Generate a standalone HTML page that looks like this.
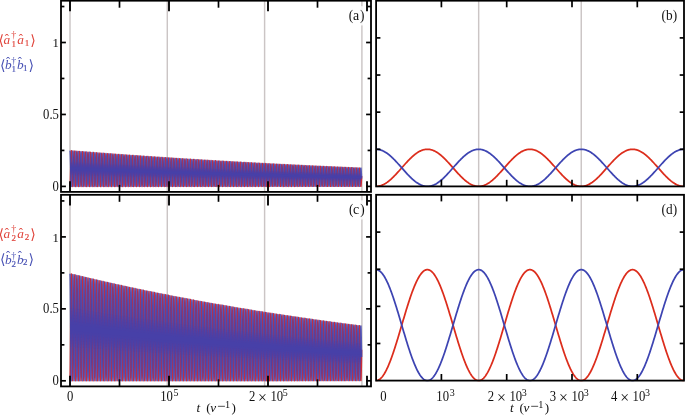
<!DOCTYPE html>
<html><head><meta charset="utf-8"><title>plot</title>
<style>html,body{margin:0;padding:0;background:#fff;overflow:hidden}svg{display:block}</style></head>
<body>
<svg width="685" height="415" viewBox="0 0 685 415" font-family="'Liberation Serif', 'DejaVu Serif', serif">
<defs>
<clipPath id="cb"><rect x="376.1" y="0.7" width="307.9" height="186.60000000000002"/></clipPath>
<clipPath id="cd"><rect x="376.1" y="194.8" width="307.9" height="186.70000000000002"/></clipPath>
</defs>
<rect width="685" height="415" fill="#fff"/>
<line x1="70.00" y1="0.70" x2="70.00" y2="191.90" stroke="#cbc5c5" stroke-width="1.45" />
<line x1="167.30" y1="0.70" x2="167.30" y2="191.90" stroke="#cbc5c5" stroke-width="1.45" />
<line x1="264.60" y1="0.70" x2="264.60" y2="191.90" stroke="#cbc5c5" stroke-width="1.45" />
<line x1="361.90" y1="0.70" x2="361.90" y2="191.90" stroke="#cbc5c5" stroke-width="1.45" />
<line x1="70.00" y1="194.80" x2="70.00" y2="386.40" stroke="#cbc5c5" stroke-width="1.45" />
<line x1="167.30" y1="194.80" x2="167.30" y2="386.40" stroke="#cbc5c5" stroke-width="1.45" />
<line x1="264.60" y1="194.80" x2="264.60" y2="386.40" stroke="#cbc5c5" stroke-width="1.45" />
<line x1="361.90" y1="194.80" x2="361.90" y2="386.40" stroke="#cbc5c5" stroke-width="1.45" />
<line x1="478.67" y1="0.70" x2="478.67" y2="186.40" stroke="#cbc5c5" stroke-width="1.45" />
<line x1="581.25" y1="0.70" x2="581.25" y2="186.40" stroke="#cbc5c5" stroke-width="1.45" />
<line x1="478.67" y1="194.80" x2="478.67" y2="380.60" stroke="#cbc5c5" stroke-width="1.45" />
<line x1="581.25" y1="194.80" x2="581.25" y2="380.60" stroke="#cbc5c5" stroke-width="1.45" />
<polyline fill="none" stroke="#d22c34" stroke-width="1.5" stroke-opacity="1" stroke-linejoin="round" points="70.00,186.40 70.17,185.04 70.35,181.18 70.52,175.39 70.69,168.58 70.87,161.77 71.04,156.01 71.21,152.16 71.39,150.83 71.56,152.20 71.73,156.07 71.90,161.85 72.08,168.66 72.25,175.46 72.42,181.22 72.60,185.06 72.77,186.40 72.94,185.04 73.12,181.19 73.29,175.44 73.46,168.67 73.64,161.91 73.81,156.18 73.98,152.37 74.16,151.05 74.33,152.42 74.50,156.28 74.68,162.02 74.85,168.79 75.02,175.55 75.19,181.26 75.37,185.07 75.54,186.40 75.71,185.04 75.89,181.21 76.06,175.49 76.23,168.76 76.41,162.04 76.58,156.36 76.75,152.58 76.93,151.27 77.10,152.65 77.27,156.48 77.45,162.20 77.62,168.92 77.79,175.64 77.97,181.31 78.14,185.09 78.31,186.40 78.48,185.04 78.66,181.23 78.83,175.54 79.00,168.85 79.18,162.17 79.35,156.53 79.52,152.78 79.70,151.50 79.87,152.87 80.04,156.69 80.22,162.37 80.39,169.06 80.56,175.72 80.74,181.36 80.91,185.11 81.08,186.40 81.26,185.04 81.43,181.25 81.60,175.59 81.77,168.94 81.95,162.31 82.12,156.71 82.29,152.99 82.47,151.72 82.64,153.09 82.81,156.89 82.99,162.54 83.16,169.19 83.33,175.81 83.51,181.41 83.68,185.12 83.85,186.40 84.03,185.04 84.20,181.26 84.37,175.64 84.55,169.03 84.72,162.44 84.89,156.88 85.06,153.19 85.24,151.94 85.41,153.31 85.58,157.09 85.76,162.71 85.93,169.32 86.10,175.90 86.28,181.45 86.45,185.14 86.62,186.40 86.80,185.04 86.97,181.28 87.14,175.69 87.32,169.12 87.49,162.57 87.66,157.05 87.84,153.39 88.01,152.15 88.18,153.52 88.35,157.29 88.53,162.88 88.70,169.45 88.87,175.98 89.05,181.50 89.22,185.16 89.39,186.40 89.57,185.04 89.74,181.30 89.91,175.73 90.09,169.20 90.26,162.70 90.43,157.22 90.61,153.59 90.78,152.37 90.95,153.74 91.13,157.49 91.30,163.05 91.47,169.58 91.64,176.07 91.82,181.54 91.99,185.17 92.16,186.40 92.34,185.04 92.51,181.31 92.68,175.78 92.86,169.29 93.03,162.83 93.20,157.39 93.38,153.79 93.55,152.59 93.72,153.95 93.90,157.69 94.07,163.22 94.24,169.70 94.42,176.15 94.59,181.59 94.76,185.19 94.93,186.40 95.11,185.04 95.28,181.33 95.45,175.83 95.63,169.38 95.80,162.96 95.97,157.56 96.15,153.99 96.32,152.80 96.49,154.17 96.67,157.88 96.84,163.38 97.01,169.83 97.19,176.24 97.36,181.64 97.53,185.20 97.71,186.40 97.88,185.04 98.05,181.35 98.22,175.88 98.40,169.47 98.57,163.09 98.74,157.73 98.92,154.19 99.09,153.01 99.26,154.38 99.44,158.08 99.61,163.55 99.78,169.95 99.96,176.32 100.13,181.68 100.30,185.22 100.48,186.40 100.65,185.05 100.82,181.37 101.00,175.93 101.17,169.55 101.34,163.22 101.51,157.89 101.69,154.38 101.86,153.22 102.03,154.59 102.21,158.27 102.38,163.71 102.55,170.08 102.73,176.40 102.90,181.72 103.07,185.23 103.25,186.40 103.42,185.05 103.59,181.38 103.77,175.97 103.94,169.64 104.11,163.35 104.29,158.06 104.46,154.58 104.63,153.43 104.80,154.80 104.98,158.47 105.15,163.87 105.32,170.20 105.50,176.48 105.67,181.77 105.84,185.25 106.02,186.40 106.19,185.05 106.36,181.40 106.54,176.02 106.71,169.72 106.88,163.48 107.06,158.23 107.23,154.77 107.40,153.64 107.58,155.01 107.75,158.66 107.92,164.04 108.10,170.32 108.27,176.57 108.44,181.81 108.61,185.26 108.79,186.40 108.96,185.05 109.13,181.42 109.31,176.07 109.48,169.81 109.65,163.60 109.83,158.39 110.00,154.96 110.17,153.85 110.35,155.21 110.52,158.85 110.69,164.20 110.87,170.45 111.04,176.65 111.21,181.85 111.39,185.28 111.56,186.40 111.73,185.05 111.90,181.43 112.08,176.11 112.25,169.89 112.42,163.73 112.60,158.55 112.77,155.16 112.94,154.06 113.12,155.42 113.29,159.04 113.46,164.35 113.64,170.57 113.81,176.73 113.98,181.90 114.16,185.29 114.33,186.40 114.50,185.05 114.68,181.45 114.85,176.16 115.02,169.98 115.19,163.85 115.37,158.71 115.54,155.35 115.71,154.26 115.89,155.62 116.06,159.22 116.23,164.51 116.41,170.69 116.58,176.81 116.75,181.94 116.93,185.31 117.10,186.40 117.27,185.05 117.45,181.47 117.62,176.21 117.79,170.06 117.97,163.98 118.14,158.88 118.31,155.54 118.48,154.46 118.66,155.82 118.83,159.41 119.00,164.67 119.18,170.81 119.35,176.88 119.52,181.98 119.70,185.32 119.87,186.40 120.04,185.05 120.22,181.49 120.39,176.25 120.56,170.15 120.74,164.10 120.91,159.04 121.08,155.72 121.26,154.67 121.43,156.03 121.60,159.59 121.77,164.83 121.95,170.92 122.12,176.96 122.29,182.02 122.47,185.33 122.64,186.40 122.81,185.05 122.99,181.50 123.16,176.30 123.33,170.23 123.51,164.22 123.68,159.20 123.85,155.91 124.03,154.87 124.20,156.23 124.37,159.78 124.55,164.98 124.72,171.04 124.89,177.04 125.06,182.06 125.24,185.35 125.41,186.40 125.58,185.05 125.76,181.52 125.93,176.34 126.10,170.31 126.28,164.35 126.45,159.35 126.62,156.10 126.80,155.07 126.97,156.42 127.14,159.96 127.32,165.13 127.49,171.16 127.66,177.12 127.84,182.10 128.01,185.36 128.18,186.39 128.35,185.05 128.53,181.54 128.70,176.39 128.87,170.39 129.05,164.47 129.22,159.51 129.39,156.28 129.57,155.27 129.74,156.62 129.91,160.14 130.09,165.29 130.26,171.27 130.43,177.19 130.61,182.14 130.78,185.37 130.95,186.39 131.13,185.05 131.30,181.55 131.47,176.43 131.64,170.48 131.82,164.59 131.99,159.67 132.16,156.46 132.34,155.46 132.51,156.82 132.68,160.32 132.86,165.44 133.03,171.39 133.20,177.27 133.38,182.18 133.55,185.39 133.72,186.39 133.90,185.05 134.07,181.57 134.24,176.48 134.42,170.56 134.59,164.71 134.76,159.82 134.93,156.65 135.11,155.66 135.28,157.01 135.45,160.50 135.63,165.59 135.80,171.50 135.97,177.34 136.15,182.22 136.32,185.40 136.49,186.39 136.67,185.05 136.84,181.59 137.01,176.52 137.19,170.64 137.36,164.83 137.53,159.98 137.71,156.83 137.88,155.85 138.05,157.21 138.22,160.68 138.40,165.74 138.57,171.62 138.74,177.42 138.92,182.26 139.09,185.41 139.26,186.39 139.44,185.05 139.61,181.60 139.78,176.57 139.96,170.72 140.13,164.95 140.30,160.13 140.48,157.01 140.65,156.05 140.82,157.40 141.00,160.85 141.17,165.88 141.34,171.73 141.51,177.49 141.69,182.30 141.86,185.43 142.03,186.39 142.21,185.05 142.38,181.62 142.55,176.61 142.73,170.80 142.90,165.07 143.07,160.29 143.25,157.19 143.42,156.24 143.59,157.59 143.77,161.03 143.94,166.03 144.11,171.84 144.29,177.57 144.46,182.34 144.63,185.44 144.80,186.39 144.98,185.06 145.15,181.64 145.32,176.66 145.50,170.88 145.67,165.18 145.84,160.44 146.02,157.37 146.19,156.43 146.36,157.78 146.54,161.20 146.71,166.18 146.88,171.95 147.06,177.64 147.23,182.38 147.40,185.45 147.58,186.39 147.75,185.06 147.92,181.65 148.09,176.70 148.27,170.96 148.44,165.30 148.61,160.59 148.79,157.54 148.96,156.62 149.13,157.97 149.31,161.37 149.48,166.32 149.65,172.06 149.83,177.71 150.00,182.42 150.17,185.46 150.35,186.39 150.52,185.06 150.69,181.67 150.87,176.75 151.04,171.04 151.21,165.42 151.38,160.74 151.56,157.72 151.73,156.81 151.90,158.15 152.08,161.55 152.25,166.47 152.42,172.17 152.60,177.78 152.77,182.45 152.94,185.48 153.12,186.39 153.29,185.06 153.46,181.69 153.64,176.79 153.81,171.12 153.98,165.53 154.16,160.89 154.33,157.89 154.50,157.00 154.67,158.34 154.85,161.72 155.02,166.61 155.19,172.28 155.37,177.85 155.54,182.49 155.71,185.49 155.89,186.39 156.06,185.06 156.23,181.70 156.41,176.83 156.58,171.20 156.75,165.65 156.93,161.04 157.10,158.07 157.27,157.18 157.45,158.53 157.62,161.89 157.79,166.75 157.96,172.38 158.14,177.92 158.31,182.53 158.48,185.50 158.66,186.39 158.83,185.06 159.00,181.72 159.18,176.88 159.35,171.27 159.52,165.76 159.70,161.19 159.87,158.24 160.04,157.37 160.22,158.71 160.39,162.05 160.56,166.89 160.74,172.49 160.91,177.99 161.08,182.57 161.25,185.51 161.43,186.39 161.60,185.06 161.77,181.74 161.95,176.92 162.12,171.35 162.29,165.88 162.47,161.33 162.64,158.41 162.81,157.55 162.99,158.89 163.16,162.22 163.33,167.03 163.51,172.60 163.68,178.06 163.85,182.60 164.03,185.52 164.20,186.39 164.37,185.06 164.54,181.75 164.72,176.96 164.89,171.43 165.06,165.99 165.24,161.48 165.41,158.58 165.58,157.74 165.76,159.07 165.93,162.39 166.10,167.17 166.28,172.70 166.45,178.13 166.62,182.64 166.80,185.54 166.97,186.39 167.14,185.06 167.32,181.77 167.49,177.01 167.66,171.51 167.83,166.11 168.01,161.63 168.18,158.75 168.35,157.92 168.53,159.25 168.70,162.55 168.87,167.31 169.05,172.81 169.22,178.20 169.39,182.67 169.57,185.55 169.74,186.39 169.91,185.06 170.09,181.78 170.26,177.05 170.43,171.58 170.61,166.22 170.78,161.77 170.95,158.92 171.12,158.10 171.30,159.43 171.47,162.72 171.64,167.45 171.82,172.91 171.99,178.27 172.16,182.71 172.34,185.56 172.51,186.39 172.68,185.06 172.86,181.80 173.03,177.09 173.20,171.66 173.38,166.33 173.55,161.92 173.72,159.09 173.90,158.28 174.07,159.61 174.24,162.88 174.41,167.58 174.59,173.01 174.76,178.33 174.93,182.74 175.11,185.57 175.28,186.38 175.45,185.07 175.63,181.82 175.80,177.14 175.97,171.74 176.15,166.44 176.32,162.06 176.49,159.26 176.67,158.46 176.84,159.79 177.01,163.04 177.19,167.72 177.36,173.11 177.53,178.40 177.70,182.78 177.88,185.58 178.05,186.38 178.22,185.07 178.40,181.83 178.57,177.18 178.74,171.81 178.92,166.55 179.09,162.20 179.26,159.42 179.44,158.64 179.61,159.96 179.78,163.20 179.96,167.85 180.13,173.21 180.30,178.47 180.48,182.81 180.65,185.59 180.82,186.38 181.00,185.07 181.17,181.85 181.34,177.22 181.51,171.89 181.69,166.66 181.86,162.34 182.03,159.59 182.21,158.81 182.38,160.14 182.55,163.36 182.73,167.99 182.90,173.31 183.07,178.53 183.25,182.85 183.42,185.60 183.59,186.38 183.77,185.07 183.94,181.87 184.11,177.26 184.29,171.96 184.46,166.77 184.63,162.48 184.80,159.75 184.98,158.99 185.15,160.31 185.32,163.52 185.50,168.12 185.67,173.41 185.84,178.60 186.02,182.88 186.19,185.61 186.36,186.38 186.54,185.07 186.71,181.88 186.88,177.30 187.06,172.04 187.23,166.88 187.40,162.62 187.58,159.91 187.75,159.16 187.92,160.48 188.09,163.67 188.27,168.25 188.44,173.51 188.61,178.66 188.79,182.91 188.96,185.62 189.13,186.38 189.31,185.07 189.48,181.90 189.65,177.35 189.83,172.11 190.00,166.99 190.17,162.76 190.35,160.07 190.52,159.33 190.69,160.65 190.87,163.83 191.04,168.38 191.21,173.61 191.38,178.73 191.56,182.95 191.73,185.63 191.90,186.38 192.08,185.07 192.25,181.91 192.42,177.39 192.60,172.18 192.77,167.10 192.94,162.90 193.12,160.23 193.29,159.51 193.46,160.82 193.64,163.99 193.81,168.51 193.98,173.71 194.16,178.79 194.33,182.98 194.50,185.65 194.67,186.38 194.85,185.07 195.02,181.93 195.19,177.43 195.37,172.26 195.54,167.20 195.71,163.04 195.89,160.39 196.06,159.68 196.23,160.99 196.41,164.14 196.58,168.64 196.75,173.81 196.93,178.85 197.10,183.01 197.27,185.66 197.45,186.38 197.62,185.07 197.79,181.95 197.96,177.47 198.14,172.33 198.31,167.31 198.48,163.17 198.66,160.55 198.83,159.85 199.00,161.16 199.18,164.29 199.35,168.77 199.52,173.90 199.70,178.92 199.87,183.05 200.04,185.67 200.22,186.38 200.39,185.08 200.56,181.96 200.74,177.51 200.91,172.40 201.08,167.41 201.25,163.31 201.43,160.71 201.60,160.02 201.77,161.33 201.95,164.44 202.12,168.89 202.29,174.00 202.47,178.98 202.64,183.08 202.81,185.68 202.99,186.38 203.16,185.08 203.33,181.98 203.51,177.55 203.68,172.47 203.85,167.52 204.03,163.44 204.20,160.87 204.37,160.18 204.54,161.49 204.72,164.60 204.89,169.02 205.06,174.09 205.24,179.04 205.41,183.11 205.58,185.69 205.76,186.38 205.93,185.08 206.10,181.99 206.28,177.59 206.45,172.55 206.62,167.62 206.80,163.58 206.97,161.02 207.14,160.35 207.32,161.66 207.49,164.74 207.66,169.14 207.83,174.19 208.01,179.10 208.18,183.14 208.35,185.70 208.53,186.38 208.70,185.08 208.87,182.01 209.05,177.63 209.22,172.62 209.39,167.73 209.57,163.71 209.74,161.18 209.91,160.52 210.09,161.82 210.26,164.89 210.43,169.27 210.61,174.28 210.78,179.16 210.95,183.17 211.12,185.70 211.30,186.37 211.47,185.08 211.64,182.02 211.82,177.67 211.99,172.69 212.16,167.83 212.34,163.85 212.51,161.33 212.68,160.68 212.86,161.98 213.03,165.04 213.20,169.39 213.38,174.37 213.55,179.22 213.72,183.20 213.90,185.71 214.07,186.37 214.24,185.08 214.41,182.04 214.59,177.71 214.76,172.76 214.93,167.94 215.11,163.98 215.28,161.49 215.45,160.84 215.63,162.14 215.80,165.19 215.97,169.51 216.15,174.46 216.32,179.28 216.49,183.23 216.67,185.72 216.84,186.37 217.01,185.08 217.19,182.06 217.36,177.75 217.53,172.83 217.70,168.04 217.88,164.11 218.05,161.64 218.22,161.01 218.40,162.30 218.57,165.33 218.74,169.64 218.92,174.55 219.09,179.34 219.26,183.26 219.44,185.73 219.61,186.37 219.78,185.09 219.96,182.07 220.13,177.79 220.30,172.90 220.48,168.14 220.65,164.24 220.82,161.79 220.99,161.17 221.17,162.46 221.34,165.48 221.51,169.76 221.69,174.64 221.86,179.40 222.03,183.29 222.21,185.74 222.38,186.37 222.55,185.09 222.73,182.09 222.90,177.83 223.07,172.97 223.25,168.24 223.42,164.37 223.59,161.94 223.77,161.33 223.94,162.62 224.11,165.62 224.28,169.88 224.46,174.73 224.63,179.46 224.80,183.32 224.98,185.75 225.15,186.37 225.32,185.09 225.50,182.10 225.67,177.87 225.84,173.04 226.02,168.34 226.19,164.50 226.36,162.09 226.54,161.49 226.71,162.78 226.88,165.77 227.06,170.00 227.23,174.82 227.40,179.51 227.57,183.35 227.75,185.76 227.92,186.37 228.09,185.09 228.27,182.12 228.44,177.91 228.61,173.11 228.79,168.44 228.96,164.63 229.13,162.24 229.31,161.65 229.48,162.93 229.65,165.91 229.83,170.11 230.00,174.91 230.17,179.57 230.35,183.38 230.52,185.77 230.69,186.37 230.86,185.09 231.04,182.13 231.21,177.95 231.38,173.18 231.56,168.54 231.73,164.75 231.90,162.39 232.08,161.80 232.25,163.09 232.42,166.05 232.60,170.23 232.77,175.00 232.94,179.63 233.12,183.41 233.29,185.78 233.46,186.37 233.64,185.09 233.81,182.15 233.98,177.99 234.15,173.25 234.33,168.64 234.50,164.88 234.67,162.54 234.85,161.96 235.02,163.24 235.19,166.19 235.37,170.35 235.54,175.09 235.71,179.68 235.89,183.44 236.06,185.79 236.23,186.37 236.41,185.09 236.58,182.16 236.75,178.03 236.93,173.31 237.10,168.74 237.27,165.01 237.44,162.68 237.62,162.12 237.79,163.40 237.96,166.33 238.14,170.46 238.31,175.17 238.48,179.74 238.66,183.47 238.83,185.80 239.00,186.37 239.18,185.10 239.35,182.18 239.52,178.07 239.70,173.38 239.87,168.84 240.04,165.13 240.22,162.83 240.39,162.27 240.56,163.55 240.73,166.47 240.91,170.58 241.08,175.26 241.25,179.80 241.43,183.50 241.60,185.80 241.77,186.36 241.95,185.10 242.12,182.20 242.29,178.10 242.47,173.45 242.64,168.94 242.81,165.26 242.99,162.97 243.16,162.42 243.33,163.70 243.51,166.60 243.68,170.69 243.85,175.34 244.02,179.85 244.20,183.53 244.37,185.81 244.54,186.36 244.72,185.10 244.89,182.21 245.06,178.14 245.24,173.52 245.41,169.03 245.58,165.38 245.76,163.11 245.93,162.58 246.10,163.85 246.28,166.74 246.45,170.81 246.62,175.43 246.80,179.90 246.97,183.55 247.14,185.82 247.31,186.36 247.49,185.10 247.66,182.23 247.83,178.18 248.01,173.58 248.18,169.13 248.35,165.50 248.53,163.26 248.70,162.73 248.87,164.00 249.05,166.88 249.22,170.92 249.39,175.51 249.57,179.96 249.74,183.58 249.91,185.83 250.09,186.36 250.26,185.10 250.43,182.24 250.60,178.22 250.78,173.65 250.95,169.23 251.12,165.63 251.30,163.40 251.47,162.88 251.64,164.15 251.82,167.01 251.99,171.03 252.16,175.60 252.34,180.01 252.51,183.61 252.68,185.84 252.86,186.36 253.03,185.10 253.20,182.26 253.38,178.26 253.55,173.71 253.72,169.32 253.90,165.75 254.07,163.54 254.24,163.03 254.41,164.30 254.59,167.14 254.76,171.14 254.93,175.68 255.11,180.07 255.28,183.63 255.45,185.84 255.63,186.36 255.80,185.10 255.97,182.27 256.15,178.29 256.32,173.78 256.49,169.42 256.67,165.87 256.84,163.68 257.01,163.18 257.19,164.44 257.36,167.28 257.53,171.25 257.70,175.76 257.88,180.12 258.05,183.66 258.22,185.85 258.40,186.36 258.57,185.11 258.74,182.29 258.92,178.33 259.09,173.85 259.26,169.51 259.44,165.99 259.61,163.82 259.78,163.33 259.96,164.59 260.13,167.41 260.30,171.36 260.48,175.84 260.65,180.17 260.82,183.69 260.99,185.86 261.17,186.36 261.34,185.11 261.51,182.30 261.69,178.37 261.86,173.91 262.03,169.61 262.21,166.11 262.38,163.96 262.55,163.47 262.73,164.73 262.90,167.54 263.07,171.47 263.25,175.92 263.42,180.22 263.59,183.71 263.77,185.87 263.94,186.36 264.11,185.11 264.28,182.32 264.46,178.41 264.63,173.98 264.80,169.70 264.98,166.23 265.15,164.09 265.32,163.62 265.50,164.87 265.67,167.67 265.84,171.58 266.02,176.00 266.19,180.27 266.36,183.74 266.54,185.88 266.71,186.36 266.88,185.11 267.06,182.33 267.23,178.44 267.40,174.04 267.57,169.79 267.75,166.35 267.92,164.23 268.09,163.76 268.27,165.02 268.44,167.80 268.61,171.68 268.79,176.08 268.96,180.33 269.13,183.77 269.31,185.88 269.48,186.36 269.65,185.11 269.83,182.35 270.00,178.48 270.17,174.10 270.35,169.89 270.52,166.47 270.69,164.37 270.86,163.91 271.04,165.16 271.21,167.93 271.38,171.79 271.56,176.16 271.73,180.38 271.90,183.79 272.08,185.89 272.25,186.35 272.42,185.11 272.60,182.36 272.77,178.52 272.94,174.17 273.12,169.98 273.29,166.58 273.46,164.50 273.64,164.05 273.81,165.30 273.98,168.05 274.15,171.90 274.33,176.24 274.50,180.43 274.67,183.82 274.85,185.90 275.02,186.35 275.19,185.12 275.37,182.38 275.54,178.55 275.71,174.23 275.89,170.07 276.06,166.70 276.23,164.64 276.41,164.19 276.58,165.44 276.75,168.18 276.93,172.00 277.10,176.32 277.27,180.48 277.44,183.84 277.62,185.90 277.79,186.35 277.96,185.12 278.14,182.39 278.31,178.59 278.48,174.30 278.66,170.16 278.83,166.82 279.00,164.77 279.18,164.34 279.35,165.58 279.52,168.31 279.70,172.11 279.87,176.40 280.04,180.53 280.22,183.87 280.39,185.91 280.56,186.35 280.73,185.12 280.91,182.41 281.08,178.63 281.25,174.36 281.43,170.25 281.60,166.93 281.77,164.90 281.95,164.48 282.12,165.72 282.29,168.43 282.47,172.21 282.64,176.47 282.81,180.58 282.99,183.89 283.16,185.92 283.33,186.35 283.51,185.12 283.68,182.42 283.85,178.66 284.02,174.42 284.20,170.34 284.37,167.04 284.54,165.04 284.72,164.62 284.89,165.85 285.06,168.56 285.24,172.31 285.41,176.55 285.58,180.62 285.76,183.92 285.93,185.93 286.10,186.35 286.28,185.12 286.45,182.44 286.62,178.70 286.80,174.48 286.97,170.43 287.14,167.16 287.31,165.17 287.49,164.76 287.66,165.99 287.83,168.68 288.01,172.41 288.18,176.62 288.35,180.67 288.53,183.94 288.70,185.93 288.87,186.35 289.05,185.12 289.22,182.45 289.39,178.74 289.57,174.55 289.74,170.52 289.91,167.27 290.09,165.30 290.26,164.89 290.43,166.12 290.60,168.80 290.78,172.51 290.95,176.70 291.12,180.72 291.30,183.96 291.47,185.94 291.64,186.35 291.82,185.13 291.99,182.47 292.16,178.77 292.34,174.61 292.51,170.61 292.68,167.38 292.86,165.43 293.03,165.03 293.20,166.26 293.38,168.92 293.55,172.61 293.72,176.77 293.89,180.77 294.07,183.99 294.24,185.95 294.41,186.35 294.59,185.13 294.76,182.48 294.93,178.81 295.11,174.67 295.28,170.70 295.45,167.50 295.63,165.55 295.80,165.17 295.97,166.39 296.15,169.04 296.32,172.71 296.49,176.85 296.67,180.82 296.84,184.01 297.01,185.95 297.18,186.35 297.36,185.13 297.53,182.49 297.70,178.84 297.88,174.73 298.05,170.78 298.22,167.61 298.40,165.68 298.57,165.30 298.74,166.53 298.92,169.16 299.09,172.81 299.26,176.92 299.44,180.86 299.61,184.04 299.78,185.96 299.96,186.34 300.13,185.13 300.30,182.51 300.47,178.88 300.65,174.79 300.82,170.87 300.99,167.72 301.17,165.81 301.34,165.44 301.51,166.66 301.69,169.28 301.86,172.91 302.03,176.99 302.21,180.91 302.38,184.06 302.55,185.97 302.73,186.34 302.90,185.13 303.07,182.52 303.25,178.91 303.42,174.85 303.59,170.96 303.76,167.83 303.94,165.94 304.11,165.57 304.28,166.79 304.46,169.40 304.63,173.01 304.80,177.07 304.98,180.95 305.15,184.08 305.32,185.97 305.50,186.34 305.67,185.14 305.84,182.54 306.02,178.95 306.19,174.91 306.36,171.04 306.54,167.94 306.71,166.06 306.88,165.70 307.05,166.92 307.23,169.52 307.40,173.11 307.57,177.14 307.75,181.00 307.92,184.10 308.09,185.98 308.27,186.34 308.44,185.14 308.61,182.55 308.79,178.98 308.96,174.97 309.13,171.13 309.31,168.05 309.48,166.19 309.65,165.84 309.83,167.05 310.00,169.63 310.17,173.20 310.34,177.21 310.52,181.05 310.69,184.13 310.86,185.99 311.04,186.34 311.21,185.14 311.38,182.57 311.56,179.02 311.73,175.03 311.90,171.22 312.08,168.15 312.25,166.31 312.42,165.97 312.60,167.18 312.77,169.75 312.94,173.30 313.12,177.28 313.29,181.09 313.46,184.15 313.63,185.99 313.81,186.34 313.98,185.14 314.15,182.58 314.33,179.05 314.50,175.09 314.67,171.30 314.85,168.26 315.02,166.43 315.19,166.10 315.37,167.30 315.54,169.86 315.71,173.39 315.89,177.35 316.06,181.13 316.23,184.17 316.41,186.00 316.58,186.34 316.75,185.14 316.92,182.60 317.10,179.09 317.27,175.15 317.44,171.38 317.62,168.37 317.79,166.56 317.96,166.23 318.14,167.43 318.31,169.98 318.48,173.49 318.66,177.42 318.83,181.18 319.00,184.19 319.18,186.00 319.35,186.34 319.52,185.15 319.70,182.61 319.87,179.12 320.04,175.21 320.21,171.47 320.39,168.47 320.56,166.68 320.73,166.36 320.91,167.56 321.08,170.09 321.25,173.58 321.43,177.49 321.60,181.22 321.77,184.21 321.95,186.01 322.12,186.34 322.29,185.15 322.47,182.62 322.64,179.15 322.81,175.27 322.99,171.55 323.16,168.58 323.33,166.80 323.50,166.49 323.68,167.68 323.85,170.21 324.02,173.67 324.20,177.56 324.37,181.27 324.54,184.24 324.72,186.02 324.89,186.34 325.06,185.15 325.24,182.64 325.41,179.19 325.58,175.32 325.76,171.64 325.93,168.68 326.10,166.92 326.28,166.61 326.45,167.81 326.62,170.32 326.80,173.77 326.97,177.63 327.14,181.31 327.31,184.26 327.49,186.02 327.66,186.33 327.83,185.15 328.01,182.65 328.18,179.22 328.35,175.38 328.53,171.72 328.70,168.79 328.87,167.04 329.05,166.74 329.22,167.93 329.39,170.43 329.57,173.86 329.74,177.69 329.91,181.35 330.09,184.28 330.26,186.03 330.43,186.33 330.60,185.15 330.78,182.67 330.95,179.26 331.12,175.44 331.30,171.80 331.47,168.89 331.64,167.16 331.82,166.86 331.99,168.05 332.16,170.54 332.34,173.95 332.51,177.76 332.68,181.40 332.86,184.30 333.03,186.03 333.20,186.33 333.38,185.15 333.55,182.68 333.72,179.29 333.89,175.50 334.07,171.88 334.24,169.00 334.41,167.28 334.59,166.99 334.76,168.17 334.93,170.65 335.11,174.04 335.28,177.83 335.45,181.44 335.63,184.32 335.80,186.04 335.97,186.33 336.15,185.16 336.32,182.69 336.49,179.32 336.67,175.55 336.84,171.96 337.01,169.10 337.18,167.40 337.36,167.11 337.53,168.29 337.70,170.76 337.88,174.13 338.05,177.89 338.22,181.48 338.40,184.34 338.57,186.04 338.74,186.33 338.92,185.16 339.09,182.71 339.26,179.36 339.44,175.61 339.61,172.04 339.78,169.20 339.96,167.51 340.13,167.24 340.30,168.41 340.47,170.87 340.65,174.22 340.82,177.96 340.99,181.52 341.17,184.36 341.34,186.05 341.51,186.33 341.69,185.16 341.86,182.72 342.03,179.39 342.21,175.67 342.38,172.12 342.55,169.30 342.73,167.63 342.90,167.36 343.07,168.53 343.25,170.97 343.42,174.31 343.59,178.02 343.76,181.56 343.94,184.38 344.11,186.05 344.28,186.33 344.46,185.16 344.63,182.74 344.80,179.42 344.98,175.72 345.15,172.20 345.32,169.40 345.50,167.74 345.67,167.48 345.84,168.65 346.02,171.08 346.19,174.39 346.36,178.09 346.54,181.60 346.71,184.40 346.88,186.06 347.05,186.33 347.23,185.16 347.40,182.75 347.57,179.45 347.75,175.78 347.92,172.28 348.09,169.50 348.27,167.86 348.44,167.60 348.61,168.77 348.79,171.19 348.96,174.48 349.13,178.15 349.31,181.64 349.48,184.42 349.65,186.07 349.83,186.33 350.00,185.17 350.17,182.76 350.34,179.49 350.52,175.83 350.69,172.36 350.86,169.60 351.04,167.97 351.21,167.72 351.38,168.89 351.56,171.29 351.73,174.57 351.90,178.22 352.08,181.68 352.25,184.44 352.42,186.07 352.60,186.33 352.77,185.17 352.94,182.78 353.12,179.52 353.29,175.89 353.46,172.44 353.63,169.70 353.81,168.09 353.98,167.84 354.15,169.00 354.33,171.40 354.50,174.65 354.67,178.28 354.85,181.72 355.02,184.46 355.19,186.08 355.37,186.32 355.54,185.17 355.71,182.79 355.89,179.55 356.06,175.94 356.23,172.52 356.41,169.80 356.58,168.20 356.75,167.96 356.92,169.12 357.10,171.50 357.27,174.74 357.44,178.34 357.62,181.76 357.79,184.48 357.96,186.08 358.14,186.32 358.31,185.17 358.48,182.81 358.66,179.58 358.83,176.00 359.00,172.60 359.18,169.90 359.35,168.31 359.52,168.08 359.70,169.23 359.87,171.60 360.04,174.82 360.21,178.40 360.39,181.80 360.56,184.50 360.73,186.09 360.91,186.32 361.08,185.18 361.25,182.82 361.43,179.62 361.60,176.05"/>
<polyline fill="none" stroke="#3d44b2" stroke-width="1.45" stroke-opacity="0.85" stroke-linejoin="round" points="70.00,150.71 70.17,152.09 70.35,155.97 70.52,161.76 70.69,168.59 70.87,175.41 71.04,181.19 71.21,185.05 71.39,186.40 71.56,185.04 71.73,181.18 71.90,175.42 72.08,168.62 72.25,161.84 72.42,156.09 72.60,152.27 72.77,150.94 72.94,152.31 73.12,156.17 73.29,161.94 73.46,168.72 73.64,175.50 73.81,181.24 73.98,185.07 74.16,186.40 74.33,185.04 74.50,181.20 74.68,175.47 74.85,168.72 75.02,161.97 75.19,156.27 75.37,152.47 75.54,151.16 75.71,152.53 75.89,156.38 76.06,162.11 76.23,168.86 76.41,175.59 76.58,181.29 76.75,185.08 76.93,186.40 77.10,185.04 77.27,181.22 77.45,175.52 77.62,168.81 77.79,162.11 77.97,156.45 78.14,152.68 78.31,151.39 78.48,152.76 78.66,156.58 78.83,162.29 79.00,168.99 79.18,175.68 79.35,181.34 79.52,185.10 79.70,186.40 79.87,185.04 80.04,181.24 80.22,175.57 80.39,168.89 80.56,162.24 80.74,156.62 80.91,152.89 81.08,151.61 81.26,152.98 81.43,156.79 81.60,162.46 81.77,169.12 81.95,175.77 82.12,181.38 82.29,185.12 82.47,186.40 82.64,185.04 82.81,181.25 82.99,175.61 83.16,168.98 83.33,162.37 83.51,156.79 83.68,153.09 83.85,151.83 84.03,153.20 84.20,156.99 84.37,162.63 84.55,169.25 84.72,175.85 84.89,181.43 85.06,185.13 85.24,186.40 85.41,185.04 85.58,181.27 85.76,175.66 85.93,169.07 86.10,162.51 86.28,156.96 86.45,153.29 86.62,152.05 86.80,153.42 86.97,157.19 87.14,162.80 87.32,169.38 87.49,175.94 87.66,181.48 87.84,185.15 88.01,186.40 88.18,185.04 88.35,181.29 88.53,175.71 88.70,169.16 88.87,162.64 89.05,157.14 89.22,153.49 89.39,152.26 89.57,153.63 89.74,157.39 89.91,162.97 90.09,169.51 90.26,176.03 90.43,181.52 90.61,185.16 90.78,186.40 90.95,185.04 91.13,181.31 91.30,175.76 91.47,169.25 91.64,162.77 91.82,157.31 91.99,153.69 92.16,152.48 92.34,153.85 92.51,157.59 92.68,163.14 92.86,169.64 93.03,176.11 93.20,181.57 93.38,185.18 93.55,186.40 93.72,185.04 93.90,181.32 94.07,175.81 94.24,169.34 94.42,162.90 94.59,157.48 94.76,153.89 94.93,152.69 95.11,154.06 95.28,157.79 95.45,163.30 95.63,169.77 95.80,176.20 95.97,181.61 96.15,185.19 96.32,186.40 96.49,185.04 96.67,181.34 96.84,175.85 97.01,169.42 97.19,163.03 97.36,157.64 97.53,154.09 97.71,152.91 97.88,154.27 98.05,157.98 98.22,163.47 98.40,169.89 98.57,176.28 98.74,181.66 98.92,185.21 99.09,186.40 99.26,185.04 99.44,181.36 99.61,175.90 99.78,169.51 99.96,163.16 100.13,157.81 100.30,154.29 100.48,153.12 100.65,154.48 100.82,158.18 101.00,163.63 101.17,170.02 101.34,176.36 101.51,181.70 101.69,185.23 101.86,186.40 102.03,185.05 102.21,181.38 102.38,175.95 102.55,169.60 102.73,163.28 102.90,157.98 103.07,154.48 103.25,153.33 103.42,154.69 103.59,158.37 103.77,163.79 103.94,170.14 104.11,176.44 104.29,181.75 104.46,185.24 104.63,186.40 104.80,185.05 104.98,181.39 105.15,176.00 105.32,169.68 105.50,163.41 105.67,158.14 105.84,154.68 106.02,153.54 106.19,154.90 106.36,158.56 106.54,163.96 106.71,170.26 106.88,176.53 107.06,181.79 107.23,185.25 107.40,186.40 107.58,185.05 107.75,181.41 107.92,176.04 108.10,169.77 108.27,163.54 108.44,158.31 108.61,154.87 108.79,153.75 108.96,155.11 109.13,158.75 109.31,164.12 109.48,170.39 109.65,176.61 109.83,181.83 110.00,185.27 110.17,186.40 110.35,185.05 110.52,181.43 110.69,176.09 110.87,169.85 111.04,163.67 111.21,158.47 111.39,155.06 111.56,153.95 111.73,155.32 111.90,158.94 112.08,164.28 112.25,170.51 112.42,176.69 112.60,181.88 112.77,185.28 112.94,186.40 113.12,185.05 113.29,181.44 113.46,176.14 113.64,169.94 113.81,163.79 113.98,158.63 114.16,155.25 114.33,154.16 114.50,155.52 114.68,159.13 114.85,164.43 115.02,170.63 115.19,176.77 115.37,181.92 115.54,185.30 115.71,186.40 115.89,185.05 116.06,181.46 116.23,176.18 116.41,170.02 116.58,163.92 116.75,158.80 116.93,155.44 117.10,154.36 117.27,155.72 117.45,159.32 117.62,164.59 117.79,170.75 117.97,176.85 118.14,181.96 118.31,185.31 118.48,186.40 118.66,185.05 118.83,181.48 119.00,176.23 119.18,170.10 119.35,164.04 119.52,158.96 119.70,155.63 119.87,154.57 120.04,155.93 120.22,159.50 120.39,164.75 120.56,170.87 120.74,176.92 120.91,182.00 121.08,185.33 121.26,186.40 121.43,185.05 121.60,181.49 121.77,176.27 121.95,170.19 122.12,164.16 122.29,159.12 122.47,155.82 122.64,154.77 122.81,156.13 122.99,159.69 123.16,164.90 123.33,170.98 123.51,177.00 123.68,182.04 123.85,185.34 124.03,186.40 124.20,185.05 124.37,181.51 124.55,176.32 124.72,170.27 124.89,164.29 125.06,159.27 125.24,156.00 125.41,154.97 125.58,156.33 125.76,159.87 125.93,165.06 126.10,171.10 126.28,177.08 126.45,182.08 126.62,185.35 126.80,186.39 126.97,185.05 127.14,181.53 127.32,176.37 127.49,170.35 127.66,164.41 127.84,159.43 128.01,156.19 128.18,155.17 128.35,156.52 128.53,160.05 128.70,165.21 128.87,171.22 129.05,177.16 129.22,182.12 129.39,185.37 129.57,186.39 129.74,185.05 129.91,181.54 130.09,176.41 130.26,170.44 130.43,164.53 130.61,159.59 130.78,156.37 130.95,155.36 131.13,156.72 131.30,160.23 131.47,165.36 131.64,171.33 131.82,177.23 131.99,182.16 132.16,185.38 132.34,186.39 132.51,185.05 132.68,181.56 132.86,176.46 133.03,170.52 133.20,164.65 133.38,159.75 133.55,156.56 133.72,155.56 133.90,156.92 134.07,160.41 134.24,165.51 134.42,171.45 134.59,177.31 134.76,182.20 134.93,185.39 135.11,186.39 135.28,185.05 135.45,181.58 135.63,176.50 135.80,170.60 135.97,164.77 136.15,159.90 136.32,156.74 136.49,155.76 136.67,157.11 136.84,160.59 137.01,165.66 137.19,171.56 137.36,177.38 137.53,182.24 137.71,185.41 137.88,186.39 138.05,185.05 138.22,181.59 138.40,176.55 138.57,170.68 138.74,164.89 138.92,160.06 139.09,156.92 139.26,155.95 139.44,157.30 139.61,160.76 139.78,165.81 139.96,171.67 140.13,177.46 140.30,182.28 140.48,185.42 140.65,186.39 140.82,185.05 141.00,181.61 141.17,176.59 141.34,170.76 141.51,165.01 141.69,160.21 141.86,157.10 142.03,156.14 142.21,157.49 142.38,160.94 142.55,165.96 142.73,171.78 142.90,177.53 143.07,182.32 143.25,185.43 143.42,186.39 143.59,185.05 143.77,181.63 143.94,176.64 144.11,170.84 144.29,165.13 144.46,160.36 144.63,157.28 144.80,156.34 144.98,157.68 145.15,161.11 145.32,166.10 145.50,171.89 145.67,177.60 145.84,182.36 146.02,185.45 146.19,186.39 146.36,185.06 146.54,181.64 146.71,176.68 146.88,170.92 147.06,165.24 147.23,160.51 147.40,157.45 147.58,156.53 147.75,157.87 147.92,161.29 148.09,166.25 148.27,172.00 148.44,177.67 148.61,182.40 148.79,185.46 148.96,186.39 149.13,185.06 149.31,181.66 149.48,176.72 149.65,171.00 149.83,165.36 150.00,160.67 150.17,157.63 150.35,156.72 150.52,158.06 150.69,161.46 150.87,166.40 151.04,172.11 151.21,177.75 151.38,182.44 151.56,185.47 151.73,186.39 151.90,185.06 152.08,181.68 152.25,176.77 152.42,171.08 152.60,165.48 152.77,160.82 152.94,157.81 153.12,156.90 153.29,158.25 153.46,161.63 153.64,166.54 153.81,172.22 153.98,177.82 154.16,182.47 154.33,185.48 154.50,186.39 154.67,185.06 154.85,181.69 155.02,176.81 155.19,171.16 155.37,165.59 155.54,160.97 155.71,157.98 155.89,157.09 156.06,158.43 156.23,161.80 156.41,166.68 156.58,172.33 156.75,177.89 156.93,182.51 157.10,185.49 157.27,186.39 157.45,185.06 157.62,181.71 157.79,176.86 157.96,171.24 158.14,165.71 158.31,161.11 158.48,158.15 158.66,157.28 158.83,158.62 159.00,161.97 159.18,166.82 159.35,172.44 159.52,177.96 159.70,182.55 159.87,185.51 160.04,186.39 160.22,185.06 160.39,181.73 160.56,176.90 160.74,171.31 160.91,165.82 161.08,161.26 161.25,158.33 161.43,157.46 161.60,158.80 161.77,162.14 161.95,166.96 162.12,172.54 162.29,178.03 162.47,182.58 162.64,185.52 162.81,186.39 162.99,185.06 163.16,181.74 163.33,176.94 163.51,171.39 163.68,165.94 163.85,161.41 164.03,158.50 164.20,157.65 164.37,158.98 164.54,162.30 164.72,167.10 164.89,172.65 165.06,178.10 165.24,182.62 165.41,185.53 165.58,186.39 165.76,185.06 165.93,181.76 166.10,176.99 166.28,171.47 166.45,166.05 166.62,161.55 166.80,158.67 166.97,157.83 167.14,159.16 167.32,162.47 167.49,167.24 167.66,172.75 167.83,178.17 168.01,182.66 168.18,185.54 168.35,186.39 168.53,185.06 168.70,181.78 168.87,177.03 169.05,171.55 169.22,166.16 169.39,161.70 169.57,158.84 169.74,158.01 169.91,159.34 170.09,162.63 170.26,167.38 170.43,172.86 170.61,178.23 170.78,182.69 170.95,185.55 171.12,186.39 171.30,185.06 171.47,181.79 171.64,177.07 171.82,171.62 171.99,166.27 172.16,161.84 172.34,159.00 172.51,158.19 172.68,159.52 172.86,162.80 173.03,167.52 173.20,172.96 173.38,178.30 173.55,182.73 173.72,185.56 173.90,186.38 174.07,185.07 174.24,181.81 174.41,177.11 174.59,171.70 174.76,166.39 174.93,161.99 175.11,159.17 175.28,158.37 175.45,159.70 175.63,162.96 175.80,167.65 175.97,173.06 176.15,178.37 176.32,182.76 176.49,185.58 176.67,186.38 176.84,185.07 177.01,181.83 177.19,177.16 177.36,171.77 177.53,166.50 177.70,162.13 177.88,159.34 178.05,158.55 178.22,159.87 178.40,163.12 178.57,167.79 178.74,173.16 178.92,178.43 179.09,182.80 179.26,185.59 179.44,186.38 179.61,185.07 179.78,181.84 179.96,177.20 180.13,171.85 180.30,166.61 180.48,162.27 180.65,159.50 180.82,158.72 181.00,160.05 181.17,163.28 181.34,167.92 181.51,173.26 181.69,178.50 181.86,182.83 182.03,185.60 182.21,186.38 182.38,185.07 182.55,181.86 182.73,177.24 182.90,171.92 183.07,166.72 183.25,162.41 183.42,159.67 183.59,158.90 183.77,160.22 183.94,163.44 184.11,168.05 184.29,173.36 184.46,178.57 184.63,182.86 184.80,185.61 184.98,186.38 185.15,185.07 185.32,181.87 185.50,177.28 185.67,172.00 185.84,166.83 186.02,162.55 186.19,159.83 186.36,159.07 186.54,160.40 186.71,163.60 186.88,168.18 187.06,173.46 187.23,178.63 187.40,182.90 187.58,185.62 187.75,186.38 187.92,185.07 188.09,181.89 188.27,177.32 188.44,172.07 188.61,166.93 188.79,162.69 188.96,159.99 189.13,159.25 189.31,160.57 189.48,163.75 189.65,168.32 189.83,173.56 190.00,178.69 190.17,182.93 190.35,185.63 190.52,186.38 190.69,185.07 190.87,181.91 191.04,177.37 191.21,172.15 191.38,167.04 191.56,162.83 191.73,160.15 191.90,159.42 192.08,160.74 192.25,163.91 192.42,168.45 192.60,173.66 192.77,178.76 192.94,182.96 193.12,185.64 193.29,186.38 193.46,185.07 193.64,181.92 193.81,177.41 193.98,172.22 194.16,167.15 194.33,162.97 194.50,160.31 194.67,159.59 194.85,160.91 195.02,164.06 195.19,168.57 195.37,173.76 195.54,178.82 195.71,183.00 195.89,185.65 196.06,186.38 196.23,185.07 196.41,181.94 196.58,177.45 196.75,172.29 196.93,167.26 197.10,163.11 197.27,160.47 197.45,159.76 197.62,161.08 197.79,164.22 197.96,168.70 198.14,173.85 198.31,178.88 198.48,183.03 198.66,185.66 198.83,186.38 199.00,185.08 199.18,181.95 199.35,177.49 199.52,172.37 199.70,167.36 199.87,163.24 200.04,160.63 200.22,159.93 200.39,161.24 200.56,164.37 200.74,168.83 200.91,173.95 201.08,178.95 201.25,183.06 201.43,185.67 201.60,186.38 201.77,185.08 201.95,181.97 202.12,177.53 202.29,172.44 202.47,167.47 202.64,163.38 202.81,160.79 202.99,160.10 203.16,161.41 203.33,164.52 203.51,168.96 203.68,174.04 203.85,179.01 204.03,183.09 204.20,185.68 204.37,186.38 204.54,185.08 204.72,181.99 204.89,177.57 205.06,172.51 205.24,167.57 205.41,163.51 205.58,160.95 205.76,160.27 205.93,161.57 206.10,164.67 206.28,169.08 206.45,174.14 206.62,179.07 206.80,183.13 206.97,185.69 207.14,186.38 207.32,185.08 207.49,182.00 207.66,177.61 207.83,172.58 208.01,167.68 208.18,163.65 208.35,161.10 208.53,160.43 208.70,161.74 208.87,164.82 209.05,169.21 209.22,174.23 209.39,179.13 209.57,183.16 209.74,185.70 209.91,186.37 210.09,185.08 210.26,182.02 210.43,177.65 210.61,172.65 210.78,167.78 210.95,163.78 211.12,161.26 211.30,160.60 211.47,161.90 211.64,164.97 211.82,169.33 211.99,174.32 212.16,179.19 212.34,183.19 212.51,185.71 212.68,186.37 212.86,185.08 213.03,182.03 213.20,177.69 213.38,172.72 213.55,167.88 213.72,163.91 213.90,161.41 214.07,160.76 214.24,162.06 214.41,165.12 214.59,169.45 214.76,174.42 214.93,179.25 215.11,183.22 215.28,185.72 215.45,186.37 215.63,185.08 215.80,182.05 215.97,177.73 216.15,172.79 216.32,167.99 216.49,164.04 216.67,161.56 216.84,160.93 217.01,162.22 217.19,165.26 217.36,169.58 217.53,174.51 217.70,179.31 217.88,183.25 218.05,185.73 218.22,186.37 218.40,185.08 218.57,182.06 218.74,177.77 218.92,172.86 219.09,168.09 219.26,164.17 219.44,161.72 219.61,161.09 219.78,162.38 219.96,165.41 220.13,169.70 220.30,174.60 220.48,179.37 220.65,183.28 220.82,185.74 220.99,186.37 221.17,185.09 221.34,182.08 221.51,177.81 221.69,172.93 221.86,168.19 222.03,164.30 222.21,161.87 222.38,161.25 222.55,162.54 222.73,165.55 222.90,169.82 223.07,174.69 223.25,179.43 223.42,183.31 223.59,185.75 223.77,186.37 223.94,185.09 224.11,182.10 224.28,177.85 224.46,173.00 224.63,168.29 224.80,164.43 224.98,162.02 225.15,161.41 225.32,162.70 225.50,165.69 225.67,169.94 225.84,174.78 226.02,179.48 226.19,183.34 226.36,185.76 226.54,186.37 226.71,185.09 226.88,182.11 227.06,177.89 227.23,173.07 227.40,168.39 227.57,164.56 227.75,162.17 227.92,161.57 228.09,162.86 228.27,165.84 228.44,170.06 228.61,174.87 228.79,179.54 228.96,183.37 229.13,185.76 229.31,186.37 229.48,185.09 229.65,182.13 229.83,177.93 230.00,173.14 230.17,168.49 230.35,164.69 230.52,162.31 230.69,161.73 230.86,163.01 231.04,165.98 231.21,170.17 231.38,174.96 231.56,179.60 231.73,183.40 231.90,185.77 232.08,186.37 232.25,185.09 232.42,182.14 232.60,177.97 232.77,173.21 232.94,168.59 233.12,164.82 233.29,162.46 233.46,161.88 233.64,163.17 233.81,166.12 233.98,170.29 234.15,175.04 234.33,179.66 234.50,183.43 234.67,185.78 234.85,186.37 235.02,185.09 235.19,182.16 235.37,178.01 235.54,173.28 235.71,168.69 235.89,164.94 236.06,162.61 236.23,162.04 236.41,163.32 236.58,166.26 236.75,170.41 236.93,175.13 237.10,179.71 237.27,183.45 237.44,185.79 237.62,186.37 237.79,185.09 237.96,182.17 238.14,178.05 238.31,173.35 238.48,168.79 238.66,165.07 238.83,162.75 239.00,162.19 239.18,163.47 239.35,166.40 239.52,170.52 239.70,175.22 239.87,179.77 240.04,183.48 240.22,185.80 240.39,186.36 240.56,185.10 240.73,182.19 240.91,178.09 241.08,173.41 241.25,168.89 241.43,165.20 241.60,162.90 241.77,162.35 241.95,163.62 242.12,166.54 242.29,170.64 242.47,175.30 242.64,179.82 242.81,183.51 242.99,185.81 243.16,186.36 243.33,185.10 243.51,182.20 243.68,178.12 243.85,173.48 244.02,168.99 244.20,165.32 244.37,163.04 244.54,162.50 244.72,163.78 244.89,166.67 245.06,170.75 245.24,175.39 245.41,179.88 245.58,183.54 245.76,185.82 245.93,186.36 246.10,185.10 246.28,182.22 246.45,178.16 246.62,173.55 246.80,169.08 246.97,165.44 247.14,163.19 247.31,162.65 247.49,163.93 247.66,166.81 247.83,170.86 248.01,175.47 248.18,179.93 248.35,183.57 248.53,185.82 248.70,186.36 248.87,185.10 249.05,182.23 249.22,178.20 249.39,173.62 249.57,169.18 249.74,165.57 249.91,163.33 250.09,162.80 250.26,164.07 250.43,166.94 250.60,170.97 250.78,175.55 250.95,179.99 251.12,183.59 251.30,185.83 251.47,186.36 251.64,185.10 251.82,182.25 251.99,178.24 252.16,173.68 252.34,169.27 252.51,165.69 252.68,163.47 252.86,162.95 253.03,164.22 253.20,167.08 253.38,171.09 253.55,175.64 253.72,180.04 253.90,183.62 254.07,185.84 254.24,186.36 254.41,185.10 254.59,182.26 254.76,178.28 254.93,173.75 255.11,169.37 255.28,165.81 255.45,163.61 255.63,163.10 255.80,164.37 255.97,167.21 256.15,171.20 256.32,175.72 256.49,180.09 256.67,183.65 256.84,185.85 257.01,186.36 257.19,185.11 257.36,182.28 257.53,178.31 257.70,173.81 257.88,169.46 258.05,165.93 258.22,163.75 258.40,163.25 258.57,164.51 258.74,167.34 258.92,171.31 259.09,175.80 259.26,180.14 259.44,183.67 259.61,185.86 259.78,186.36 259.96,185.11 260.13,182.29 260.30,178.35 260.48,173.88 260.65,169.56 260.82,166.05 260.99,163.89 261.17,163.40 261.34,164.66 261.51,167.47 261.69,171.42 261.86,175.88 262.03,180.20 262.21,183.70 262.38,185.86 262.55,186.36 262.73,185.11 262.90,182.31 263.07,178.39 263.25,173.94 263.42,169.65 263.59,166.17 263.77,164.03 263.94,163.55 264.11,164.80 264.28,167.60 264.46,171.52 264.63,175.96 264.80,180.25 264.98,183.73 265.15,185.87 265.32,186.36 265.50,185.11 265.67,182.32 265.84,178.43 266.02,174.01 266.19,169.75 266.36,166.29 266.54,164.16 266.71,163.69 266.88,164.95 267.06,167.73 267.23,171.63 267.40,176.04 267.57,180.30 267.75,183.75 267.92,185.88 268.09,186.36 268.27,185.11 268.44,182.34 268.61,178.46 268.79,174.07 268.96,169.84 269.13,166.41 269.31,164.30 269.48,163.84 269.65,165.09 269.83,167.86 270.00,171.74 270.17,176.12 270.35,180.35 270.52,183.78 270.69,185.89 270.86,186.35 271.04,185.11 271.21,182.35 271.38,178.50 271.56,174.14 271.73,169.93 271.90,166.52 272.08,164.44 272.25,163.98 272.42,165.23 272.60,167.99 272.77,171.84 272.94,176.20 273.12,180.40 273.29,183.80 273.46,185.89 273.64,186.35 273.81,185.12 273.98,182.37 274.15,178.54 274.33,174.20 274.50,170.02 274.67,166.64 274.85,164.57 275.02,164.12 275.19,165.37 275.37,168.12 275.54,171.95 275.71,176.28 275.89,180.45 276.06,183.83 276.23,185.90 276.41,186.35 276.58,185.12 276.75,182.38 276.93,178.57 277.10,174.26 277.27,170.11 277.44,166.76 277.62,164.70 277.79,164.27 277.96,165.51 278.14,168.24 278.31,172.05 278.48,176.36 278.66,180.50 278.83,183.85 279.00,185.91 279.18,186.35 279.35,185.12 279.52,182.40 279.70,178.61 279.87,174.33 280.04,170.21 280.22,166.87 280.39,164.84 280.56,164.41 280.73,165.65 280.91,168.37 281.08,172.16 281.25,176.43 281.43,180.55 281.60,183.88 281.77,185.92 281.95,186.35 282.12,185.12 282.29,182.41 282.47,178.65 282.64,174.39 282.81,170.30 282.99,166.99 283.16,164.97 283.33,164.55 283.51,165.78 283.68,168.49 283.85,172.26 284.02,176.51 284.20,180.60 284.37,183.90 284.54,185.92 284.72,186.35 284.89,185.12 285.06,182.43 285.24,178.68 285.41,174.45 285.58,170.39 285.76,167.10 285.93,165.10 286.10,164.69 286.28,165.92 286.45,168.62 286.62,172.36 286.80,176.59 286.97,180.65 287.14,183.93 287.31,185.93 287.49,186.35 287.66,185.12 287.83,182.44 288.01,178.72 288.18,174.51 288.35,170.48 288.53,167.22 288.70,165.23 288.87,164.82 289.05,166.06 289.22,168.74 289.39,172.46 289.57,176.66 289.74,180.70 289.91,183.95 290.09,185.94 290.26,186.35 290.43,185.13 290.60,182.46 290.78,178.75 290.95,174.58 291.12,170.56 291.30,167.33 291.47,165.36 291.64,164.96 291.82,166.19 291.99,168.86 292.16,172.56 292.34,176.74 292.51,180.74 292.68,183.98 292.86,185.94 293.03,186.35 293.20,185.13 293.38,182.47 293.55,178.79 293.72,174.64 293.89,170.65 294.07,167.44 294.24,165.49 294.41,165.10 294.59,166.33 294.76,168.98 294.93,172.66 295.11,176.81 295.28,180.79 295.45,184.00 295.63,185.95 295.80,186.35 295.97,185.13 296.15,182.49 296.32,178.82 296.49,174.70 296.67,170.74 296.84,167.55 297.01,165.62 297.18,165.24 297.36,166.46 297.53,169.10 297.70,172.76 297.88,176.88 298.05,180.84 298.22,184.02 298.40,185.96 298.57,186.34 298.74,185.13 298.92,182.50 299.09,178.86 299.26,174.76 299.44,170.83 299.61,167.66 299.78,165.75 299.96,165.37 300.13,166.59 300.30,169.22 300.47,172.86 300.65,176.96 300.82,180.89 300.99,184.05 301.17,185.96 301.34,186.34 301.51,185.13 301.69,182.52 301.86,178.89 302.03,174.82 302.21,170.91 302.38,167.77 302.55,165.87 302.73,165.50 302.90,166.72 303.07,169.34 303.25,172.96 303.42,177.03 303.59,180.93 303.76,184.07 303.94,185.97 304.11,186.34 304.28,185.13 304.46,182.53 304.63,178.93 304.80,174.88 304.98,171.00 305.15,167.88 305.32,166.00 305.50,165.64 305.67,166.85 305.84,169.46 306.02,173.06 306.19,177.10 306.36,180.98 306.54,184.09 306.71,185.98 306.88,186.34 307.05,185.14 307.23,182.55 307.40,178.96 307.57,174.94 307.75,171.09 307.92,167.99 308.09,166.12 308.27,165.77 308.44,166.98 308.61,169.58 308.79,173.15 308.96,177.17 309.13,181.02 309.31,184.12 309.48,185.98 309.65,186.34 309.83,185.14 310.00,182.56 310.17,179.00 310.34,175.00 310.52,171.17 310.69,168.10 310.86,166.25 311.04,165.90 311.21,167.11 311.38,169.69 311.56,173.25 311.73,177.25 311.90,181.07 312.08,184.14 312.25,185.99 312.42,186.34 312.60,185.14 312.77,182.57 312.94,179.03 313.12,175.06 313.29,171.26 313.46,168.21 313.63,166.37 313.81,166.03 313.98,167.24 314.15,169.81 314.33,173.35 314.50,177.32 314.67,181.11 314.85,184.16 315.02,185.99 315.19,186.34 315.37,185.14 315.54,182.59 315.71,179.07 315.89,175.12 316.06,171.34 316.23,168.31 316.41,166.50 316.58,166.16 316.75,167.37 316.92,169.92 317.10,173.44 317.27,177.39 317.44,181.16 317.62,184.18 317.79,186.00 317.96,186.34 318.14,185.14 318.31,182.60 318.48,179.10 318.66,175.18 318.83,171.43 319.00,168.42 319.18,166.62 319.35,166.29 319.52,167.49 319.70,170.04 319.87,173.53 320.04,177.45 320.21,181.20 320.39,184.20 320.56,186.01 320.73,186.34 320.91,185.15 321.08,182.62 321.25,179.14 321.43,175.24 321.60,171.51 321.77,168.53 321.95,166.74 322.12,166.42 322.29,167.62 322.47,170.15 322.64,173.63 322.81,177.52 322.99,181.24 323.16,184.23 323.33,186.01 323.50,186.34 323.68,185.15 323.85,182.63 324.02,179.17 324.20,175.29 324.37,171.59 324.54,168.63 324.72,166.86 324.89,166.55 325.06,167.74 325.24,170.26 325.41,173.72 325.58,177.59 325.76,181.29 325.93,184.25 326.10,186.02 326.28,186.33 326.45,185.15 326.62,182.65 326.80,179.20 326.97,175.35 327.14,171.68 327.31,168.74 327.49,166.98 327.66,166.68 327.83,167.87 328.01,170.37 328.18,173.81 328.35,177.66 328.53,181.33 328.70,184.27 328.87,186.02 329.05,186.33 329.22,185.15 329.39,182.66 329.57,179.24 329.74,175.41 329.91,171.76 330.09,168.84 330.26,167.10 330.43,166.80 330.60,167.99 330.78,170.48 330.95,173.90 331.12,177.73 331.30,181.37 331.47,184.29 331.64,186.03 331.82,186.33 331.99,185.15 332.16,182.67 332.34,179.27 332.51,175.47 332.68,171.84 332.86,168.94 333.03,167.22 333.20,166.93 333.38,168.11 333.55,170.59 333.72,173.99 333.89,177.79 334.07,181.42 334.24,184.31 334.41,186.04 334.59,186.33 334.76,185.16 334.93,182.69 335.11,179.31 335.28,175.52 335.45,171.92 335.63,169.05 335.80,167.34 335.97,167.05 336.15,168.23 336.32,170.70 336.49,174.08 336.67,177.86 336.84,181.46 337.01,184.33 337.18,186.04 337.36,186.33 337.53,185.16 337.70,182.70 337.88,179.34 338.05,175.58 338.22,172.00 338.40,169.15 338.57,167.45 338.74,167.18 338.92,168.35 339.09,170.81 339.26,174.17 339.44,177.93 339.61,181.50 339.78,184.35 339.96,186.05 340.13,186.33 340.30,185.16 340.47,182.72 340.65,179.37 340.82,175.64 340.99,172.08 341.17,169.25 341.34,167.57 341.51,167.30 341.69,168.47 341.86,170.92 342.03,174.26 342.21,177.99 342.38,181.54 342.55,184.37 342.73,186.05 342.90,186.33 343.07,185.16 343.25,182.73 343.42,179.40 343.59,175.69 343.76,172.16 343.94,169.35 344.11,167.69 344.28,167.42 344.46,168.59 344.63,171.03 344.80,174.35 344.98,178.06 345.15,181.58 345.32,184.39 345.50,186.06 345.67,186.33 345.84,185.16 346.02,182.74 346.19,179.44 346.36,175.75 346.54,172.24 346.71,169.45 346.88,167.80 347.05,167.54 347.23,168.71 347.40,171.13 347.57,174.44 347.75,178.12 347.92,181.62 348.09,184.41 348.27,186.06 348.44,186.33 348.61,185.17 348.79,182.76 348.96,179.47 349.13,175.81 349.31,172.32 349.48,169.55 349.65,167.92 349.83,167.66 350.00,168.83 350.17,171.24 350.34,174.52 350.52,178.18 350.69,181.66 350.86,184.43 351.04,186.07 351.21,186.33 351.38,185.17 351.56,182.77 351.73,179.50 351.90,175.86 352.08,172.40 352.25,169.65 352.42,168.03 352.60,167.78 352.77,168.95 352.94,171.34 353.12,174.61 353.29,178.25 353.46,181.70 353.63,184.45 353.81,186.07 353.98,186.32 354.15,185.17 354.33,182.79 354.50,179.54 354.67,175.92 354.85,172.48 355.02,169.75 355.19,168.14 355.37,167.90 355.54,169.06 355.71,171.45 355.89,174.70 356.06,178.31 356.23,181.74 356.41,184.47 356.58,186.08 356.75,186.32 356.92,185.17 357.10,182.80 357.27,179.57 357.44,175.97 357.62,172.56 357.79,169.85 357.96,168.26 358.14,168.02 358.31,169.18 358.48,171.55 358.66,174.78 358.83,178.37 359.00,181.78 359.18,184.49 359.35,186.08 359.52,186.32 359.70,185.17 359.87,182.81 360.04,179.60 360.21,176.03 360.39,172.64 360.56,169.95 360.73,168.37 360.91,168.14 361.08,169.29 361.25,171.65 361.43,174.87 361.60,178.44"/>
<polygon fill="#3d44b2" fill-opacity="0.11" points="70.00,167.49 74.86,167.69 79.72,167.90 84.58,168.11 89.44,168.31 94.30,168.51 99.16,168.71 104.02,168.90 108.88,169.10 113.74,169.29 118.60,169.48 123.46,169.66 128.32,169.85 133.18,170.03 138.04,170.21 142.90,170.39 147.76,170.57 152.62,170.74 157.48,170.92 162.34,171.09 167.20,171.26 172.06,171.43 176.92,171.59 181.78,171.75 186.64,171.92 191.50,172.08 196.36,172.24 201.22,172.39 206.08,172.55 210.94,172.70 215.80,172.85 220.66,173.00 225.52,173.15 230.38,173.30 235.24,173.44 240.10,173.58 244.96,173.73 249.82,173.87 254.68,174.00 259.54,174.14 264.40,174.28 269.26,174.41 274.12,174.54 278.98,174.68 283.84,174.80 288.70,174.93 293.56,175.06 298.42,175.19 303.28,175.31 308.14,175.43 313.00,175.55 317.86,175.67 322.72,175.79 327.58,175.91 332.44,176.03 337.30,176.14 342.16,176.25 347.02,176.37 351.88,176.48 356.74,176.59 361.60,176.70 361.60,177.79 356.74,177.70 351.88,177.60 347.02,177.50 342.16,177.40 337.30,177.30 332.44,177.20 327.58,177.10 322.72,176.99 317.86,176.89 313.00,176.78 308.14,176.67 303.28,176.56 298.42,176.46 293.56,176.34 288.70,176.23 283.84,176.12 278.98,176.00 274.12,175.89 269.26,175.77 264.40,175.65 259.54,175.53 254.68,175.41 249.82,175.29 244.96,175.16 240.10,175.04 235.24,174.91 230.38,174.78 225.52,174.65 220.66,174.52 215.80,174.39 210.94,174.25 206.08,174.12 201.22,173.98 196.36,173.84 191.50,173.70 186.64,173.56 181.78,173.41 176.92,173.27 172.06,173.12 167.20,172.97 162.34,172.82 157.48,172.67 152.62,172.52 147.76,172.36 142.90,172.20 138.04,172.05 133.18,171.88 128.32,171.72 123.46,171.56 118.60,171.39 113.74,171.22 108.88,171.05 104.02,170.88 99.16,170.71 94.30,170.53 89.44,170.36 84.58,170.18 79.72,170.00 74.86,169.81 70.00,169.63"/>
<polygon fill="#3d44b2" fill-opacity="0.11" points="70.00,166.42 74.86,166.64 79.72,166.85 84.58,167.07 89.44,167.28 94.30,167.50 99.16,167.71 104.02,167.91 108.88,168.12 113.74,168.32 118.60,168.52 123.46,168.72 128.32,168.91 133.18,169.11 138.04,169.30 142.90,169.49 147.76,169.67 152.62,169.86 157.48,170.04 162.34,170.22 167.20,170.40 172.06,170.58 176.92,170.75 181.78,170.93 186.64,171.10 191.50,171.27 196.36,171.43 201.22,171.60 206.08,171.76 210.94,171.92 215.80,172.08 220.66,172.24 225.52,172.40 230.38,172.55 235.24,172.71 240.10,172.86 244.96,173.01 249.82,173.16 254.68,173.30 259.54,173.45 264.40,173.59 269.26,173.73 274.12,173.87 278.98,174.01 283.84,174.15 288.70,174.28 293.56,174.42 298.42,174.55 303.28,174.68 308.14,174.81 313.00,174.94 317.86,175.07 322.72,175.19 327.58,175.32 332.44,175.44 337.30,175.56 342.16,175.68 347.02,175.80 351.88,175.92 356.74,176.03 361.60,176.15 361.60,178.34 356.74,178.25 351.88,178.16 347.02,178.07 342.16,177.98 337.30,177.88 332.44,177.79 327.58,177.69 322.72,177.59 317.86,177.49 313.00,177.40 308.14,177.29 303.28,177.19 298.42,177.09 293.56,176.99 288.70,176.88 283.84,176.77 278.98,176.67 274.12,176.56 269.26,176.45 264.40,176.34 259.54,176.22 254.68,176.11 249.82,175.99 244.96,175.88 240.10,175.76 235.24,175.64 230.38,175.52 225.52,175.40 220.66,175.28 215.80,175.15 210.94,175.03 206.08,174.90 201.22,174.77 196.36,174.64 191.50,174.51 186.64,174.38 181.78,174.24 176.92,174.11 172.06,173.97 167.20,173.83 162.34,173.69 157.48,173.55 152.62,173.40 147.76,173.26 142.90,173.11 138.04,172.96 133.18,172.81 128.32,172.66 123.46,172.51 118.60,172.35 113.74,172.19 108.88,172.03 104.02,171.87 99.16,171.71 94.30,171.55 89.44,171.38 84.58,171.21 79.72,171.04 74.86,170.87 70.00,170.70"/>
<polygon fill="#3d44b2" fill-opacity="0.11" points="70.00,165.34 74.86,165.58 79.72,165.81 84.58,166.04 89.44,166.26 94.30,166.48 99.16,166.70 104.02,166.92 108.88,167.14 113.74,167.35 118.60,167.56 123.46,167.77 128.32,167.98 133.18,168.18 138.04,168.38 142.90,168.58 147.76,168.78 152.62,168.97 157.48,169.16 162.34,169.36 167.20,169.54 172.06,169.73 176.92,169.91 181.78,170.10 186.64,170.28 191.50,170.46 196.36,170.63 201.22,170.81 206.08,170.98 210.94,171.15 215.80,171.32 220.66,171.48 225.52,171.65 230.38,171.81 235.24,171.97 240.10,172.13 244.96,172.29 249.82,172.45 254.68,172.60 259.54,172.75 264.40,172.91 269.26,173.05 274.12,173.20 278.98,173.35 283.84,173.49 288.70,173.64 293.56,173.78 298.42,173.92 303.28,174.05 308.14,174.19 313.00,174.33 317.86,174.46 322.72,174.59 327.58,174.72 332.44,174.85 337.30,174.98 342.16,175.10 347.02,175.23 351.88,175.35 356.74,175.48 361.60,175.60 361.60,178.89 356.74,178.81 351.88,178.72 347.02,178.64 342.16,178.55 337.30,178.46 332.44,178.37 327.58,178.28 322.72,178.19 317.86,178.10 313.00,178.01 308.14,177.92 303.28,177.82 298.42,177.72 293.56,177.63 288.70,177.53 283.84,177.43 278.98,177.33 274.12,177.23 269.26,177.13 264.40,177.02 259.54,176.92 254.68,176.81 249.82,176.70 244.96,176.60 240.10,176.49 235.24,176.38 230.38,176.26 225.52,176.15 220.66,176.04 215.80,175.92 210.94,175.80 206.08,175.68 201.22,175.56 196.36,175.44 191.50,175.32 186.64,175.20 181.78,175.07 176.92,174.94 172.06,174.82 167.20,174.69 162.34,174.56 157.48,174.42 152.62,174.29 147.76,174.15 142.90,174.02 138.04,173.88 133.18,173.74 128.32,173.60 123.46,173.45 118.60,173.31 113.74,173.16 108.88,173.01 104.02,172.86 99.16,172.71 94.30,172.56 89.44,172.40 84.58,172.25 79.72,172.09 74.86,171.93 70.00,171.77"/>
<polygon fill="#3d44b2" fill-opacity="0.11" points="70.00,164.27 74.86,164.52 79.72,164.76 84.58,165.00 89.44,165.24 94.30,165.47 99.16,165.70 104.02,165.93 108.88,166.16 113.74,166.38 118.60,166.60 123.46,166.82 128.32,167.04 133.18,167.25 138.04,167.46 142.90,167.67 147.76,167.88 152.62,168.09 157.48,168.29 162.34,168.49 167.20,168.69 172.06,168.88 176.92,169.08 181.78,169.27 186.64,169.46 191.50,169.64 196.36,169.83 201.22,170.01 206.08,170.19 210.94,170.37 215.80,170.55 220.66,170.73 225.52,170.90 230.38,171.07 235.24,171.24 240.10,171.41 244.96,171.57 249.82,171.74 254.68,171.90 259.54,172.06 264.40,172.22 269.26,172.38 274.12,172.53 278.98,172.68 283.84,172.84 288.70,172.99 293.56,173.13 298.42,173.28 303.28,173.43 308.14,173.57 313.00,173.71 317.86,173.85 322.72,173.99 327.58,174.13 332.44,174.26 337.30,174.40 342.16,174.53 347.02,174.66 351.88,174.79 356.74,174.92 361.60,175.05 361.60,179.44 356.74,179.36 351.88,179.29 347.02,179.21 342.16,179.13 337.30,179.04 332.44,178.96 327.58,178.88 322.72,178.79 317.86,178.71 313.00,178.62 308.14,178.54 303.28,178.45 298.42,178.36 293.56,178.27 288.70,178.18 283.84,178.09 278.98,177.99 274.12,177.90 269.26,177.80 264.40,177.71 259.54,177.61 254.68,177.51 249.82,177.41 244.96,177.31 240.10,177.21 235.24,177.11 230.38,177.00 225.52,176.90 220.66,176.79 215.80,176.69 210.94,176.58 206.08,176.47 201.22,176.36 196.36,176.24 191.50,176.13 186.64,176.02 181.78,175.90 176.92,175.78 172.06,175.66 167.20,175.54 162.34,175.42 157.48,175.30 152.62,175.17 147.76,175.05 142.90,174.92 138.04,174.79 133.18,174.66 128.32,174.53 123.46,174.40 118.60,174.27 113.74,174.13 108.88,173.99 104.02,173.85 99.16,173.71 94.30,173.57 89.44,173.43 84.58,173.28 79.72,173.14 74.86,172.99 70.00,172.84"/>
<polygon fill="#3d44b2" fill-opacity="0.11" points="70.00,163.20 74.86,163.46 79.72,163.71 84.58,163.96 89.44,164.21 94.30,164.46 99.16,164.70 104.02,164.94 108.88,165.18 113.74,165.41 118.60,165.64 123.46,165.87 128.32,166.10 133.18,166.33 138.04,166.55 142.90,166.77 147.76,166.98 152.62,167.20 157.48,167.41 162.34,167.62 167.20,167.83 172.06,168.03 176.92,168.24 181.78,168.44 186.64,168.64 191.50,168.83 196.36,169.03 201.22,169.22 206.08,169.41 210.94,169.60 215.80,169.78 220.66,169.97 225.52,170.15 230.38,170.33 235.24,170.51 240.10,170.68 244.96,170.86 249.82,171.03 254.68,171.20 259.54,171.37 264.40,171.53 269.26,171.70 274.12,171.86 278.98,172.02 283.84,172.18 288.70,172.34 293.56,172.49 298.42,172.65 303.28,172.80 308.14,172.95 313.00,173.10 317.86,173.24 322.72,173.39 327.58,173.53 332.44,173.68 337.30,173.82 342.16,173.96 347.02,174.09 351.88,174.23 356.74,174.36 361.60,174.50 361.60,179.99 356.74,179.92 351.88,179.85 347.02,179.77 342.16,179.70 337.30,179.62 332.44,179.55 327.58,179.47 322.72,179.39 317.86,179.32 313.00,179.24 308.14,179.16 303.28,179.08 298.42,178.99 293.56,178.91 288.70,178.83 283.84,178.74 278.98,178.66 274.12,178.57 269.26,178.48 264.40,178.39 259.54,178.31 254.68,178.21 249.82,178.12 244.96,178.03 240.10,177.94 235.24,177.84 230.38,177.75 225.52,177.65 220.66,177.55 215.80,177.45 210.94,177.35 206.08,177.25 201.22,177.15 196.36,177.05 191.50,176.94 186.64,176.84 181.78,176.73 176.92,176.62 172.06,176.51 167.20,176.40 162.34,176.29 157.48,176.18 152.62,176.06 147.76,175.95 142.90,175.83 138.04,175.71 133.18,175.59 128.32,175.47 123.46,175.35 118.60,175.22 113.74,175.10 108.88,174.97 104.02,174.84 99.16,174.72 94.30,174.59 89.44,174.45 84.58,174.32 79.72,174.18 74.86,174.05 70.00,173.91"/>
<polygon fill="#3d44b2" fill-opacity="0.11" points="70.00,162.13 74.86,162.40 79.72,162.67 84.58,162.93 89.44,163.19 94.30,163.45 99.16,163.70 104.02,163.95 108.88,164.20 113.74,164.44 118.60,164.69 123.46,164.93 128.32,165.16 133.18,165.40 138.04,165.63 142.90,165.86 147.76,166.09 152.62,166.31 157.48,166.54 162.34,166.75 167.20,166.97 172.06,167.19 176.92,167.40 181.78,167.61 186.64,167.82 191.50,168.02 196.36,168.23 201.22,168.43 206.08,168.63 210.94,168.82 215.80,169.02 220.66,169.21 225.52,169.40 230.38,169.59 235.24,169.77 240.10,169.96 244.96,170.14 249.82,170.32 254.68,170.50 259.54,170.67 264.40,170.85 269.26,171.02 274.12,171.19 278.98,171.36 283.84,171.52 288.70,171.69 293.56,171.85 298.42,172.01 303.28,172.17 308.14,172.33 313.00,172.48 317.86,172.64 322.72,172.79 327.58,172.94 332.44,173.09 337.30,173.24 342.16,173.38 347.02,173.53 351.88,173.67 356.74,173.81 361.60,173.95 361.60,180.54 356.74,180.47 351.88,180.41 347.02,180.34 342.16,180.27 337.30,180.21 332.44,180.14 327.58,180.07 322.72,180.00 317.86,179.92 313.00,179.85 308.14,179.78 303.28,179.70 298.42,179.63 293.56,179.55 288.70,179.48 283.84,179.40 278.98,179.32 274.12,179.24 269.26,179.16 264.40,179.08 259.54,179.00 254.68,178.92 249.82,178.83 244.96,178.75 240.10,178.66 235.24,178.58 230.38,178.49 225.52,178.40 220.66,178.31 215.80,178.22 210.94,178.13 206.08,178.04 201.22,177.94 196.36,177.85 191.50,177.75 186.64,177.66 181.78,177.56 176.92,177.46 172.06,177.36 167.20,177.26 162.34,177.16 157.48,177.05 152.62,176.95 147.76,176.84 142.90,176.73 138.04,176.63 133.18,176.52 128.32,176.41 123.46,176.30 118.60,176.18 113.74,176.07 108.88,175.95 104.02,175.84 99.16,175.72 94.30,175.60 89.44,175.48 84.58,175.35 79.72,175.23 74.86,175.11 70.00,174.98"/>
<polyline fill="none" stroke="#d22c34" stroke-width="1.5" stroke-opacity="1" stroke-linejoin="round" points="70.00,380.80 70.17,376.73 70.35,365.13 70.52,347.78 70.69,327.34 70.87,306.91 71.04,289.62 71.21,278.09 71.39,274.08 71.56,278.19 71.73,289.81 71.90,307.15 72.08,327.57 72.25,347.97 72.42,365.25 72.60,376.77 72.77,380.80 72.94,376.73 73.12,365.18 73.29,347.93 73.46,327.61 73.64,307.32 73.81,290.15 73.98,278.71 74.16,274.75 74.33,278.87 74.50,290.43 74.68,307.67 74.85,327.97 75.02,348.24 75.19,365.39 75.37,376.82 75.54,380.80 75.71,376.73 75.89,365.23 76.06,348.08 76.23,327.88 76.41,307.72 76.58,290.67 76.75,279.33 76.93,275.42 77.10,279.54 77.27,291.05 77.45,308.20 77.62,328.37 77.79,348.51 77.97,365.54 78.14,376.87 78.31,380.80 78.48,376.73 78.66,365.28 78.83,348.22 79.00,328.15 79.18,308.12 79.35,291.20 79.52,279.95 79.70,276.09 79.87,280.20 80.04,291.66 80.22,308.72 80.39,328.77 80.56,348.77 80.74,365.68 80.91,376.92 81.08,380.80 81.26,376.73 81.43,365.34 81.60,348.37 81.77,328.42 81.95,308.52 82.12,291.72 82.29,280.56 82.47,276.75 82.64,280.86 82.81,292.27 82.99,309.23 83.16,329.16 83.33,349.03 83.51,365.82 83.68,376.97 83.85,380.80 84.03,376.73 84.20,365.39 84.37,348.52 84.55,328.68 84.72,308.92 84.89,292.24 85.06,281.17 85.24,277.41 85.41,281.52 85.58,292.87 85.76,309.74 85.93,329.55 86.10,349.29 86.28,365.96 86.45,377.02 86.62,380.80 86.80,376.73 86.97,365.44 87.14,348.66 87.32,328.95 87.49,309.32 87.66,292.75 87.84,281.78 88.01,278.06 88.18,282.17 88.35,293.48 88.53,310.25 88.70,329.94 88.87,349.55 89.05,366.10 89.22,377.07 89.39,380.80 89.57,376.73 89.74,365.49 89.91,348.80 90.09,329.21 90.26,309.71 90.43,293.26 90.61,282.38 90.78,278.71 90.95,282.82 91.13,294.07 91.30,310.75 91.47,330.33 91.64,349.81 91.82,366.23 91.99,377.11 92.16,380.80 92.34,376.73 92.51,365.54 92.68,348.95 92.86,329.48 93.03,310.10 93.20,293.77 93.38,282.98 93.55,279.36 93.72,283.46 93.90,294.67 94.07,311.26 94.24,330.71 94.42,350.06 94.59,366.37 94.76,377.16 94.93,380.80 95.11,376.73 95.28,365.60 95.45,349.09 95.63,329.74 95.80,310.49 95.97,294.28 96.15,283.57 96.32,280.00 96.49,284.10 96.67,295.25 96.84,311.75 97.01,331.09 97.19,350.31 97.36,366.51 97.53,377.21 97.71,380.80 97.88,376.73 98.05,365.65 98.22,349.23 98.40,330.00 98.57,310.88 98.74,294.78 98.92,284.16 99.09,280.64 99.26,284.74 99.44,295.84 99.61,312.25 99.78,331.46 99.96,350.56 100.13,366.64 100.30,377.25 100.48,380.80 100.65,376.74 100.82,365.70 101.00,349.38 101.17,330.26 101.34,311.26 101.51,295.28 101.69,284.75 101.86,281.27 102.03,285.37 102.21,296.42 102.38,312.74 102.55,331.84 102.73,350.81 102.90,366.77 103.07,377.30 103.25,380.79 103.42,376.74 103.59,365.75 103.77,349.52 103.94,330.52 104.11,311.65 104.29,295.78 104.46,285.34 104.63,281.90 104.80,286.00 104.98,297.00 105.15,313.22 105.32,332.21 105.50,351.05 105.67,366.90 105.84,377.34 106.02,380.79 106.19,376.74 106.36,365.80 106.54,349.66 106.71,330.77 106.88,312.03 107.06,296.28 107.23,285.92 107.40,282.53 107.58,286.62 107.75,297.57 107.92,313.71 108.10,332.57 108.27,351.30 108.44,367.03 108.61,377.39 108.79,380.79 108.96,376.74 109.13,365.85 109.31,349.80 109.48,331.03 109.65,312.41 109.83,296.77 110.00,286.49 110.17,283.15 110.35,287.24 110.52,298.14 110.69,314.19 110.87,332.94 111.04,351.54 111.21,367.16 111.39,377.43 111.56,380.79 111.73,376.74 111.90,365.90 112.08,349.94 112.25,331.28 112.42,312.78 112.60,297.26 112.77,287.07 112.94,283.77 113.12,287.86 113.29,298.71 113.46,314.66 113.64,333.30 113.81,351.78 113.98,367.29 114.16,377.47 114.33,380.79 114.50,376.74 114.68,365.96 114.85,350.08 115.02,331.54 115.19,313.16 115.37,297.74 115.54,287.64 115.71,284.38 115.89,288.47 116.06,299.27 116.23,315.14 116.41,333.66 116.58,352.02 116.75,367.42 116.93,377.52 117.10,380.79 117.27,376.74 117.45,366.01 117.62,350.22 117.79,331.79 117.97,313.53 118.14,298.23 118.31,288.21 118.48,284.99 118.66,289.07 118.83,299.83 119.00,315.61 119.18,334.02 119.35,352.25 119.52,367.54 119.70,377.56 119.87,380.79 120.04,376.75 120.22,366.06 120.39,350.36 120.56,332.04 120.74,313.90 120.91,298.71 121.08,288.77 121.26,285.60 121.43,289.68 121.60,300.38 121.77,316.08 121.95,334.37 122.12,352.49 122.29,367.67 122.47,377.60 122.64,380.79 122.81,376.75 122.99,366.11 123.16,350.49 123.33,332.29 123.51,314.27 123.68,299.19 123.85,289.33 124.03,286.20 124.20,290.28 124.37,300.93 124.55,316.54 124.72,334.73 124.89,352.72 125.06,367.79 125.24,377.64 125.41,380.79 125.58,376.75 125.76,366.16 125.93,350.63 126.10,332.54 126.28,314.64 126.45,299.66 126.62,289.89 126.80,286.80 126.97,290.87 127.14,301.48 127.32,317.00 127.49,335.07 127.66,352.95 127.84,367.91 128.01,377.68 128.18,380.78 128.35,376.75 128.53,366.21 128.70,350.77 128.87,332.78 129.05,315.00 129.22,300.13 129.39,290.44 129.57,287.40 129.74,291.46 129.91,302.02 130.09,317.46 130.26,335.42 130.43,353.18 130.61,368.03 130.78,377.72 130.95,380.78 131.13,376.75 131.30,366.26 131.47,350.90 131.64,333.03 131.82,315.37 131.99,300.60 132.16,290.99 132.34,287.99 132.51,292.05 132.68,302.56 132.86,317.91 133.03,335.77 133.20,353.41 133.38,368.15 133.55,377.76 133.72,380.78 133.90,376.76 134.07,366.31 134.24,351.04 134.42,333.28 134.59,315.73 134.76,301.07 134.93,291.54 135.11,288.58 135.28,292.64 135.45,303.10 135.63,318.36 135.80,336.11 135.97,353.63 136.15,368.27 136.32,377.80 136.49,380.78 136.67,376.76 136.84,366.36 137.01,351.17 137.19,333.52 137.36,316.09 137.53,301.54 137.71,292.08 137.88,289.16 138.05,293.22 138.22,303.63 138.40,318.81 138.57,336.45 138.74,353.86 138.92,368.39 139.09,377.84 139.26,380.78 139.44,376.76 139.61,366.41 139.78,351.31 139.96,333.76 140.13,316.45 140.30,302.00 140.48,292.62 140.65,289.74 140.82,293.79 141.00,304.16 141.17,319.25 141.34,336.78 141.51,354.08 141.69,368.51 141.86,377.88 142.03,380.78 142.21,376.76 142.38,366.46 142.55,351.44 142.73,334.00 142.90,316.80 143.07,302.46 143.25,293.16 143.42,290.32 143.59,294.37 143.77,304.68 143.94,319.70 144.11,337.12 144.29,354.30 144.46,368.62 144.63,377.92 144.80,380.77 144.98,376.77 145.15,366.51 145.32,351.57 145.50,334.24 145.67,317.15 145.84,302.92 146.02,293.70 146.19,290.89 146.36,294.94 146.54,305.20 146.71,320.13 146.88,337.45 147.06,354.52 147.23,368.74 147.40,377.96 147.58,380.77 147.75,376.77 147.92,366.56 148.09,351.71 148.27,334.48 148.44,317.51 148.61,303.37 148.79,294.23 148.96,291.46 149.13,295.50 149.31,305.72 149.48,320.57 149.65,337.78 149.83,354.73 150.00,368.85 150.17,377.99 150.35,380.77 150.52,376.77 150.69,366.61 150.87,351.84 151.04,334.72 151.21,317.86 151.38,303.82 151.56,294.75 151.73,292.03 151.90,296.06 152.08,306.24 152.25,321.00 152.42,338.10 152.60,354.95 152.77,368.96 152.94,378.03 153.12,380.77 153.29,376.77 153.46,366.66 153.64,351.97 153.81,334.95 153.98,318.20 154.16,304.27 154.33,295.28 154.50,292.59 154.67,296.62 154.85,306.75 155.02,321.43 155.19,338.43 155.37,355.16 155.54,369.08 155.71,378.07 155.89,380.77 156.06,376.78 156.23,366.71 156.41,352.10 156.58,335.19 156.75,318.55 156.93,304.72 157.10,295.80 157.27,293.15 157.45,297.18 157.62,307.26 157.79,321.86 157.96,338.75 158.14,355.37 158.31,369.19 158.48,378.10 158.66,380.77 158.83,376.78 159.00,366.76 159.18,352.23 159.35,335.42 159.52,318.89 159.70,305.16 159.87,296.32 160.04,293.71 160.22,297.73 160.39,307.76 160.56,322.28 160.74,339.07 160.91,355.58 161.08,369.30 161.25,378.14 161.43,380.76 161.60,376.78 161.77,366.81 161.95,352.36 162.12,335.66 162.29,319.24 162.47,305.60 162.64,296.83 162.81,294.26 162.99,298.28 163.16,308.26 163.33,322.70 163.51,339.39 163.68,355.79 163.85,369.41 164.03,378.17 164.20,380.76 164.37,376.78 164.54,366.86 164.72,352.49 164.89,335.89 165.06,319.58 165.24,306.04 165.41,297.35 165.58,294.81 165.76,298.82 165.93,308.76 166.10,323.12 166.28,339.70 166.45,355.99 166.62,369.51 166.80,378.21 166.97,380.76 167.14,376.79 167.32,366.90 167.49,352.62 167.66,336.12 167.83,319.92 168.01,306.48 168.18,297.86 168.35,295.36 168.53,299.36 168.70,309.25 168.87,323.53 169.05,340.02 169.22,356.20 169.39,369.62 169.57,378.24 169.74,380.76 169.91,376.79 170.09,366.95 170.26,352.75 170.43,336.35 170.61,320.25 170.78,306.91 170.95,298.36 171.12,295.90 171.30,299.90 171.47,309.75 171.64,323.94 171.82,340.33 171.99,356.40 172.16,369.73 172.34,378.28 172.51,380.76 172.68,376.79 172.86,367.00 173.03,352.88 173.20,336.58 173.38,320.59 173.55,307.35 173.72,298.87 173.90,296.44 174.07,300.43 174.24,310.23 174.41,324.35 174.59,340.63 174.76,356.60 174.93,369.83 175.11,378.31 175.28,380.75 175.45,376.80 175.63,367.05 175.80,353.01 175.97,336.81 176.15,320.92 176.32,307.77 176.49,299.37 176.67,296.97 176.84,300.96 177.01,310.72 177.19,324.76 177.36,340.94 177.53,356.80 177.70,369.94 177.88,378.34 178.05,380.75 178.22,376.80 178.40,367.10 178.57,353.13 178.74,337.03 178.92,321.25 179.09,308.20 179.26,299.86 179.44,297.51 179.61,301.49 179.78,311.20 179.96,325.16 180.13,341.24 180.30,357.00 180.48,370.04 180.65,378.38 180.82,380.75 181.00,376.80 181.17,367.15 181.34,353.26 181.51,337.26 181.69,321.58 181.86,308.63 182.03,300.36 182.21,298.03 182.38,302.01 182.55,311.68 182.73,325.56 182.90,341.54 183.07,357.20 183.25,370.14 183.42,378.41 183.59,380.75 183.77,376.81 183.94,367.20 184.11,353.39 184.29,337.48 184.46,321.91 184.63,309.05 184.80,300.85 184.98,298.56 185.15,302.53 185.32,312.15 185.50,325.96 185.67,341.84 185.84,357.39 186.02,370.24 186.19,378.44 186.36,380.74 186.54,376.81 186.71,367.24 186.88,353.51 187.06,337.71 187.23,322.24 187.40,309.47 187.58,301.34 187.75,299.08 187.92,303.05 188.09,312.62 188.27,326.35 188.44,342.14 188.61,357.59 188.79,370.34 188.96,378.47 189.13,380.74 189.31,376.81 189.48,367.29 189.65,353.64 189.83,337.93 190.00,322.56 190.17,309.88 190.35,301.82 190.52,299.60 190.69,303.56 190.87,313.09 191.04,326.74 191.21,342.43 191.38,357.78 191.56,370.44 191.73,378.50 191.90,380.74 192.08,376.82 192.25,367.34 192.42,353.76 192.60,338.15 192.77,322.89 192.94,310.30 193.12,302.30 193.29,300.12 193.46,304.07 193.64,313.56 193.81,327.13 193.98,342.73 194.16,357.97 194.33,370.54 194.50,378.54 194.67,380.74 194.85,376.82 195.02,367.39 195.19,353.88 195.37,338.37 195.54,323.21 195.71,310.71 195.89,302.78 196.06,300.63 196.23,304.58 196.41,314.02 196.58,327.52 196.75,343.02 196.93,358.16 197.10,370.64 197.27,378.57 197.45,380.74 197.62,376.82 197.79,367.44 197.96,354.01 198.14,338.59 198.31,323.53 198.48,311.12 198.66,303.26 198.83,301.14 199.00,305.08 199.18,314.48 199.35,327.90 199.52,343.30 199.70,358.35 199.87,370.74 200.04,378.60 200.22,380.73 200.39,376.83 200.56,367.48 200.74,354.13 200.91,338.80 201.08,323.84 201.25,311.53 201.43,303.74 201.60,301.65 201.77,305.58 201.95,314.93 202.12,328.28 202.29,343.59 202.47,358.53 202.64,370.83 202.81,378.63 202.99,380.73 203.16,376.83 203.33,367.53 203.51,354.25 203.68,339.02 203.85,324.16 204.03,311.93 204.20,304.21 204.37,302.15 204.54,306.08 204.72,315.39 204.89,328.66 205.06,343.87 205.24,358.72 205.41,370.93 205.58,378.66 205.76,380.73 205.93,376.84 206.10,367.58 206.28,354.37 206.45,339.24 206.62,324.47 206.80,312.34 206.97,304.67 207.14,302.65 207.32,306.57 207.49,315.83 207.66,329.03 207.83,344.16 208.01,358.90 208.18,371.02 208.35,378.69 208.53,380.73 208.70,376.84 208.87,367.63 209.05,354.50 209.22,339.45 209.39,324.79 209.57,312.74 209.74,305.14 209.91,303.15 210.09,307.06 210.26,316.28 210.43,329.41 210.61,344.44 210.78,359.08 210.95,371.12 211.12,378.71 211.30,380.72 211.47,376.84 211.64,367.67 211.82,354.62 211.99,339.66 212.16,325.10 212.34,313.14 212.51,305.60 212.68,303.64 212.86,307.55 213.03,316.73 213.20,329.78 213.38,344.71 213.55,359.26 213.72,371.21 213.90,378.74 214.07,380.72 214.24,376.85 214.41,367.72 214.59,354.74 214.76,339.88 214.93,325.41 215.11,313.53 215.28,306.06 215.45,304.13 215.63,308.03 215.80,317.17 215.97,330.14 216.15,344.99 216.32,359.44 216.49,371.30 216.67,378.77 216.84,380.72 217.01,376.85 217.19,367.77 217.36,354.86 217.53,340.09 217.70,325.72 217.88,313.93 218.05,306.52 218.22,304.62 218.40,308.51 218.57,317.60 218.74,330.51 218.92,345.26 219.09,359.62 219.26,371.39 219.44,378.80 219.61,380.71 219.78,376.86 219.96,367.81 220.13,354.98 220.30,340.30 220.48,326.02 220.65,314.32 220.82,306.97 220.99,305.10 221.17,308.99 221.34,318.04 221.51,330.87 221.69,345.53 221.86,359.79 222.03,371.48 222.21,378.83 222.38,380.71 222.55,376.86 222.73,367.86 222.90,355.09 223.07,340.51 223.25,326.33 223.42,314.71 223.59,307.43 223.77,305.58 223.94,309.46 224.11,318.47 224.28,331.23 224.46,345.80 224.63,359.97 224.80,371.57 224.98,378.85 225.15,380.71 225.32,376.86 225.50,367.91 225.67,355.21 225.84,340.72 226.02,326.63 226.19,315.10 226.36,307.87 226.54,306.06 226.71,309.94 226.88,318.90 227.06,331.59 227.23,346.07 227.40,360.14 227.57,371.66 227.75,378.88 227.92,380.71 228.09,376.87 228.27,367.96 228.44,355.33 228.61,340.92 228.79,326.93 228.96,315.48 229.13,308.32 229.31,306.54 229.48,310.40 229.65,319.32 229.83,331.94 230.00,346.34 230.17,360.31 230.35,371.75 230.52,378.91 230.69,380.70 230.86,376.87 231.04,368.00 231.21,355.45 231.38,341.13 231.56,327.23 231.73,315.86 231.90,308.76 232.08,307.01 232.25,310.87 232.42,319.75 232.60,332.29 232.77,346.60 232.94,360.48 233.12,371.84 233.29,378.93 233.46,380.70 233.64,376.88 233.81,368.05 233.98,355.57 234.15,341.34 234.33,327.53 234.50,316.24 234.67,309.21 234.85,307.48 235.02,311.33 235.19,320.17 235.37,332.64 235.54,346.86 235.71,360.65 235.89,371.92 236.06,378.96 236.23,380.70 236.41,376.88 236.58,368.09 236.75,355.68 236.93,341.54 237.10,327.82 237.27,316.62 237.44,309.64 237.62,307.95 237.79,311.79 237.96,320.59 238.14,332.99 238.31,347.12 238.48,360.82 238.66,372.01 238.83,378.99 239.00,380.70 239.18,376.89 239.35,368.14 239.52,355.80 239.70,341.74 239.87,328.12 240.04,317.00 240.22,310.08 240.39,308.41 240.56,312.25 240.73,321.00 240.91,333.34 241.08,347.38 241.25,360.99 241.43,372.09 241.60,379.01 241.77,380.69 241.95,376.89 242.12,368.19 242.29,355.91 242.47,341.95 242.64,328.41 242.81,317.37 242.99,310.51 243.16,308.87 243.33,312.70 243.51,321.41 243.68,333.68 243.85,347.63 244.02,361.15 244.20,372.18 244.37,379.04 244.54,380.69 244.72,376.89 244.89,368.23 245.06,356.03 245.24,342.15 245.41,328.70 245.58,317.75 245.76,310.94 245.93,309.33 246.10,313.15 246.28,321.82 246.45,334.02 246.62,347.89 246.80,361.31 246.97,372.26 247.14,379.06 247.31,380.69 247.49,376.90 247.66,368.28 247.83,356.14 248.01,342.35 248.18,328.99 248.35,318.11 248.53,311.37 248.70,309.79 248.87,313.60 249.05,322.23 249.22,334.36 249.39,348.14 249.57,361.48 249.74,372.34 249.91,379.09 250.09,380.69 250.26,376.90 250.43,368.32 250.60,356.26 250.78,342.55 250.95,329.28 251.12,318.48 251.30,311.80 251.47,310.24 251.64,314.04 251.82,322.63 251.99,334.69 252.16,348.39 252.34,361.64 252.51,372.42 252.68,379.11 252.86,380.68 253.03,376.91 253.20,368.37 253.38,356.37 253.55,342.74 253.72,329.57 253.90,318.85 254.07,312.22 254.24,310.69 254.41,314.49 254.59,323.03 254.76,335.02 254.93,348.64 255.11,361.80 255.28,372.50 255.45,379.13 255.63,380.68 255.80,376.91 255.97,368.42 256.15,356.48 256.32,342.94 256.49,329.85 256.67,319.21 256.84,312.64 257.01,311.13 257.19,314.92 257.36,323.43 257.53,335.35 257.70,348.88 257.88,361.96 258.05,372.59 258.22,379.16 258.40,380.68 258.57,376.92 258.74,368.46 258.92,356.60 259.09,343.14 259.26,330.14 259.44,319.57 259.61,313.06 259.78,311.58 259.96,315.36 260.13,323.83 260.30,335.68 260.48,349.13 260.65,362.11 260.82,372.66 260.99,379.18 261.17,380.67 261.34,376.92 261.51,368.51 261.69,356.71 261.86,343.33 262.03,330.42 262.21,319.93 262.38,313.47 262.55,312.02 262.73,315.79 262.90,324.22 263.07,336.01 263.25,349.37 263.42,362.27 263.59,372.74 263.77,379.20 263.94,380.67 264.11,376.93 264.28,368.55 264.46,356.82 264.63,343.53 264.80,330.70 264.98,320.29 265.15,313.88 265.32,312.46 265.50,316.22 265.67,324.61 265.84,336.33 266.02,349.61 266.19,362.42 266.36,372.82 266.54,379.23 266.71,380.67 266.88,376.93 267.06,368.60 267.23,356.93 267.40,343.72 267.57,330.98 267.75,320.65 267.92,314.30 268.09,312.89 268.27,316.65 268.44,325.00 268.61,336.65 268.79,349.85 268.96,362.58 269.13,372.90 269.31,379.25 269.48,380.67 269.65,376.94 269.83,368.64 270.00,357.04 270.17,343.91 270.35,331.26 270.52,321.00 270.69,314.70 270.86,313.33 271.04,317.08 271.21,325.38 271.38,336.97 271.56,350.09 271.73,362.73 271.90,372.98 272.08,379.27 272.25,380.66 272.42,376.94 272.60,368.69 272.77,357.15 272.94,344.11 273.12,331.53 273.29,321.35 273.46,315.11 273.64,313.76 273.81,317.50 273.98,325.76 274.15,337.29 274.33,350.32 274.50,362.88 274.67,373.05 274.85,379.29 275.02,380.66 275.19,376.95 275.37,368.73 275.54,357.26 275.71,344.30 275.89,331.81 276.06,321.70 276.23,315.51 276.41,314.18 276.58,317.92 276.75,326.14 276.93,337.60 277.10,350.56 277.27,363.03 277.44,373.13 277.62,379.31 277.79,380.66 277.96,376.95 278.14,368.77 278.31,357.37 278.48,344.49 278.66,332.08 278.83,322.05 279.00,315.91 279.18,314.61 279.35,318.33 279.52,326.52 279.70,337.92 279.87,350.79 280.04,363.18 280.22,373.20 280.39,379.34 280.56,380.65 280.73,376.96 280.91,368.82 281.08,357.48 281.25,344.67 281.43,332.35 281.60,322.39 281.77,316.31 281.95,315.03 282.12,318.75 282.29,326.89 282.47,338.23 282.64,351.02 282.81,363.33 282.99,373.28 283.16,379.36 283.33,380.65 283.51,376.96 283.68,368.86 283.85,357.59 284.02,344.86 284.20,332.62 284.37,322.73 284.54,316.71 284.72,315.45 284.89,319.16 285.06,327.27 285.24,338.53 285.41,351.25 285.58,363.47 285.76,373.35 285.93,379.38 286.10,380.65 286.28,376.97 286.45,368.91 286.62,357.70 286.80,345.05 286.97,332.89 287.14,323.08 287.31,317.10 287.49,315.87 287.66,319.57 287.83,327.63 288.01,338.84 288.18,351.47 288.35,363.62 288.53,373.42 288.70,379.40 288.87,380.64 289.05,376.97 289.22,368.95 289.39,357.81 289.57,345.24 289.74,333.16 289.91,323.42 290.09,317.49 290.26,316.28 290.43,319.97 290.60,328.00 290.78,339.14 290.95,351.70 291.12,363.76 291.30,373.49 291.47,379.42 291.64,380.64 291.82,376.98 291.99,369.00 292.16,357.91 292.34,345.42 292.51,333.42 292.68,323.75 292.86,317.88 293.03,316.69 293.20,320.38 293.38,328.37 293.55,339.44 293.72,351.92 293.89,363.90 294.07,373.56 294.24,379.44 294.41,380.64 294.59,376.98 294.76,369.04 294.93,358.02 295.11,345.60 295.28,333.69 295.45,324.09 295.63,318.26 295.80,317.10 295.97,320.78 296.15,328.73 296.32,339.74 296.49,352.14 296.67,364.05 296.84,373.64 297.01,379.46 297.18,380.64 297.36,376.99 297.53,369.08 297.70,358.13 297.88,345.79 298.05,333.95 298.22,324.42 298.40,318.65 298.57,317.51 298.74,321.18 298.92,329.09 299.09,340.04 299.26,352.36 299.44,364.19 299.61,373.71 299.78,379.48 299.96,380.63 300.13,377.00 300.30,369.13 300.47,358.23 300.65,345.97 300.82,334.21 300.99,324.75 301.17,319.03 301.34,317.91 301.51,321.57 301.69,329.44 301.86,340.34 302.03,352.58 302.21,364.32 302.38,373.78 302.55,379.50 302.73,380.63 302.90,377.00 303.07,369.17 303.25,358.34 303.42,346.15 303.59,334.47 303.76,325.08 303.94,319.41 304.11,318.31 304.28,321.96 304.46,329.80 304.63,340.63 304.80,352.80 304.98,364.46 305.15,373.84 305.32,379.52 305.50,380.63 305.67,377.01 305.84,369.21 306.02,358.44 306.19,346.33 306.36,334.73 306.54,325.41 306.71,319.79 306.88,318.71 307.05,322.35 307.23,330.15 307.40,340.92 307.57,353.02 307.75,364.60 307.92,373.91 308.09,379.54 308.27,380.62 308.44,377.01 308.61,369.26 308.79,358.55 308.96,346.51 309.13,334.99 309.31,325.74 309.48,320.16 309.65,319.11 309.83,322.74 310.00,330.50 310.17,341.21 310.34,353.23 310.52,364.74 310.69,373.98 310.86,379.56 311.04,380.62 311.21,377.02 311.38,369.30 311.56,358.65 311.73,346.69 311.90,335.25 312.08,326.06 312.25,320.53 312.42,319.50 312.60,323.13 312.77,330.85 312.94,341.49 313.12,353.44 313.29,364.87 313.46,374.05 313.63,379.57 313.81,380.62 313.98,377.02 314.15,369.34 314.33,358.75 314.50,346.87 314.67,335.50 314.85,326.38 315.02,320.90 315.19,319.90 315.37,323.51 315.54,331.19 315.71,341.78 315.89,353.65 316.06,365.00 316.23,374.11 316.41,379.59 316.58,380.62 316.75,377.03 316.92,369.39 317.10,358.86 317.27,347.05 317.44,335.75 317.62,326.70 317.79,321.27 317.96,320.28 318.14,323.89 318.31,331.54 318.48,342.06 318.66,353.86 318.83,365.14 319.00,374.18 319.18,379.61 319.35,380.61 319.52,377.04 319.70,369.43 319.87,358.96 320.04,347.22 320.21,336.01 320.39,327.02 320.56,321.64 320.73,320.67 320.91,324.27 321.08,331.88 321.25,342.34 321.43,354.07 321.60,365.27 321.77,374.24 321.95,379.63 322.12,380.61 322.29,377.04 322.47,369.47 322.64,359.06 322.81,347.40 322.99,336.26 323.16,327.34 323.33,322.00 323.50,321.06 323.68,324.64 323.85,332.22 324.02,342.62 324.20,354.27 324.37,365.40 324.54,374.31 324.72,379.65 324.89,380.61 325.06,377.05 325.24,369.52 325.41,359.16 325.58,347.57 325.76,336.51 325.93,327.65 326.10,322.36 326.28,321.44 326.45,325.02 326.62,332.55 326.80,342.90 326.97,354.48 327.14,365.53 327.31,374.37 327.49,379.66 327.66,380.60 327.83,377.05 328.01,369.56 328.18,359.26 328.35,347.74 328.53,336.75 328.70,327.97 328.87,322.72 329.05,321.82 329.22,325.39 329.39,332.89 329.57,343.17 329.74,354.68 329.91,365.66 330.09,374.44 330.26,379.68 330.43,380.60 330.60,377.06 330.78,369.60 330.95,359.37 331.12,347.92 331.30,337.00 331.47,328.28 331.64,323.08 331.82,322.19 331.99,325.75 332.16,333.22 332.34,343.45 332.51,354.88 332.68,365.79 332.86,374.50 333.03,379.70 333.20,380.60 333.38,377.06 333.55,369.64 333.72,359.47 333.89,348.09 334.07,337.25 334.24,328.59 334.41,323.43 334.59,322.57 334.76,326.12 334.93,333.55 335.11,343.72 335.28,355.08 335.45,365.91 335.63,374.56 335.80,379.71 335.97,380.59 336.15,377.07 336.32,369.68 336.49,359.57 336.67,348.26 336.84,337.49 337.01,328.90 337.18,323.79 337.36,322.94 337.53,326.48 337.70,333.87 337.88,343.99 338.05,355.28 338.22,366.04 338.40,374.62 338.57,379.73 338.74,380.59 338.92,377.08 339.09,369.73 339.26,359.67 339.44,348.43 339.61,337.73 339.78,329.20 339.96,324.14 340.13,323.31 340.30,326.84 340.47,334.20 340.65,344.25 340.82,355.48 340.99,366.16 341.17,374.68 341.34,379.75 341.51,380.59 341.69,377.08 341.86,369.77 342.03,359.77 342.21,348.60 342.38,337.97 342.55,329.51 342.73,324.49 342.90,323.68 343.07,327.20 343.25,334.52 343.42,344.52 343.59,355.67 343.76,366.28 343.94,374.74 344.11,379.76 344.28,380.59 344.46,377.09 344.63,369.81 344.80,359.86 344.98,348.77 345.15,338.21 345.32,329.81 345.50,324.83 345.67,324.04 345.84,327.56 346.02,334.84 346.19,344.78 346.36,355.87 346.54,366.41 346.71,374.80 346.88,379.78 347.05,380.58 347.23,377.09 347.40,369.85 347.57,359.96 347.75,348.94 347.92,338.45 348.09,330.11 348.27,325.18 348.44,324.41 348.61,327.91 348.79,335.16 348.96,345.04 349.13,356.06 349.31,366.53 349.48,374.86 349.65,379.80 349.83,380.58 350.00,377.10 350.17,369.89 350.34,360.06 350.52,349.10 350.69,338.69 350.86,330.41 351.04,325.52 351.21,324.77 351.38,328.26 351.56,335.47 351.73,345.30 351.90,356.25 352.08,366.65 352.25,374.92 352.42,379.81 352.60,380.58 352.77,377.11 352.94,369.94 353.12,360.16 353.29,349.27 353.46,338.93 353.63,330.71 353.81,325.86 353.98,325.13 354.15,328.61 354.33,335.79 354.50,345.56 354.67,356.44 354.85,366.77 355.02,374.98 355.19,379.83 355.37,380.57 355.54,377.11 355.71,369.98 355.89,360.26 356.06,349.43 356.23,339.16 356.41,331.00 356.58,326.20 356.75,325.48 356.92,328.96 357.10,336.10 357.27,345.82 357.44,356.63 357.62,366.89 357.79,375.04 357.96,379.84 358.14,380.57 358.31,377.12 358.48,370.02 358.66,360.35 358.83,349.60 359.00,339.39 359.18,331.29 359.35,326.53 359.52,325.84 359.70,329.30 359.87,336.41 360.04,346.07 360.21,356.81 360.39,367.00 360.56,375.09 360.73,379.86 360.91,380.57 361.08,377.13 361.25,370.06 361.43,360.45 361.60,349.76"/>
<polyline fill="none" stroke="#3d44b2" stroke-width="1.45" stroke-opacity="0.85" stroke-linejoin="round" points="70.00,273.74 70.17,277.86 70.35,289.50 70.52,306.88 70.69,327.37 70.87,347.84 71.04,365.18 71.21,376.75 71.39,380.80 71.56,376.73 71.73,365.15 71.90,347.86 72.08,327.47 72.25,307.11 72.42,289.88 72.60,278.40 72.77,274.42 72.94,278.53 73.12,290.12 73.29,307.41 73.46,327.77 73.64,348.11 73.81,365.32 73.98,376.80 74.16,380.80 74.33,376.73 74.50,365.21 74.68,348.00 74.85,327.75 75.02,307.52 75.19,290.41 75.37,279.02 75.54,275.09 75.71,279.20 75.89,290.74 76.06,307.94 76.23,328.17 76.41,348.38 76.58,365.47 76.75,376.85 76.93,380.80 77.10,376.73 77.27,365.26 77.45,348.15 77.62,328.02 77.79,307.92 77.97,290.94 78.14,279.64 78.31,275.76 78.48,279.87 78.66,291.35 78.83,308.46 79.00,328.57 79.18,348.64 79.35,365.61 79.52,376.90 79.70,380.80 79.87,376.73 80.04,365.31 80.22,348.30 80.39,328.28 80.56,308.32 80.74,291.46 80.91,280.26 81.08,276.42 81.26,280.53 81.43,291.97 81.60,308.97 81.77,328.97 81.95,348.90 82.12,365.75 82.29,376.95 82.47,380.80 82.64,376.73 82.81,365.36 82.99,348.44 83.16,328.55 83.33,308.72 83.51,291.98 83.68,280.87 83.85,277.08 84.03,281.19 84.20,292.57 84.37,309.49 84.55,329.36 84.72,349.16 84.89,365.89 85.06,377.00 85.24,380.80 85.41,376.73 85.58,365.41 85.76,348.59 85.93,328.82 86.10,309.12 86.28,292.49 86.45,281.47 86.62,277.74 86.80,281.85 86.97,293.18 87.14,310.00 87.32,329.75 87.49,349.42 87.66,366.03 87.84,377.04 88.01,380.80 88.18,376.73 88.35,365.47 88.53,348.73 88.70,329.08 88.87,309.51 89.05,293.01 89.22,282.08 89.39,278.39 89.57,282.50 89.74,293.77 89.91,310.50 90.09,330.13 90.26,349.68 90.43,366.17 90.61,377.09 90.78,380.80 90.95,376.73 91.13,365.52 91.30,348.88 91.47,329.35 91.64,309.91 91.82,293.52 91.99,282.68 92.16,279.04 92.34,283.14 92.51,294.37 92.68,311.01 92.86,330.52 93.03,349.93 93.20,366.30 93.38,377.14 93.55,380.80 93.72,376.73 93.90,365.57 94.07,349.02 94.24,329.61 94.42,310.30 94.59,294.03 94.76,283.27 94.93,279.68 95.11,283.78 95.28,294.96 95.45,311.50 95.63,330.90 95.80,350.19 95.97,366.44 96.15,377.18 96.32,380.80 96.49,376.73 96.67,365.62 96.84,349.16 97.01,329.87 97.19,310.68 97.36,294.53 97.53,283.87 97.71,280.32 97.88,284.42 98.05,295.55 98.22,312.00 98.40,331.27 98.57,350.44 98.74,366.57 98.92,377.23 99.09,380.80 99.26,376.73 99.44,365.67 99.61,349.31 99.78,330.13 99.96,311.07 100.13,295.03 100.30,284.46 100.48,280.96 100.65,285.05 100.82,296.13 101.00,312.49 101.17,331.65 101.34,350.69 101.51,366.71 101.69,377.28 101.86,380.79 102.03,376.74 102.21,365.73 102.38,349.45 102.55,330.39 102.73,311.45 102.90,295.53 103.07,285.04 103.25,281.59 103.42,285.68 103.59,296.71 103.77,312.98 103.94,332.02 104.11,350.93 104.29,366.84 104.46,377.32 104.63,380.79 104.80,376.74 104.98,365.78 105.15,349.59 105.32,330.65 105.50,311.84 105.67,296.03 105.84,285.63 106.02,282.21 106.19,286.31 106.36,297.28 106.54,313.47 106.71,332.39 106.88,351.18 107.06,366.97 107.23,377.36 107.40,380.79 107.58,376.74 107.75,365.83 107.92,349.73 108.10,330.90 108.27,312.22 108.44,296.52 108.61,286.21 108.79,282.84 108.96,286.93 109.13,297.86 109.31,313.95 109.48,332.76 109.65,351.42 109.83,367.10 110.00,377.41 110.17,380.79 110.35,376.74 110.52,365.88 110.69,349.87 110.87,331.16 111.04,312.60 111.21,297.01 111.39,286.78 111.56,283.46 111.73,287.55 111.90,298.42 112.08,314.43 112.25,333.12 112.42,351.66 112.60,367.23 112.77,377.45 112.94,380.79 113.12,376.74 113.29,365.93 113.46,350.01 113.64,331.41 113.81,312.97 113.98,297.50 114.16,287.35 114.33,284.08 114.50,288.16 114.68,298.99 114.85,314.90 115.02,333.48 115.19,351.90 115.37,367.35 115.54,377.50 115.71,380.79 115.89,376.74 116.06,365.98 116.23,350.15 116.41,331.66 116.58,313.35 116.75,297.99 116.93,287.92 117.10,284.69 117.27,288.77 117.45,299.55 117.62,315.37 117.79,333.84 117.97,352.14 118.14,367.48 118.31,377.54 118.48,380.79 118.66,376.75 118.83,366.03 119.00,350.29 119.18,331.91 119.35,313.72 119.52,298.47 119.70,288.49 119.87,285.30 120.04,289.38 120.22,300.10 120.39,315.84 120.56,334.20 120.74,352.37 120.91,367.60 121.08,377.58 121.26,380.79 121.43,376.75 121.60,366.08 121.77,350.42 121.95,332.16 122.12,314.09 122.29,298.95 122.47,289.05 122.64,285.90 122.81,289.98 122.99,300.66 123.16,316.31 123.33,334.55 123.51,352.60 123.68,367.73 123.85,377.62 124.03,380.79 124.20,376.75 124.37,366.13 124.55,350.56 124.72,332.41 124.89,314.46 125.06,299.42 125.24,289.61 125.41,286.50 125.58,290.58 125.76,301.20 125.93,316.77 126.10,334.90 126.28,352.84 126.45,367.85 126.62,377.66 126.80,380.78 126.97,376.75 127.14,366.18 127.32,350.70 127.49,332.66 127.66,314.82 127.84,299.90 128.01,290.16 128.18,287.10 128.35,291.17 128.53,301.75 128.70,317.23 128.87,335.25 129.05,353.07 129.22,367.97 129.39,377.70 129.57,380.78 129.74,376.75 129.91,366.23 130.09,350.83 130.26,332.91 130.43,315.19 130.61,300.37 130.78,290.72 130.95,287.69 131.13,291.76 131.30,302.29 131.47,317.68 131.64,335.59 131.82,353.29 131.99,368.09 132.16,377.74 132.34,380.78 132.51,376.76 132.68,366.28 132.86,350.97 133.03,333.15 133.20,315.55 133.38,300.84 133.55,291.27 133.72,288.28 133.90,292.35 134.07,302.83 134.24,318.14 134.42,335.94 134.59,353.52 134.76,368.21 134.93,377.78 135.11,380.78 135.28,376.76 135.45,366.33 135.63,351.11 135.80,333.40 135.97,315.91 136.15,301.31 136.32,291.81 136.49,288.87 136.67,292.93 136.84,303.36 137.01,318.59 137.19,336.28 137.36,353.74 137.53,368.33 137.71,377.82 137.88,380.78 138.05,376.76 138.22,366.38 138.40,351.24 138.57,333.64 138.74,316.27 138.92,301.77 139.09,292.35 139.26,289.45 139.44,293.51 139.61,303.89 139.78,319.03 139.96,336.61 140.13,353.97 140.30,368.45 140.48,377.86 140.65,380.78 140.82,376.76 141.00,366.43 141.17,351.37 141.34,333.88 141.51,316.62 141.69,302.23 141.86,292.89 142.03,290.03 142.21,294.08 142.38,304.42 142.55,319.47 142.73,336.95 142.90,354.19 143.07,368.56 143.25,377.90 143.42,380.78 143.59,376.76 143.77,366.48 143.94,351.51 144.11,334.12 144.29,316.98 144.46,302.69 144.63,293.43 144.80,290.61 144.98,294.65 145.15,304.94 145.32,319.91 145.50,337.28 145.67,354.41 145.84,368.68 146.02,377.94 146.19,380.77 146.36,376.77 146.54,366.53 146.71,351.64 146.88,334.36 147.06,317.33 147.23,303.14 147.40,293.96 147.58,291.18 147.75,295.22 147.92,305.46 148.09,320.35 148.27,337.61 148.44,354.62 148.61,368.79 148.79,377.97 148.96,380.77 149.13,376.77 149.31,366.58 149.48,351.77 149.65,334.60 149.83,317.68 150.00,303.60 150.17,294.49 150.35,291.75 150.52,295.78 150.69,305.98 150.87,320.79 151.04,337.94 151.21,354.84 151.38,368.91 151.56,378.01 151.73,380.77 151.90,376.77 152.08,366.63 152.25,351.91 152.42,334.84 152.60,318.03 152.77,304.05 152.94,295.02 153.12,292.31 153.29,296.34 153.46,306.49 153.64,321.22 153.81,338.27 153.98,355.05 154.16,369.02 154.33,378.05 154.50,380.77 154.67,376.77 154.85,366.68 155.02,352.04 155.19,335.07 155.37,318.38 155.54,304.50 155.71,295.54 155.89,292.87 156.06,296.90 156.23,307.00 156.41,321.64 156.58,338.59 156.75,355.27 156.93,369.13 157.10,378.08 157.27,380.77 157.45,376.78 157.62,366.73 157.79,352.17 157.96,335.31 158.14,318.72 158.31,304.94 158.48,296.06 158.66,293.43 158.83,297.45 159.00,307.51 159.18,322.07 159.35,338.91 159.52,355.48 159.70,369.24 159.87,378.12 160.04,380.76 160.22,376.78 160.39,366.78 160.56,352.30 160.74,335.54 160.91,319.07 161.08,305.38 161.25,296.58 161.43,293.99 161.60,298.00 161.77,308.01 161.95,322.49 162.12,339.23 162.29,355.68 162.47,369.35 162.64,378.16 162.81,380.76 162.99,376.78 163.16,366.83 163.33,352.43 163.51,335.77 163.68,319.41 163.85,305.82 164.03,297.09 164.20,294.54 164.37,298.55 164.54,308.51 164.72,322.91 164.89,339.55 165.06,355.89 165.24,369.46 165.41,378.19 165.58,380.76 165.76,376.79 165.93,366.88 166.10,352.56 166.28,336.01 166.45,319.75 166.62,306.26 166.80,297.60 166.97,295.08 167.14,299.09 167.32,309.01 167.49,323.32 167.66,339.86 167.83,356.10 168.01,369.57 168.18,378.23 168.35,380.76 168.53,376.79 168.70,366.93 168.87,352.69 169.05,336.24 169.22,320.09 169.39,306.70 169.57,298.11 169.74,295.63 169.91,299.63 170.09,309.50 170.26,323.74 170.43,340.17 170.61,356.30 170.78,369.67 170.95,378.26 171.12,380.76 171.30,376.79 171.47,366.98 171.64,352.81 171.82,336.46 171.99,320.42 172.16,307.13 172.34,298.61 172.51,296.17 172.68,300.16 172.86,309.99 173.03,324.15 173.20,340.48 173.38,356.50 173.55,369.78 173.72,378.29 173.90,380.75 174.07,376.80 174.24,367.03 174.41,352.94 174.59,336.69 174.76,320.76 174.93,307.56 175.11,299.12 175.28,296.71 175.45,300.70 175.63,310.48 175.80,324.55 175.97,340.79 176.15,356.70 176.32,369.88 176.49,378.33 176.67,380.75 176.84,376.80 177.01,367.08 177.19,353.07 177.36,336.92 177.53,321.09 177.70,307.99 177.88,299.61 178.05,297.24 178.22,301.22 178.40,310.96 178.57,324.96 178.74,341.09 178.92,356.90 179.09,369.99 179.26,378.36 179.44,380.75 179.61,376.80 179.78,367.12 179.96,353.20 180.13,337.15 180.30,321.42 180.48,308.41 180.65,300.11 180.82,297.77 181.00,301.75 181.17,311.44 181.34,325.36 181.51,341.39 181.69,357.10 181.86,370.09 182.03,378.39 182.21,380.75 182.38,376.81 182.55,367.17 182.73,353.32 182.90,337.37 183.07,321.75 183.25,308.84 183.42,300.60 183.59,298.30 183.77,302.27 183.94,311.91 184.11,325.76 184.29,341.69 184.46,357.30 184.63,370.19 184.80,378.43 184.98,380.75 185.15,376.81 185.32,367.22 185.50,353.45 185.67,337.59 185.84,322.08 186.02,309.26 186.19,301.09 186.36,298.82 186.54,302.79 186.71,312.39 186.88,326.15 187.06,341.99 187.23,357.49 187.40,370.29 187.58,378.46 187.75,380.74 187.92,376.81 188.09,367.27 188.27,353.57 188.44,337.82 188.61,322.40 188.79,309.68 188.96,301.58 189.13,299.34 189.31,303.30 189.48,312.86 189.65,326.55 189.83,342.29 190.00,357.68 190.17,370.39 190.35,378.49 190.52,380.74 190.69,376.82 190.87,367.32 191.04,353.70 191.21,338.04 191.38,322.72 191.56,310.09 191.73,302.06 191.90,299.86 192.08,303.82 192.25,313.32 192.42,326.94 192.60,342.58 192.77,357.87 192.94,370.49 193.12,378.52 193.29,380.74 193.46,376.82 193.64,367.36 193.81,353.82 193.98,338.26 194.16,323.05 194.33,310.51 194.50,302.54 194.67,300.37 194.85,304.32 195.02,313.79 195.19,327.32 195.37,342.87 195.54,358.06 195.71,370.59 195.89,378.55 196.06,380.74 196.23,376.82 196.41,367.41 196.58,353.95 196.75,338.48 196.93,323.37 197.10,310.92 197.27,303.02 197.45,300.89 197.62,304.83 197.79,314.25 197.96,327.71 198.14,343.16 198.31,358.25 198.48,370.69 198.66,378.58 198.83,380.73 199.00,376.83 199.18,367.46 199.35,354.07 199.52,338.70 199.70,323.69 199.87,311.33 200.04,303.50 200.22,301.39 200.39,305.33 200.56,314.71 200.74,328.09 200.91,343.45 201.08,358.44 201.25,370.79 201.43,378.61 201.60,380.73 201.77,376.83 201.95,367.51 202.12,354.19 202.29,338.91 202.47,324.00 202.64,311.73 202.81,303.97 202.99,301.90 203.16,305.83 203.33,315.16 203.51,328.47 203.68,343.73 203.85,358.62 204.03,370.88 204.20,378.64 204.37,380.73 204.54,376.83 204.72,367.56 204.89,354.31 205.06,339.13 205.24,324.32 205.41,312.14 205.58,304.44 205.76,302.40 205.93,306.32 206.10,315.61 206.28,328.85 206.45,344.02 206.62,358.81 206.80,370.98 206.97,378.67 207.14,380.73 207.32,376.84 207.49,367.60 207.66,354.43 207.83,339.34 208.01,324.63 208.18,312.54 208.35,304.91 208.53,302.90 208.70,306.81 208.87,316.06 209.05,329.22 209.22,344.30 209.39,358.99 209.57,371.07 209.74,378.70 209.91,380.72 210.09,376.84 210.26,367.65 210.43,354.56 210.61,339.56 210.78,324.94 210.95,312.94 211.12,305.37 211.30,303.39 211.47,307.30 211.64,316.50 211.82,329.59 211.99,344.57 212.16,359.17 212.34,371.16 212.51,378.73 212.68,380.72 212.86,376.85 213.03,367.70 213.20,354.68 213.38,339.77 213.55,325.25 213.72,313.34 213.90,305.83 214.07,303.89 214.24,307.79 214.41,316.95 214.59,329.96 214.76,344.85 214.93,359.35 215.11,371.26 215.28,378.76 215.45,380.72 215.63,376.85 215.80,367.74 215.97,354.80 216.15,339.98 216.32,325.56 216.49,313.73 216.67,306.29 216.84,304.38 217.01,308.27 217.19,317.39 217.36,330.33 217.53,345.13 217.70,359.53 217.88,371.35 218.05,378.78 218.22,380.72 218.40,376.85 218.57,367.79 218.74,354.92 218.92,340.19 219.09,325.87 219.26,314.12 219.44,306.75 219.61,304.86 219.78,308.75 219.96,317.82 220.13,330.69 220.30,345.40 220.48,359.71 220.65,371.44 220.82,378.81 220.99,380.71 221.17,376.86 221.34,367.84 221.51,355.04 221.69,340.40 221.86,326.17 222.03,314.51 222.21,307.20 222.38,305.34 222.55,309.23 222.73,318.25 222.90,331.05 223.07,345.67 223.25,359.88 223.42,371.53 223.59,378.84 223.77,380.71 223.94,376.86 224.11,367.89 224.28,355.15 224.46,340.61 224.63,326.48 224.80,314.90 224.98,307.65 225.15,305.82 225.32,309.70 225.50,318.68 225.67,331.41 225.84,345.94 226.02,360.05 226.19,371.62 226.36,378.87 226.54,380.71 226.71,376.87 226.88,367.93 227.06,355.27 227.23,340.82 227.40,326.78 227.57,315.29 227.75,308.10 227.92,306.30 228.09,310.17 228.27,319.11 228.44,331.77 228.61,346.20 228.79,360.23 228.96,371.70 229.13,378.89 229.31,380.71 229.48,376.87 229.65,367.98 229.83,355.39 230.00,341.03 230.17,327.08 230.35,315.67 230.52,308.54 230.69,306.78 230.86,310.64 231.04,319.54 231.21,332.12 231.38,346.47 231.56,360.40 231.73,371.79 231.90,378.92 232.08,380.70 232.25,376.87 232.42,368.02 232.60,355.51 232.77,341.23 232.94,327.38 233.12,316.05 233.29,308.99 233.46,307.25 233.64,311.10 233.81,319.96 233.98,332.47 234.15,346.73 234.33,360.57 234.50,371.88 234.67,378.95 234.85,380.70 235.02,376.88 235.19,368.07 235.37,355.62 235.54,341.44 235.71,327.68 235.89,316.43 236.06,309.42 236.23,307.71 236.41,311.56 236.58,320.38 236.75,332.82 236.93,346.99 237.10,360.74 237.27,371.96 237.44,378.97 237.62,380.70 237.79,376.88 237.96,368.12 238.14,355.74 238.31,341.64 238.48,327.97 238.66,316.81 238.83,309.86 239.00,308.18 239.18,312.02 239.35,320.79 239.52,333.16 239.70,347.25 239.87,360.90 240.04,372.05 240.22,379.00 240.39,380.69 240.56,376.89 240.73,368.16 240.91,355.86 241.08,341.84 241.25,328.26 241.43,317.19 241.60,310.30 241.77,308.64 241.95,312.47 242.12,321.21 242.29,333.51 242.47,347.51 242.64,361.07 242.81,372.13 242.99,379.02 243.16,380.69 243.33,376.89 243.51,368.21 243.68,355.97 243.85,342.05 244.02,328.56 244.20,317.56 244.37,310.73 244.54,309.10 244.72,312.93 244.89,321.62 245.06,333.85 245.24,347.76 245.41,361.23 245.58,372.22 245.76,379.05 245.93,380.69 246.10,376.90 246.28,368.26 246.45,356.09 246.62,342.25 246.80,328.85 246.97,317.93 247.14,311.16 247.31,309.56 247.49,313.38 247.66,322.02 247.83,334.19 248.01,348.01 248.18,361.40 248.35,372.30 248.53,379.07 248.70,380.69 248.87,376.90 249.05,368.30 249.22,356.20 249.39,342.45 249.57,329.14 249.74,318.30 249.91,311.58 250.09,310.01 250.26,313.82 250.43,322.43 250.60,334.52 250.78,348.26 250.95,361.56 251.12,372.38 251.30,379.10 251.47,380.68 251.64,376.91 251.82,368.35 251.99,356.31 252.16,342.65 252.34,329.42 252.51,318.67 252.68,312.01 252.86,310.46 253.03,314.26 253.20,322.83 253.38,334.86 253.55,348.51 253.72,361.72 253.90,372.46 254.07,379.12 254.24,380.68 254.41,376.91 254.59,368.39 254.76,356.43 254.93,342.84 255.11,329.71 255.28,319.03 255.45,312.43 255.63,310.91 255.80,314.70 255.97,323.23 256.15,335.19 256.32,348.76 256.49,361.88 256.67,372.54 256.84,379.15 257.01,380.68 257.19,376.92 257.36,368.44 257.53,356.54 257.70,343.04 257.88,329.99 258.05,319.39 258.22,312.85 258.40,311.36 258.57,315.14 258.74,323.63 258.92,335.52 259.09,349.01 259.26,362.03 259.44,372.62 259.61,379.17 259.78,380.68 259.96,376.92 260.13,368.48 260.30,356.65 260.48,343.24 260.65,330.28 260.82,319.75 260.99,313.26 261.17,311.80 261.34,315.58 261.51,324.02 261.69,335.85 261.86,349.25 262.03,362.19 262.21,372.70 262.38,379.19 262.55,380.67 262.73,376.93 262.90,368.53 263.07,356.76 263.25,343.43 263.42,330.56 263.59,320.11 263.77,313.68 263.94,312.24 264.11,316.01 264.28,324.41 264.46,336.17 264.63,349.49 264.80,362.35 264.98,372.78 265.15,379.22 265.32,380.67 265.50,376.93 265.67,368.57 265.84,356.88 266.02,343.62 266.19,330.84 266.36,320.47 266.54,314.09 266.71,312.68 266.88,316.44 267.06,324.80 267.23,336.49 267.40,349.73 267.57,362.50 267.75,372.86 267.92,379.24 268.09,380.67 268.27,376.94 268.44,368.62 268.61,356.99 268.79,343.82 268.96,331.12 269.13,320.82 269.31,314.50 269.48,313.11 269.65,316.86 269.83,325.19 270.00,336.81 270.17,349.97 270.35,362.65 270.52,372.94 270.69,379.26 270.86,380.66 271.04,376.94 271.21,368.66 271.38,357.10 271.56,344.01 271.73,331.39 271.90,321.17 272.08,314.91 272.25,313.54 272.42,317.29 272.60,325.57 272.77,337.13 272.94,350.21 273.12,362.80 273.29,373.01 273.46,379.28 273.64,380.66 273.81,376.95 273.98,368.71 274.15,357.21 274.33,344.20 274.50,331.67 274.67,321.52 274.85,315.31 275.02,313.97 275.19,317.71 275.37,325.95 275.54,337.45 275.71,350.44 275.89,362.96 276.06,373.09 276.23,379.30 276.41,380.66 276.58,376.95 276.75,368.75 276.93,357.32 277.10,344.39 277.27,331.94 277.44,321.87 277.62,315.71 277.79,314.40 277.96,318.13 278.14,326.33 278.31,337.76 278.48,350.67 278.66,363.10 278.83,373.16 279.00,379.33 279.18,380.65 279.35,376.96 279.52,368.80 279.70,357.43 279.87,344.58 280.04,332.22 280.22,322.22 280.39,316.11 280.56,314.82 280.73,318.54 280.91,326.71 281.08,338.07 281.25,350.90 281.43,363.25 281.60,373.24 281.77,379.35 281.95,380.65 282.12,376.96 282.29,368.84 282.47,357.54 282.64,344.77 282.81,332.49 282.99,322.56 283.16,316.51 283.33,315.24 283.51,318.95 283.68,327.08 283.85,338.38 284.02,351.13 284.20,363.40 284.37,373.31 284.54,379.37 284.72,380.65 284.89,376.97 285.06,368.89 285.24,357.64 285.41,344.96 285.58,332.76 285.76,322.91 285.93,316.90 286.10,315.66 286.28,319.36 286.45,327.45 286.62,338.69 286.80,351.36 286.97,363.54 287.14,373.39 287.31,379.39 287.49,380.65 287.66,376.97 287.83,368.93 288.01,357.75 288.18,345.14 288.35,333.03 288.53,323.25 288.70,317.29 288.87,316.07 289.05,319.77 289.22,327.82 289.39,338.99 289.57,351.59 289.74,363.69 289.91,373.46 290.09,379.41 290.26,380.64 290.43,376.98 290.60,368.97 290.78,357.86 290.95,345.33 291.12,333.29 291.30,323.58 291.47,317.68 291.64,316.49 291.82,320.18 291.99,328.18 292.16,339.29 292.34,351.81 292.51,363.83 292.68,373.53 292.86,379.43 293.03,380.64 293.20,376.98 293.38,369.02 293.55,357.97 293.72,345.51 293.89,333.56 294.07,323.92 294.24,318.07 294.41,316.90 294.59,320.58 294.76,328.55 294.93,339.59 295.11,352.03 295.28,363.97 295.45,373.60 295.63,379.45 295.80,380.64 295.97,376.99 296.15,369.06 296.32,358.07 296.49,345.70 296.67,333.82 296.84,324.26 297.01,318.46 297.18,317.31 297.36,320.98 297.53,328.91 297.70,339.89 297.88,352.25 298.05,364.12 298.22,373.67 298.40,379.47 298.57,380.63 298.74,376.99 298.92,369.11 299.09,358.18 299.26,345.88 299.44,334.08 299.61,324.59 299.78,318.84 299.96,317.71 300.13,321.37 300.30,329.27 300.47,340.19 300.65,352.47 300.82,364.26 300.99,373.74 301.17,379.49 301.34,380.63 301.51,377.00 301.69,369.15 301.86,358.28 302.03,346.06 302.21,334.34 302.38,324.92 302.55,319.22 302.73,318.11 302.90,321.77 303.07,329.62 303.25,340.48 303.42,352.69 303.59,364.39 303.76,373.81 303.94,379.51 304.11,380.63 304.28,377.00 304.46,369.19 304.63,358.39 304.80,346.24 304.98,334.60 305.15,325.25 305.32,319.60 305.50,318.51 305.67,322.16 305.84,329.98 306.02,340.77 306.19,352.91 306.36,364.53 306.54,373.88 306.71,379.53 306.88,380.63 307.05,377.01 307.23,369.24 307.40,358.49 307.57,346.42 307.75,334.86 307.92,325.57 308.09,319.97 308.27,318.91 308.44,322.55 308.61,330.33 308.79,341.06 308.96,353.12 309.13,364.67 309.31,373.95 309.48,379.55 309.65,380.62 309.83,377.02 310.00,369.28 310.17,358.60 310.34,346.60 310.52,335.12 310.69,325.90 310.86,320.35 311.04,319.31 311.21,322.93 311.38,330.68 311.56,341.35 311.73,353.34 311.90,364.80 312.08,374.01 312.25,379.57 312.42,380.62 312.60,377.02 312.77,369.32 312.94,358.70 313.12,346.78 313.29,335.37 313.46,326.22 313.63,320.72 313.81,319.70 313.98,323.32 314.15,331.02 314.33,341.64 314.50,353.55 314.67,364.94 314.85,374.08 315.02,379.58 315.19,380.62 315.37,377.03 315.54,369.37 315.71,358.81 315.89,346.96 316.06,335.63 316.23,326.54 316.41,321.09 316.58,320.09 316.75,323.70 316.92,331.37 317.10,341.92 317.27,353.76 317.44,365.07 317.62,374.15 317.79,379.60 317.96,380.61 318.14,377.03 318.31,369.41 318.48,358.91 318.66,347.13 318.83,335.88 319.00,326.86 319.18,321.46 319.35,320.48 319.52,324.08 319.70,331.71 319.87,342.20 320.04,353.96 320.21,365.20 320.39,374.21 320.56,379.62 320.73,380.61 320.91,377.04 321.08,369.45 321.25,359.01 321.43,347.31 321.60,336.13 321.77,327.18 321.95,321.82 322.12,320.86 322.29,324.46 322.47,332.05 322.64,342.48 322.81,354.17 322.99,365.33 323.16,374.28 323.33,379.64 323.50,380.61 323.68,377.04 323.85,369.49 324.02,359.11 324.20,347.48 324.37,336.38 324.54,327.50 324.72,322.18 324.89,321.25 325.06,324.83 325.24,332.38 325.41,342.76 325.58,354.38 325.76,365.46 325.93,374.34 326.10,379.65 326.28,380.60 326.45,377.05 326.62,369.54 326.80,359.21 326.97,347.66 327.14,336.63 327.31,327.81 327.49,322.54 327.66,321.63 327.83,325.20 328.01,332.72 328.18,343.04 328.35,354.58 328.53,365.59 328.70,374.40 328.87,379.67 329.05,380.60 329.22,377.06 329.39,369.58 329.57,359.32 329.74,347.83 329.91,336.88 330.09,328.12 330.26,322.90 330.43,322.00 330.60,325.57 330.78,333.05 330.95,343.31 331.12,354.78 331.30,365.72 331.47,374.47 331.64,379.69 331.82,380.60 331.99,377.06 332.16,369.62 332.34,359.42 332.51,348.00 332.68,337.12 332.86,328.43 333.03,323.26 333.20,322.38 333.38,325.94 333.55,333.38 333.72,343.58 333.89,354.98 334.07,365.85 334.24,374.53 334.41,379.71 334.59,380.60 334.76,377.07 334.93,369.66 335.11,359.52 335.28,348.17 335.45,337.37 335.63,328.74 335.80,323.61 335.97,322.75 336.15,326.30 336.32,333.71 336.49,343.85 336.67,355.18 336.84,365.97 337.01,374.59 337.18,379.72 337.36,380.59 337.53,377.07 337.70,369.71 337.88,359.62 338.05,348.35 338.22,337.61 338.40,329.05 338.57,323.96 338.74,323.13 338.92,326.66 339.09,334.04 339.26,344.12 339.44,355.38 339.61,366.10 339.78,374.65 339.96,379.74 340.13,380.59 340.30,377.08 340.47,369.75 340.65,359.72 340.82,348.51 340.99,337.85 341.17,329.35 341.34,324.31 341.51,323.49 341.69,327.02 341.86,334.36 342.03,344.39 342.21,355.57 342.38,366.22 342.55,374.71 342.73,379.76 342.90,380.59 343.07,377.09 343.25,369.79 343.42,359.81 343.59,348.68 343.76,338.09 343.94,329.66 344.11,324.66 344.28,323.86 344.46,327.38 344.63,334.68 344.80,344.65 344.98,355.77 345.15,366.35 345.32,374.77 345.50,379.77 345.67,380.58 345.84,377.09 346.02,369.83 346.19,359.91 346.36,348.85 346.54,338.33 346.71,329.96 346.88,325.01 347.05,324.22 347.23,327.74 347.40,335.00 347.57,344.91 347.75,355.96 347.92,366.47 348.09,374.83 348.27,379.79 348.44,380.58 348.61,377.10 348.79,369.87 348.96,360.01 349.13,349.02 349.31,338.57 349.48,330.26 349.65,325.35 349.83,324.59 350.00,328.09 350.17,335.32 350.34,345.17 350.52,356.15 350.69,366.59 350.86,374.89 351.04,379.80 351.21,380.58 351.38,377.10 351.56,369.91 351.73,360.11 351.90,349.19 352.08,338.81 352.25,330.56 352.42,325.69 352.60,324.95 352.77,328.44 352.94,335.63 353.12,345.43 353.29,356.34 353.46,366.71 353.63,374.95 353.81,379.82 353.98,380.57 354.15,377.11 354.33,369.96 354.50,360.21 354.67,349.35 354.85,339.04 355.02,330.85 355.19,326.03 355.37,325.30 355.54,328.79 355.71,335.94 355.89,345.69 356.06,356.53 356.23,366.83 356.41,375.01 356.58,379.83 356.75,380.57 356.92,377.12 357.10,370.00 357.27,360.30 357.44,349.52 357.62,339.28 357.79,331.15 357.96,326.37 358.14,325.66 358.31,329.13 358.48,336.26 358.66,345.94 358.83,356.72 359.00,366.95 359.18,375.07 359.35,379.85 359.52,380.57 359.70,377.12 359.87,370.04 360.04,360.40 360.21,349.68 360.39,339.51 360.56,331.44 360.73,326.70 360.91,326.01 361.08,329.48 361.25,336.56 361.43,346.20 361.60,356.91"/>
<polygon fill="#3d44b2" fill-opacity="0.11" points="70.00,324.06 74.86,324.68 79.72,325.31 84.58,325.92 89.44,326.53 94.30,327.13 99.16,327.72 104.02,328.31 108.88,328.89 113.74,329.46 118.60,330.03 123.46,330.59 128.32,331.15 133.18,331.70 138.04,332.24 142.90,332.78 147.76,333.31 152.62,333.83 157.48,334.35 162.34,334.87 167.20,335.37 172.06,335.88 176.92,336.37 181.78,336.86 186.64,337.35 191.50,337.83 196.36,338.31 201.22,338.78 206.08,339.24 210.94,339.70 215.80,340.15 220.66,340.60 225.52,341.05 230.38,341.49 235.24,341.92 240.10,342.35 244.96,342.78 249.82,343.20 254.68,343.61 259.54,344.03 264.40,344.43 269.26,344.83 274.12,345.23 278.98,345.63 283.84,346.01 288.70,346.40 293.56,346.78 298.42,347.16 303.28,347.53 308.14,347.90 313.00,348.26 317.86,348.62 322.72,348.98 327.58,349.33 332.44,349.68 337.30,350.02 342.16,350.36 347.02,350.70 351.88,351.03 356.74,351.36 361.60,351.69 361.60,354.98 356.74,354.69 351.88,354.40 347.02,354.11 342.16,353.81 337.30,353.50 332.44,353.20 327.58,352.89 322.72,352.58 317.86,352.26 313.00,351.94 308.14,351.62 303.28,351.29 298.42,350.97 293.56,350.63 288.70,350.29 283.84,349.95 278.98,349.61 274.12,349.26 269.26,348.91 264.40,348.55 259.54,348.19 254.68,347.82 249.82,347.46 244.96,347.08 240.10,346.71 235.24,346.32 230.38,345.94 225.52,345.55 220.66,345.15 215.80,344.76 210.94,344.35 206.08,343.95 201.22,343.53 196.36,343.12 191.50,342.69 186.64,342.27 181.78,341.84 176.92,341.40 172.06,340.96 167.20,340.52 162.34,340.07 157.48,339.61 152.62,339.15 147.76,338.68 142.90,338.21 138.04,337.74 133.18,337.25 128.32,336.77 123.46,336.28 118.60,335.78 113.74,335.27 108.88,334.76 104.02,334.25 99.16,333.73 94.30,333.20 89.44,332.67 84.58,332.13 79.72,331.59 74.86,331.04 70.00,330.48"/>
<polygon fill="#3d44b2" fill-opacity="0.11" points="70.00,320.85 74.86,321.51 79.72,322.16 84.58,322.81 89.44,323.45 94.30,324.09 99.16,324.72 104.02,325.34 108.88,325.95 113.74,326.56 118.60,327.16 123.46,327.75 128.32,328.34 133.18,328.92 138.04,329.49 142.90,330.06 147.76,330.62 152.62,331.17 157.48,331.72 162.34,332.27 167.20,332.80 172.06,333.33 176.92,333.86 181.78,334.38 186.64,334.89 191.50,335.40 196.36,335.90 201.22,336.40 206.08,336.89 210.94,337.37 215.80,337.85 220.66,338.33 225.52,338.80 230.38,339.26 235.24,339.72 240.10,340.18 244.96,340.63 249.82,341.07 254.68,341.51 259.54,341.94 264.40,342.37 269.26,342.80 274.12,343.22 278.98,343.63 283.84,344.05 288.70,344.45 293.56,344.85 298.42,345.25 303.28,345.65 308.14,346.03 313.00,346.42 317.86,346.80 322.72,347.17 327.58,347.55 332.44,347.91 337.30,348.28 342.16,348.64 347.02,348.99 351.88,349.35 356.74,349.69 361.60,350.04 361.60,356.63 356.74,356.36 351.88,356.09 347.02,355.81 342.16,355.53 337.30,355.25 332.44,354.96 327.58,354.67 322.72,354.38 317.86,354.08 313.00,353.79 308.14,353.48 303.28,353.18 298.42,352.87 293.56,352.56 288.70,352.24 283.84,351.92 278.98,351.60 274.12,351.27 269.26,350.94 264.40,350.61 259.54,350.27 254.68,349.93 249.82,349.58 244.96,349.23 240.10,348.88 235.24,348.52 230.38,348.16 225.52,347.80 220.66,347.43 215.80,347.06 210.94,346.68 206.08,346.30 201.22,345.91 196.36,345.52 191.50,345.13 186.64,344.73 181.78,344.32 176.92,343.92 172.06,343.50 167.20,343.09 162.34,342.67 157.48,342.24 152.62,341.81 147.76,341.37 142.90,340.93 138.04,340.48 133.18,340.03 128.32,339.58 123.46,339.12 118.60,338.65 113.74,338.18 108.88,337.70 104.02,337.22 99.16,336.73 94.30,336.24 89.44,335.74 84.58,335.24 79.72,334.73 74.86,334.21 70.00,333.69"/>
<polygon fill="#3d44b2" fill-opacity="0.11" points="70.00,317.63 74.86,318.33 79.72,319.02 84.58,319.71 89.44,320.38 94.30,321.05 99.16,321.71 104.02,322.36 108.88,323.01 113.74,323.65 118.60,324.28 123.46,324.91 128.32,325.53 133.18,326.14 138.04,326.74 142.90,327.34 147.76,327.93 152.62,328.51 157.48,329.09 162.34,329.67 167.20,330.23 172.06,330.79 176.92,331.34 181.78,331.89 186.64,332.43 191.50,332.97 196.36,333.49 201.22,334.02 206.08,334.54 210.94,335.05 215.80,335.55 220.66,336.05 225.52,336.55 230.38,337.04 235.24,337.52 240.10,338.00 244.96,338.47 249.82,338.94 254.68,339.40 259.54,339.86 264.40,340.32 269.26,340.76 274.12,341.21 278.98,341.64 283.84,342.08 288.70,342.51 293.56,342.93 298.42,343.35 303.28,343.76 308.14,344.17 313.00,344.58 317.86,344.98 322.72,345.37 327.58,345.77 332.44,346.15 337.30,346.54 342.16,346.91 347.02,347.29 351.88,347.66 356.74,348.03 361.60,348.39 361.60,358.28 356.74,358.03 351.88,357.77 347.02,357.51 342.16,357.25 337.30,356.99 332.44,356.72 327.58,356.45 322.72,356.18 317.86,355.91 313.00,355.63 308.14,355.35 303.28,355.06 298.42,354.77 293.56,354.48 288.70,354.19 283.84,353.89 278.98,353.59 274.12,353.29 269.26,352.98 264.40,352.67 259.54,352.35 254.68,352.03 249.82,351.71 244.96,351.39 240.10,351.06 235.24,350.73 230.38,350.39 225.52,350.05 220.66,349.71 215.80,349.36 210.94,349.01 206.08,348.65 201.22,348.29 196.36,347.93 191.50,347.56 186.64,347.19 181.78,346.81 176.92,346.43 172.06,346.05 167.20,345.66 162.34,345.27 157.48,344.87 152.62,344.47 147.76,344.06 142.90,343.65 138.04,343.23 133.18,342.81 128.32,342.39 123.46,341.96 118.60,341.52 113.74,341.09 108.88,340.64 104.02,340.19 99.16,339.74 94.30,339.28 89.44,338.81 84.58,338.35 79.72,337.87 74.86,337.39 70.00,336.90"/>
<polygon fill="#3d44b2" fill-opacity="0.11" points="70.00,314.42 74.86,315.16 79.72,315.88 84.58,316.60 89.44,317.31 94.30,318.01 99.16,318.71 104.02,319.39 108.88,320.07 113.74,320.74 118.60,321.41 123.46,322.07 128.32,322.71 133.18,323.36 138.04,323.99 142.90,324.62 147.76,325.24 152.62,325.86 157.48,326.46 162.34,327.07 167.20,327.66 172.06,328.25 176.92,328.83 181.78,329.40 186.64,329.97 191.50,330.53 196.36,331.09 201.22,331.64 206.08,332.18 210.94,332.72 215.80,333.25 220.66,333.78 225.52,334.30 230.38,334.81 235.24,335.32 240.10,335.82 244.96,336.32 249.82,336.81 254.68,337.30 259.54,337.78 264.40,338.26 269.26,338.73 274.12,339.19 278.98,339.65 283.84,340.11 288.70,340.56 293.56,341.00 298.42,341.44 303.28,341.88 308.14,342.31 313.00,342.73 317.86,343.16 322.72,343.57 327.58,343.98 332.44,344.39 337.30,344.79 342.16,345.19 347.02,345.59 351.88,345.98 356.74,346.36 361.60,346.74 361.60,359.93 356.74,359.69 351.88,359.46 347.02,359.22 342.16,358.98 337.30,358.73 332.44,358.48 327.58,358.24 322.72,357.98 317.86,357.73 313.00,357.47 308.14,357.21 303.28,356.94 298.42,356.68 293.56,356.41 288.70,356.14 283.84,355.86 278.98,355.58 274.12,355.30 269.26,355.01 264.40,354.73 259.54,354.43 254.68,354.14 249.82,353.84 244.96,353.54 240.10,353.23 235.24,352.93 230.38,352.61 225.52,352.30 220.66,351.98 215.80,351.66 210.94,351.33 206.08,351.00 201.22,350.67 196.36,350.33 191.50,349.99 186.64,349.65 181.78,349.30 176.92,348.95 172.06,348.59 167.20,348.23 162.34,347.87 157.48,347.50 152.62,347.12 147.76,346.75 142.90,346.37 138.04,345.98 133.18,345.59 128.32,345.20 123.46,344.80 118.60,344.40 113.74,343.99 108.88,343.58 104.02,343.16 99.16,342.74 94.30,342.32 89.44,341.89 84.58,341.45 79.72,341.01 74.86,340.57 70.00,340.12"/>
<polygon fill="#3d44b2" fill-opacity="0.11" points="70.00,311.21 74.86,311.98 79.72,312.74 84.58,313.49 89.44,314.24 94.30,314.97 99.16,315.70 104.02,316.42 108.88,317.13 113.74,317.84 118.60,318.53 123.46,319.22 128.32,319.90 133.18,320.58 138.04,321.24 142.90,321.90 147.76,322.55 152.62,323.20 157.48,323.83 162.34,324.46 167.20,325.09 172.06,325.70 176.92,326.31 181.78,326.92 186.64,327.51 191.50,328.10 196.36,328.68 201.22,329.26 206.08,329.83 210.94,330.39 215.80,330.95 220.66,331.50 225.52,332.05 230.38,332.59 235.24,333.12 240.10,333.65 244.96,334.17 249.82,334.69 254.68,335.20 259.54,335.70 264.40,336.20 269.26,336.69 274.12,337.18 278.98,337.66 283.84,338.14 288.70,338.61 293.56,339.08 298.42,339.54 303.28,340.00 308.14,340.45 313.00,340.89 317.86,341.33 322.72,341.77 327.58,342.20 332.44,342.63 337.30,343.05 342.16,343.47 347.02,343.88 351.88,344.29 356.74,344.69 361.60,345.09 361.60,361.57 356.74,361.36 351.88,361.14 347.02,360.92 342.16,360.70 337.30,360.47 332.44,360.25 327.58,360.02 322.72,359.78 317.86,359.55 313.00,359.31 308.14,359.07 303.28,358.83 298.42,358.58 293.56,358.33 288.70,358.08 283.84,357.83 278.98,357.57 274.12,357.31 269.26,357.05 264.40,356.78 259.54,356.52 254.68,356.24 249.82,355.97 244.96,355.69 240.10,355.41 235.24,355.13 230.38,354.84 225.52,354.55 220.66,354.26 215.80,353.96 210.94,353.66 206.08,353.35 201.22,353.05 196.36,352.74 191.50,352.42 186.64,352.11 181.78,351.79 176.92,351.46 172.06,351.13 167.20,350.80 162.34,350.47 157.48,350.13 152.62,349.78 147.76,349.44 142.90,349.09 138.04,348.73 133.18,348.37 128.32,348.01 123.46,347.64 118.60,347.27 113.74,346.90 108.88,346.52 104.02,346.13 99.16,345.75 94.30,345.36 89.44,344.96 84.58,344.56 79.72,344.15 74.86,343.74 70.00,343.33"/>
<polygon fill="#3d44b2" fill-opacity="0.11" points="70.00,308.00 74.86,308.80 79.72,309.60 84.58,310.39 89.44,311.17 94.30,311.94 99.16,312.70 104.02,313.45 108.88,314.20 113.74,314.93 118.60,315.66 123.46,316.38 128.32,317.09 133.18,317.80 138.04,318.49 142.90,319.18 147.76,319.87 152.62,320.54 157.48,321.21 162.34,321.86 167.20,322.52 172.06,323.16 176.92,323.80 181.78,324.43 186.64,325.05 191.50,325.67 196.36,326.28 201.22,326.88 206.08,327.48 210.94,328.07 215.80,328.65 220.66,329.23 225.52,329.80 230.38,330.36 235.24,330.92 240.10,331.47 244.96,332.02 249.82,332.56 254.68,333.09 259.54,333.62 264.40,334.14 269.26,334.66 274.12,335.17 278.98,335.67 283.84,336.17 288.70,336.66 293.56,337.15 298.42,337.63 303.28,338.11 308.14,338.58 313.00,339.05 317.86,339.51 322.72,339.97 327.58,340.42 332.44,340.87 337.30,341.31 342.16,341.75 347.02,342.18 351.88,342.60 356.74,343.03 361.60,343.45 361.60,363.22 356.74,363.02 351.88,362.83 347.02,362.62 342.16,362.42 337.30,362.22 332.44,362.01 327.58,361.80 322.72,361.59 317.86,361.37 313.00,361.15 308.14,360.93 303.28,360.71 298.42,360.49 293.56,360.26 288.70,360.03 283.84,359.80 278.98,359.56 274.12,359.33 269.26,359.09 264.40,358.84 259.54,358.60 254.68,358.35 249.82,358.10 244.96,357.84 240.10,357.59 235.24,357.33 230.38,357.06 225.52,356.80 220.66,356.53 215.80,356.26 210.94,355.98 206.08,355.71 201.22,355.43 196.36,355.14 191.50,354.86 186.64,354.57 181.78,354.27 176.92,353.98 172.06,353.68 167.20,353.37 162.34,353.07 157.48,352.76 152.62,352.44 147.76,352.12 142.90,351.80 138.04,351.48 133.18,351.15 128.32,350.82 123.46,350.49 118.60,350.15 113.74,349.80 108.88,349.46 104.02,349.11 99.16,348.75 94.30,348.39 89.44,348.03 84.58,347.66 79.72,347.29 74.86,346.92 70.00,346.54"/>
<g clip-path="url(#cb)">
<polyline fill="none" stroke="#dc2d1c" stroke-width="1.75" stroke-linejoin="round" points="376.10,186.40 376.54,186.39 376.98,186.37 377.42,186.34 377.86,186.29 378.30,186.23 378.74,186.16 379.18,186.07 379.62,185.97 380.06,185.86 380.50,185.73 380.94,185.59 381.38,185.44 381.82,185.27 382.26,185.09 382.70,184.90 383.14,184.70 383.58,184.49 384.02,184.26 384.46,184.02 384.90,183.77 385.34,183.51 385.78,183.23 386.22,182.95 386.66,182.65 387.10,182.35 387.54,182.03 387.98,181.70 388.42,181.36 388.86,181.02 389.30,180.66 389.74,180.29 390.18,179.92 390.62,179.53 391.06,179.14 391.50,178.74 391.93,178.33 392.37,177.91 392.81,177.49 393.25,177.06 393.69,176.62 394.13,176.18 394.57,175.73 395.01,175.27 395.45,174.81 395.89,174.35 396.33,173.88 396.77,173.40 397.21,172.92 397.65,172.44 398.09,171.95 398.53,171.46 398.97,170.97 399.41,170.48 399.85,169.98 400.29,169.49 400.73,168.99 401.17,168.49 401.61,167.99 402.05,167.49 402.49,166.99 402.93,166.49 403.37,165.99 403.81,165.49 404.25,165.00 404.69,164.50 405.13,164.01 405.57,163.53 406.01,163.04 406.45,162.56 406.89,162.08 407.33,161.61 407.77,161.14 408.21,160.68 408.65,160.22 409.09,159.76 409.53,159.32 409.97,158.88 410.41,158.44 410.85,158.01 411.29,157.59 411.73,157.18 412.17,156.77 412.61,156.38 413.05,155.99 413.49,155.61 413.93,155.23 414.37,154.87 414.81,154.52 415.25,154.17 415.69,153.84 416.13,153.52 416.57,153.20 417.01,152.90 417.45,152.61 417.89,152.33 418.33,152.06 418.77,151.80 419.21,151.56 419.65,151.32 420.09,151.10 420.53,150.89 420.97,150.69 421.41,150.51 421.85,150.33 422.29,150.17 422.72,150.03 423.16,149.89 423.60,149.77 424.04,149.66 424.48,149.57 424.92,149.49 425.36,149.42 425.80,149.36 426.24,149.32 426.68,149.29 427.12,149.28 427.56,149.28 428.00,149.29 428.44,149.31 428.88,149.35 429.32,149.41 429.76,149.47 430.20,149.55 430.64,149.64 431.08,149.75 431.52,149.87 431.96,150.00 432.40,150.14 432.84,150.30 433.28,150.47 433.72,150.66 434.16,150.85 434.60,151.06 435.04,151.28 435.48,151.51 435.92,151.75 436.36,152.01 436.80,152.28 437.24,152.55 437.68,152.84 438.12,153.14 438.56,153.46 439.00,153.78 439.44,154.11 439.88,154.45 440.32,154.80 440.76,155.16 441.20,155.53 441.64,155.91 442.08,156.30 442.52,156.69 442.96,157.10 443.40,157.51 443.84,157.93 444.28,158.36 444.72,158.79 445.16,159.23 445.60,159.68 446.04,160.13 446.48,160.59 446.92,161.05 447.36,161.52 447.80,161.99 448.24,162.47 448.68,162.95 449.12,163.43 449.56,163.92 450.00,164.41 450.44,164.90 450.88,165.40 451.32,165.89 451.76,166.39 452.20,166.89 452.64,167.39 453.08,167.89 453.51,168.39 453.95,168.89 454.39,169.39 454.83,169.89 455.27,170.38 455.71,170.88 456.15,171.37 456.59,171.86 457.03,172.34 457.47,172.83 457.91,173.31 458.35,173.78 458.79,174.26 459.23,174.72 459.67,175.18 460.11,175.64 460.55,176.09 460.99,176.54 461.43,176.98 461.87,177.41 462.31,177.83 462.75,178.25 463.19,178.66 463.63,179.06 464.07,179.46 464.51,179.84 464.95,180.22 465.39,180.59 465.83,180.95 466.27,181.30 466.71,181.64 467.15,181.97 467.59,182.28 468.03,182.59 468.47,182.89 468.91,183.18 469.35,183.45 469.79,183.72 470.23,183.97 470.67,184.21 471.11,184.44 471.55,184.66 471.99,184.87 472.43,185.06 472.87,185.24 473.31,185.41 473.75,185.56 474.19,185.70 474.63,185.83 475.07,185.95 475.51,186.05 475.95,186.14 476.39,186.22 476.83,186.28 477.27,186.33 477.71,186.37 478.15,186.39 478.59,186.40 479.03,186.40 479.47,186.38 479.91,186.35 480.35,186.30 480.79,186.24 481.23,186.17 481.67,186.09 482.11,185.99 482.55,185.88 482.99,185.76 483.43,185.62 483.87,185.47 484.30,185.31 484.74,185.13 485.18,184.94 485.62,184.74 486.06,184.53 486.50,184.30 486.94,184.07 487.38,183.82 487.82,183.56 488.26,183.29 488.70,183.01 489.14,182.71 489.58,182.41 490.02,182.09 490.46,181.77 490.90,181.43 491.34,181.08 491.78,180.73 492.22,180.37 492.66,179.99 493.10,179.61 493.54,179.22 493.98,178.82 494.42,178.41 494.86,178.00 495.30,177.57 495.74,177.15 496.18,176.71 496.62,176.27 497.06,175.82 497.50,175.36 497.94,174.90 498.38,174.44 498.82,173.97 499.26,173.50 499.70,173.02 500.14,172.53 500.58,172.05 501.02,171.56 501.46,171.07 501.90,170.58 502.34,170.08 502.78,169.58 503.22,169.08 503.66,168.59 504.10,168.09 504.54,167.59 504.98,167.09 505.42,166.59 505.86,166.09 506.30,165.59 506.74,165.09 507.18,164.60 507.62,164.11 508.06,163.62 508.50,163.14 508.94,162.65 509.38,162.18 509.82,161.70 510.26,161.23 510.70,160.77 511.14,160.31 511.58,159.85 512.02,159.40 512.46,158.96 512.90,158.53 513.34,158.10 513.78,157.67 514.22,157.26 514.65,156.85 515.09,156.45 515.53,156.06 515.97,155.68 516.41,155.31 516.85,154.94 517.29,154.59 517.73,154.24 518.17,153.91 518.61,153.58 519.05,153.27 519.49,152.96 519.93,152.67 520.37,152.38 520.81,152.11 521.25,151.85 521.69,151.60 522.13,151.37 522.57,151.14 523.01,150.93 523.45,150.73 523.89,150.54 524.33,150.37 524.77,150.20 525.21,150.05 525.65,149.92 526.09,149.79 526.53,149.68 526.97,149.59 527.41,149.50 527.85,149.43 528.29,149.37 528.73,149.33 529.17,149.30 529.61,149.28 530.05,149.28 530.49,149.28 530.93,149.31 531.37,149.34 531.81,149.39 532.25,149.46 532.69,149.53 533.13,149.62 533.57,149.73 534.01,149.84 534.45,149.97 534.89,150.11 535.33,150.27 535.77,150.44 536.21,150.62 536.65,150.81 537.09,151.02 537.53,151.23 537.97,151.46 538.41,151.71 538.85,151.96 539.29,152.22 539.73,152.50 540.17,152.79 540.61,153.08 541.05,153.39 541.49,153.71 541.93,154.04 542.37,154.38 542.81,154.73 543.25,155.09 543.69,155.46 544.13,155.84 544.57,156.22 545.01,156.62 545.44,157.02 545.88,157.43 546.32,157.85 546.76,158.27 547.20,158.70 547.64,159.14 548.08,159.59 548.52,160.04 548.96,160.50 549.40,160.96 549.84,161.42 550.28,161.90 550.72,162.37 551.16,162.85 551.60,163.33 552.04,163.82 552.48,164.31 552.92,164.80 553.36,165.30 553.80,165.79 554.24,166.29 554.68,166.79 555.12,167.29 555.56,167.79 556.00,168.29 556.44,168.79 556.88,169.29 557.32,169.79 557.76,170.28 558.20,170.78 558.64,171.27 559.08,171.76 559.52,172.25 559.96,172.73 560.40,173.21 560.84,173.69 561.28,174.16 561.72,174.63 562.16,175.09 562.60,175.55 563.04,176.00 563.48,176.45 563.92,176.89 564.36,177.32 564.80,177.75 565.24,178.17 565.68,178.58 566.12,178.98 566.56,179.38 567.00,179.77 567.44,180.15 567.88,180.52 568.32,180.88 568.76,181.23 569.20,181.57 569.64,181.90 570.08,182.22 570.52,182.53 570.96,182.83 571.40,183.12 571.84,183.40 572.28,183.67 572.72,183.92 573.16,184.17 573.60,184.40 574.04,184.62 574.48,184.83 574.92,185.02 575.36,185.20 575.80,185.37 576.24,185.53 576.67,185.68 577.11,185.81 577.55,185.93 577.99,186.03 578.43,186.13 578.87,186.20 579.31,186.27 579.75,186.32 580.19,186.36 580.63,186.39 581.07,186.40 581.51,186.40 581.95,186.38 582.39,186.35 582.83,186.31 583.27,186.26 583.71,186.19 584.15,186.11 584.59,186.01 585.03,185.90 585.47,185.78 585.91,185.65 586.35,185.50 586.79,185.34 587.23,185.17 587.67,184.98 588.11,184.78 588.55,184.57 588.99,184.35 589.43,184.12 589.87,183.87 590.31,183.61 590.75,183.34 591.19,183.06 591.63,182.77 592.07,182.47 592.51,182.15 592.95,181.83 593.39,181.50 593.83,181.15 594.27,180.80 594.71,180.44 595.15,180.07 595.59,179.69 596.03,179.30 596.47,178.90 596.91,178.49 597.35,178.08 597.79,177.66 598.23,177.23 598.67,176.80 599.11,176.35 599.55,175.91 599.99,175.45 600.43,174.99 600.87,174.53 601.31,174.06 601.75,173.59 602.19,173.11 602.63,172.63 603.07,172.14 603.51,171.66 603.95,171.17 604.39,170.67 604.83,170.18 605.27,169.68 605.71,169.18 606.15,168.68 606.59,168.18 607.03,167.68 607.46,167.18 607.90,166.68 608.34,166.18 608.78,165.69 609.22,165.19 609.66,164.70 610.10,164.21 610.54,163.72 610.98,163.23 611.42,162.75 611.86,162.27 612.30,161.79 612.74,161.32 613.18,160.86 613.62,160.40 614.06,159.94 614.50,159.49 614.94,159.05 615.38,158.61 615.82,158.18 616.26,157.76 616.70,157.34 617.14,156.93 617.58,156.53 618.02,156.14 618.46,155.75 618.90,155.38 619.34,155.01 619.78,154.66 620.22,154.31 620.66,153.97 621.10,153.64 621.54,153.33 621.98,153.02 622.42,152.72 622.86,152.44 623.30,152.17 623.74,151.90 624.18,151.65 624.62,151.41 625.06,151.19 625.50,150.97 625.94,150.77 626.38,150.58 626.82,150.40 627.26,150.24 627.70,150.08 628.14,149.94 628.58,149.82 629.02,149.70 629.46,149.60 629.90,149.52 630.34,149.44 630.78,149.38 631.22,149.34 631.66,149.30 632.10,149.28 632.54,149.28 632.98,149.28 633.42,149.30 633.86,149.34 634.30,149.38 634.74,149.44 635.18,149.52 635.62,149.61 636.06,149.71 636.50,149.82 636.94,149.95 637.38,150.09 637.82,150.24 638.25,150.40 638.69,150.58 639.13,150.77 639.57,150.98 640.01,151.19 640.45,151.42 640.89,151.66 641.33,151.91 641.77,152.17 642.21,152.44 642.65,152.73 643.09,153.03 643.53,153.33 643.97,153.65 644.41,153.98 644.85,154.31 645.29,154.66 645.73,155.02 646.17,155.39 646.61,155.76 647.05,156.15 647.49,156.54 647.93,156.94 648.37,157.35 648.81,157.76 649.25,158.19 649.69,158.62 650.13,159.06 650.57,159.50 651.01,159.95 651.45,160.41 651.89,160.87 652.33,161.33 652.77,161.80 653.21,162.28 653.65,162.76 654.09,163.24 654.53,163.73 654.97,164.22 655.41,164.71 655.85,165.20 656.29,165.70 656.73,166.19 657.17,166.69 657.61,167.19 658.05,167.69 658.49,168.19 658.93,168.69 659.37,169.19 659.81,169.69 660.25,170.19 660.69,170.68 661.13,171.18 661.57,171.67 662.01,172.15 662.45,172.64 662.89,173.12 663.33,173.60 663.77,174.07 664.21,174.54 664.65,175.00 665.09,175.46 665.53,175.92 665.97,176.36 666.41,176.80 666.85,177.24 667.29,177.67 667.73,178.09 668.17,178.50 668.61,178.91 669.04,179.30 669.48,179.69 669.92,180.07 670.36,180.44 670.80,180.81 671.24,181.16 671.68,181.50 672.12,181.84 672.56,182.16 673.00,182.47 673.44,182.78 673.88,183.07 674.32,183.35 674.76,183.62 675.20,183.87 675.64,184.12 676.08,184.35 676.52,184.58 676.96,184.79 677.40,184.98 677.84,185.17 678.28,185.34 678.72,185.50 679.16,185.65 679.60,185.78 680.04,185.91 680.48,186.01 680.92,186.11 681.36,186.19 681.80,186.26 682.24,186.31 682.68,186.35 683.12,186.38 683.56,186.40 684.00,186.40"/>
<polyline fill="none" stroke="#3d44b2" stroke-width="1.75" stroke-linejoin="round" points="376.10,149.28 376.54,149.28 376.98,149.30 377.42,149.34 377.86,149.38 378.30,149.44 378.74,149.52 379.18,149.60 379.62,149.70 380.06,149.82 380.50,149.94 380.94,150.08 381.38,150.24 381.82,150.40 382.26,150.58 382.70,150.77 383.14,150.97 383.58,151.19 384.02,151.42 384.46,151.65 384.90,151.91 385.34,152.17 385.78,152.44 386.22,152.73 386.66,153.02 387.10,153.33 387.54,153.65 387.98,153.97 388.42,154.31 388.86,154.66 389.30,155.02 389.74,155.38 390.18,155.76 390.62,156.14 391.06,156.53 391.50,156.94 391.93,157.34 392.37,157.76 392.81,158.18 393.25,158.61 393.69,159.05 394.13,159.50 394.57,159.95 395.01,160.40 395.45,160.86 395.89,161.33 396.33,161.80 396.77,162.27 397.21,162.75 397.65,163.24 398.09,163.72 398.53,164.21 398.97,164.70 399.41,165.20 399.85,165.69 400.29,166.19 400.73,166.69 401.17,167.19 401.61,167.69 402.05,168.19 402.49,168.69 402.93,169.19 403.37,169.69 403.81,170.18 404.25,170.68 404.69,171.17 405.13,171.66 405.57,172.15 406.01,172.63 406.45,173.12 406.89,173.59 407.33,174.07 407.77,174.54 408.21,175.00 408.65,175.46 409.09,175.91 409.53,176.36 409.97,176.80 410.41,177.23 410.85,177.66 411.29,178.08 411.73,178.50 412.17,178.90 412.61,179.30 413.05,179.69 413.49,180.07 413.93,180.44 414.37,180.80 414.81,181.16 415.25,181.50 415.69,181.83 416.13,182.16 416.57,182.47 417.01,182.77 417.45,183.06 417.89,183.34 418.33,183.61 418.77,183.87 419.21,184.12 419.65,184.35 420.09,184.57 420.53,184.78 420.97,184.98 421.41,185.17 421.85,185.34 422.29,185.50 422.72,185.65 423.16,185.78 423.60,185.90 424.04,186.01 424.48,186.11 424.92,186.19 425.36,186.26 425.80,186.31 426.24,186.35 426.68,186.38 427.12,186.40 427.56,186.40 428.00,186.39 428.44,186.36 428.88,186.32 429.32,186.27 429.76,186.20 430.20,186.12 430.64,186.03 431.08,185.93 431.52,185.81 431.96,185.68 432.40,185.53 432.84,185.37 433.28,185.20 433.72,185.02 434.16,184.82 434.60,184.62 435.04,184.40 435.48,184.16 435.92,183.92 436.36,183.67 436.80,183.40 437.24,183.12 437.68,182.83 438.12,182.53 438.56,182.22 439.00,181.90 439.44,181.57 439.88,181.22 440.32,180.87 440.76,180.51 441.20,180.14 441.64,179.76 442.08,179.38 442.52,178.98 442.96,178.58 443.40,178.16 443.84,177.75 444.28,177.32 444.72,176.89 445.16,176.45 445.60,176.00 446.04,175.55 446.48,175.09 446.92,174.63 447.36,174.16 447.80,173.69 448.24,173.21 448.68,172.73 449.12,172.24 449.56,171.76 450.00,171.27 450.44,170.77 450.88,170.28 451.32,169.78 451.76,169.29 452.20,168.79 452.64,168.29 453.08,167.79 453.51,167.29 453.95,166.79 454.39,166.29 454.83,165.79 455.27,165.29 455.71,164.80 456.15,164.31 456.59,163.82 457.03,163.33 457.47,162.85 457.91,162.37 458.35,161.89 458.79,161.42 459.23,160.95 459.67,160.49 460.11,160.03 460.55,159.58 460.99,159.14 461.43,158.70 461.87,158.27 462.31,157.84 462.75,157.42 463.19,157.01 463.63,156.61 464.07,156.22 464.51,155.83 464.95,155.46 465.39,155.09 465.83,154.73 466.27,154.38 466.71,154.04 467.15,153.71 467.59,153.39 468.03,153.08 468.47,152.78 468.91,152.50 469.35,152.22 469.79,151.96 470.23,151.70 470.67,151.46 471.11,151.23 471.55,151.01 471.99,150.81 472.43,150.62 472.87,150.44 473.31,150.27 473.75,150.11 474.19,149.97 474.63,149.84 475.07,149.73 475.51,149.62 475.95,149.53 476.39,149.46 476.83,149.39 477.27,149.34 477.71,149.31 478.15,149.28 478.59,149.28 479.03,149.28 479.47,149.30 479.91,149.33 480.35,149.37 480.79,149.43 481.23,149.50 481.67,149.59 482.11,149.68 482.55,149.79 482.99,149.92 483.43,150.06 483.87,150.21 484.30,150.37 484.74,150.54 485.18,150.73 485.62,150.93 486.06,151.15 486.50,151.37 486.94,151.61 487.38,151.86 487.82,152.12 488.26,152.39 488.70,152.67 489.14,152.96 489.58,153.27 490.02,153.58 490.46,153.91 490.90,154.24 491.34,154.59 491.78,154.95 492.22,155.31 492.66,155.68 493.10,156.07 493.54,156.46 493.98,156.86 494.42,157.26 494.86,157.68 495.30,158.10 495.74,158.53 496.18,158.97 496.62,159.41 497.06,159.86 497.50,160.31 497.94,160.77 498.38,161.24 498.82,161.71 499.26,162.18 499.70,162.66 500.14,163.14 500.58,163.63 501.02,164.11 501.46,164.61 501.90,165.10 502.34,165.59 502.78,166.09 503.22,166.59 503.66,167.09 504.10,167.59 504.54,168.09 504.98,168.59 505.42,169.09 505.86,169.59 506.30,170.09 506.74,170.58 507.18,171.07 507.62,171.57 508.06,172.05 508.50,172.54 508.94,173.02 509.38,173.50 509.82,173.97 510.26,174.44 510.70,174.91 511.14,175.37 511.58,175.82 512.02,176.27 512.46,176.71 512.90,177.15 513.34,177.58 513.78,178.00 514.22,178.42 514.65,178.82 515.09,179.22 515.53,179.61 515.97,180.00 516.41,180.37 516.85,180.73 517.29,181.09 517.73,181.43 518.17,181.77 518.61,182.09 519.05,182.41 519.49,182.71 519.93,183.01 520.37,183.29 520.81,183.56 521.25,183.82 521.69,184.07 522.13,184.31 522.57,184.53 523.01,184.74 523.45,184.94 523.89,185.13 524.33,185.31 524.77,185.47 525.21,185.62 525.65,185.76 526.09,185.88 526.53,185.99 526.97,186.09 527.41,186.17 527.85,186.25 528.29,186.30 528.73,186.35 529.17,186.38 529.61,186.40 530.05,186.40 530.49,186.39 530.93,186.37 531.37,186.33 531.81,186.28 532.25,186.22 532.69,186.14 533.13,186.05 533.57,185.95 534.01,185.83 534.45,185.70 534.89,185.56 535.33,185.41 535.77,185.24 536.21,185.06 536.65,184.86 537.09,184.66 537.53,184.44 537.97,184.21 538.41,183.97 538.85,183.72 539.29,183.45 539.73,183.18 540.17,182.89 540.61,182.59 541.05,182.28 541.49,181.96 541.93,181.63 542.37,181.29 542.81,180.94 543.25,180.58 543.69,180.22 544.13,179.84 544.57,179.45 545.01,179.06 545.44,178.66 545.88,178.25 546.32,177.83 546.76,177.40 547.20,176.97 547.64,176.53 548.08,176.09 548.52,175.64 548.96,175.18 549.40,174.72 549.84,174.25 550.28,173.78 550.72,173.30 551.16,172.82 551.60,172.34 552.04,171.85 552.48,171.36 552.92,170.87 553.36,170.38 553.80,169.88 554.24,169.38 554.68,168.88 555.12,168.38 555.56,167.88 556.00,167.38 556.44,166.88 556.88,166.39 557.32,165.89 557.76,165.39 558.20,164.90 558.64,164.40 559.08,163.91 559.52,163.43 559.96,162.94 560.40,162.46 560.84,161.98 561.28,161.51 561.72,161.04 562.16,160.58 562.60,160.12 563.04,159.67 563.48,159.23 563.92,158.79 564.36,158.35 564.80,157.93 565.24,157.51 565.68,157.09 566.12,156.69 566.56,156.29 567.00,155.91 567.44,155.53 567.88,155.16 568.32,154.80 568.76,154.45 569.20,154.11 569.64,153.77 570.08,153.45 570.52,153.14 570.96,152.84 571.40,152.55 571.84,152.27 572.28,152.01 572.72,151.75 573.16,151.51 573.60,151.28 574.04,151.06 574.48,150.85 574.92,150.65 575.36,150.47 575.80,150.30 576.24,150.14 576.67,150.00 577.11,149.87 577.55,149.75 577.99,149.64 578.43,149.55 578.87,149.47 579.31,149.40 579.75,149.35 580.19,149.31 580.63,149.29 581.07,149.28 581.51,149.28 581.95,149.29 582.39,149.32 582.83,149.36 583.27,149.42 583.71,149.49 584.15,149.57 584.59,149.66 585.03,149.77 585.47,149.89 585.91,150.03 586.35,150.18 586.79,150.34 587.23,150.51 587.67,150.69 588.11,150.89 588.55,151.10 588.99,151.33 589.43,151.56 589.87,151.81 590.31,152.06 590.75,152.33 591.19,152.61 591.63,152.91 592.07,153.21 592.51,153.52 592.95,153.84 593.39,154.18 593.83,154.52 594.27,154.87 594.71,155.24 595.15,155.61 595.59,155.99 596.03,156.38 596.47,156.78 596.91,157.18 597.35,157.60 597.79,158.02 598.23,158.44 598.67,158.88 599.11,159.32 599.55,159.77 599.99,160.22 600.43,160.68 600.87,161.14 601.31,161.61 601.75,162.09 602.19,162.56 602.63,163.05 603.07,163.53 603.51,164.02 603.95,164.51 604.39,165.00 604.83,165.50 605.27,165.99 605.71,166.49 606.15,166.99 606.59,167.49 607.03,167.99 607.46,168.49 607.90,168.99 608.34,169.49 608.78,169.99 609.22,170.48 609.66,170.98 610.10,171.47 610.54,171.96 610.98,172.44 611.42,172.93 611.86,173.41 612.30,173.88 612.74,174.35 613.18,174.82 613.62,175.28 614.06,175.73 614.50,176.18 614.94,176.63 615.38,177.06 615.82,177.50 616.26,177.92 616.70,178.34 617.14,178.74 617.58,179.14 618.02,179.54 618.46,179.92 618.90,180.30 619.34,180.66 619.78,181.02 620.22,181.37 620.66,181.70 621.10,182.03 621.54,182.35 621.98,182.66 622.42,182.95 622.86,183.24 623.30,183.51 623.74,183.77 624.18,184.02 624.62,184.26 625.06,184.49 625.50,184.70 625.94,184.91 626.38,185.10 626.82,185.27 627.26,185.44 627.70,185.59 628.14,185.73 628.58,185.86 629.02,185.97 629.46,186.07 629.90,186.16 630.34,186.23 630.78,186.29 631.22,186.34 631.66,186.37 632.10,186.39 632.54,186.40 632.98,186.39 633.42,186.37 633.86,186.34 634.30,186.29 634.74,186.23 635.18,186.16 635.62,186.07 636.06,185.97 636.50,185.86 636.94,185.73 637.38,185.59 637.82,185.44 638.25,185.27 638.69,185.09 639.13,184.90 639.57,184.70 640.01,184.48 640.45,184.26 640.89,184.02 641.33,183.77 641.77,183.50 642.21,183.23 642.65,182.95 643.09,182.65 643.53,182.34 643.97,182.03 644.41,181.70 644.85,181.36 645.29,181.01 645.73,180.66 646.17,180.29 646.61,179.91 647.05,179.53 647.49,179.14 647.93,178.74 648.37,178.33 648.81,177.91 649.25,177.49 649.69,177.06 650.13,176.62 650.57,176.18 651.01,175.73 651.45,175.27 651.89,174.81 652.33,174.34 652.77,173.87 653.21,173.40 653.65,172.92 654.09,172.44 654.53,171.95 654.97,171.46 655.41,170.97 655.85,170.47 656.29,169.98 656.73,169.48 657.17,168.98 657.61,168.48 658.05,167.98 658.49,167.48 658.93,166.98 659.37,166.48 659.81,165.98 660.25,165.49 660.69,164.99 661.13,164.50 661.57,164.01 662.01,163.52 662.45,163.04 662.89,162.55 663.33,162.08 663.77,161.60 664.21,161.14 664.65,160.67 665.09,160.21 665.53,159.76 665.97,159.31 666.41,158.87 666.85,158.44 667.29,158.01 667.73,157.59 668.17,157.17 668.61,156.77 669.04,156.37 669.48,155.98 669.92,155.60 670.36,155.23 670.80,154.87 671.24,154.51 671.68,154.17 672.12,153.84 672.56,153.51 673.00,153.20 673.44,152.90 673.88,152.61 674.32,152.33 674.76,152.06 675.20,151.80 675.64,151.55 676.08,151.32 676.52,151.10 676.96,150.89 677.40,150.69 677.84,150.51 678.28,150.33 678.72,150.17 679.16,150.03 679.60,149.89 680.04,149.77 680.48,149.66 680.92,149.57 681.36,149.49 681.80,149.42 682.24,149.36 682.68,149.32 683.12,149.29 683.56,149.28 684.00,149.28"/>
</g>
<g clip-path="url(#cd)">
<polyline fill="none" stroke="#dc2d1c" stroke-width="1.75" stroke-linejoin="round" points="376.10,380.60 376.54,380.58 376.98,380.52 377.42,380.42 377.86,380.28 378.30,380.10 378.74,379.88 379.18,379.62 379.62,379.32 380.06,378.98 380.50,378.60 380.94,378.18 381.38,377.73 381.82,377.23 382.26,376.70 382.70,376.13 383.14,375.53 383.58,374.88 384.02,374.20 384.46,373.49 384.90,372.74 385.34,371.96 385.78,371.14 386.22,370.29 386.66,369.40 387.10,368.49 387.54,367.54 387.98,366.56 388.42,365.55 388.86,364.51 389.30,363.45 389.74,362.35 390.18,361.23 390.62,360.08 391.06,358.91 391.50,357.71 391.93,356.49 392.37,355.25 392.81,353.98 393.25,352.69 393.69,351.39 394.13,350.06 394.57,348.72 395.01,347.36 395.45,345.98 395.89,344.59 396.33,343.18 396.77,341.76 397.21,340.33 397.65,338.89 398.09,337.43 398.53,335.97 398.97,334.50 399.41,333.03 399.85,331.55 400.29,330.06 400.73,328.57 401.17,327.08 401.61,325.58 402.05,324.09 402.49,322.59 402.93,321.10 403.37,319.61 403.81,318.13 404.25,316.65 404.69,315.18 405.13,313.71 405.57,312.25 406.01,310.80 406.45,309.36 406.89,307.94 407.33,306.52 407.77,305.12 408.21,303.74 408.65,302.36 409.09,301.01 409.53,299.67 409.97,298.36 410.41,297.06 410.85,295.78 411.29,294.52 411.73,293.29 412.17,292.07 412.61,290.89 413.05,289.72 413.49,288.59 413.93,287.48 414.37,286.39 414.81,285.34 415.25,284.31 415.69,283.31 416.13,282.35 416.57,281.41 417.01,280.51 417.45,279.64 417.89,278.80 418.33,278.00 418.77,277.23 419.21,276.49 419.65,275.79 420.09,275.13 420.53,274.50 420.97,273.91 421.41,273.35 421.85,272.84 422.29,272.36 422.72,271.92 423.16,271.51 423.60,271.15 424.04,270.83 424.48,270.54 424.92,270.30 425.36,270.10 425.80,269.93 426.24,269.81 426.68,269.72 427.12,269.68 427.56,269.67 428.00,269.71 428.44,269.79 428.88,269.90 429.32,270.06 429.76,270.26 430.20,270.49 430.64,270.77 431.08,271.09 431.52,271.44 431.96,271.83 432.40,272.27 432.84,272.74 433.28,273.25 433.72,273.79 434.16,274.38 434.60,275.00 435.04,275.66 435.48,276.35 435.92,277.08 436.36,277.84 436.80,278.64 437.24,279.47 437.68,280.34 438.12,281.23 438.56,282.16 439.00,283.12 439.44,284.11 439.88,285.13 440.32,286.18 440.76,287.26 441.20,288.37 441.64,289.50 442.08,290.66 442.52,291.84 442.96,293.05 443.40,294.28 443.84,295.53 444.28,296.80 444.72,298.10 445.16,299.41 445.60,300.75 446.04,302.10 446.48,303.47 446.92,304.85 447.36,306.25 447.80,307.66 448.24,309.08 448.68,310.52 449.12,311.97 449.56,313.42 450.00,314.89 450.44,316.36 450.88,317.84 451.32,319.32 451.76,320.81 452.20,322.30 452.64,323.79 453.08,325.29 453.51,326.78 453.95,328.28 454.39,329.77 454.83,331.25 455.27,332.74 455.71,334.21 456.15,335.69 456.59,337.15 457.03,338.60 457.47,340.05 457.91,341.48 458.35,342.90 458.79,344.31 459.23,345.71 459.67,347.09 460.11,348.45 460.55,349.80 460.99,351.13 461.43,352.44 461.87,353.73 462.31,355.00 462.75,356.25 463.19,357.47 463.63,358.68 464.07,359.85 464.51,361.01 464.95,362.13 465.39,363.23 465.83,364.31 466.27,365.35 466.71,366.36 467.15,367.35 467.59,368.30 468.03,369.22 468.47,370.12 468.91,370.97 469.35,371.80 469.79,372.59 470.23,373.35 470.67,374.07 471.11,374.75 471.55,375.40 471.99,376.02 472.43,376.59 472.87,377.13 473.31,377.63 473.75,378.10 474.19,378.52 474.63,378.91 475.07,379.25 475.51,379.56 475.95,379.83 476.39,380.06 476.83,380.25 477.27,380.39 477.71,380.50 478.15,380.57 478.59,380.60 479.03,380.59 479.47,380.53 479.91,380.44 480.35,380.31 480.79,380.14 481.23,379.92 481.67,379.67 482.11,379.38 482.55,379.05 482.99,378.68 483.43,378.27 483.87,377.82 484.30,377.33 484.74,376.81 485.18,376.25 485.62,375.65 486.06,375.01 486.50,374.34 486.94,373.63 487.38,372.89 487.82,372.11 488.26,371.30 488.70,370.46 489.14,369.58 489.58,368.67 490.02,367.73 490.46,366.75 490.90,365.75 491.34,364.72 491.78,363.66 492.22,362.57 492.66,361.45 493.10,360.31 493.54,359.14 493.98,357.95 494.42,356.73 494.86,355.49 495.30,354.23 495.74,352.95 496.18,351.65 496.62,350.32 497.06,348.98 497.50,347.62 497.94,346.25 498.38,344.86 498.82,343.46 499.26,342.04 499.70,340.61 500.14,339.17 500.58,337.72 501.02,336.26 501.46,334.79 501.90,333.32 502.34,331.84 502.78,330.35 503.22,328.86 503.66,327.37 504.10,325.88 504.54,324.38 504.98,322.89 505.42,321.39 505.86,319.91 506.30,318.42 506.74,316.94 507.18,315.46 507.62,314.00 508.06,312.54 508.50,311.09 508.94,309.65 509.38,308.22 509.82,306.80 510.26,305.40 510.70,304.01 511.14,302.63 511.58,301.27 512.02,299.93 512.46,298.61 512.90,297.31 513.34,296.03 513.78,294.77 514.22,293.53 514.65,292.31 515.09,291.12 515.53,289.95 515.97,288.81 516.41,287.69 516.85,286.60 517.29,285.54 517.73,284.51 518.17,283.51 518.61,282.54 519.05,281.59 519.49,280.68 519.93,279.81 520.37,278.96 520.81,278.15 521.25,277.37 521.69,276.63 522.13,275.92 522.57,275.25 523.01,274.62 523.45,274.02 523.89,273.46 524.33,272.93 524.77,272.45 525.21,272.00 525.65,271.59 526.09,271.22 526.53,270.89 526.97,270.60 527.41,270.35 527.85,270.13 528.29,269.96 528.73,269.83 529.17,269.74 529.61,269.68 530.05,269.67 530.49,269.70 530.93,269.77 531.37,269.88 531.81,270.03 532.25,270.22 532.69,270.44 533.13,270.71 533.57,271.02 534.01,271.37 534.45,271.75 534.89,272.18 535.33,272.64 535.77,273.14 536.21,273.68 536.65,274.26 537.09,274.87 537.53,275.52 537.97,276.21 538.41,276.93 538.85,277.69 539.29,278.48 539.73,279.31 540.17,280.16 540.61,281.05 541.05,281.98 541.49,282.93 541.93,283.92 542.37,284.93 542.81,285.98 543.25,287.05 543.69,288.15 544.13,289.27 544.57,290.43 545.01,291.61 545.44,292.81 545.88,294.03 546.32,295.28 546.76,296.55 547.20,297.84 547.64,299.15 548.08,300.48 548.52,301.83 548.96,303.20 549.40,304.58 549.84,305.97 550.28,307.38 550.72,308.80 551.16,310.24 551.60,311.68 552.04,313.14 552.48,314.60 552.92,316.07 553.36,317.55 553.80,319.03 554.24,320.52 554.68,322.01 555.12,323.50 555.56,325.00 556.00,326.49 556.44,327.98 556.88,329.47 557.32,330.96 557.76,332.45 558.20,333.93 558.64,335.40 559.08,336.86 559.52,338.32 559.96,339.76 560.40,341.20 560.84,342.63 561.28,344.04 561.72,345.43 562.16,346.82 562.60,348.19 563.04,349.54 563.48,350.87 563.92,352.18 564.36,353.48 564.80,354.75 565.24,356.01 565.68,357.24 566.12,358.44 566.56,359.63 567.00,360.78 567.44,361.91 567.88,363.02 568.32,364.10 568.76,365.15 569.20,366.17 569.64,367.16 570.08,368.12 570.52,369.05 570.96,369.94 571.40,370.81 571.84,371.64 572.28,372.44 572.72,373.20 573.16,373.93 573.60,374.62 574.04,375.28 574.48,375.90 574.92,376.48 575.36,377.03 575.80,377.54 576.24,378.01 576.67,378.44 577.11,378.83 577.55,379.19 577.99,379.50 578.43,379.78 578.87,380.02 579.31,380.21 579.75,380.37 580.19,380.48 580.63,380.56 581.07,380.60 581.51,380.59 581.95,380.55 582.39,380.46 582.83,380.34 583.27,380.17 583.71,379.97 584.15,379.72 584.59,379.44 585.03,379.11 585.47,378.75 585.91,378.35 586.35,377.91 586.79,377.43 587.23,376.91 587.67,376.36 588.11,375.77 588.55,375.14 588.99,374.47 589.43,373.77 589.87,373.04 590.31,372.27 590.75,371.46 591.19,370.62 591.63,369.75 592.07,368.85 592.51,367.91 592.95,366.95 593.39,365.95 593.83,364.92 594.27,363.87 594.71,362.78 595.15,361.67 595.59,360.54 596.03,359.37 596.47,358.18 596.91,356.97 597.35,355.74 597.79,354.48 598.23,353.20 598.67,351.90 599.11,350.58 599.55,349.25 599.99,347.89 600.43,346.52 600.87,345.14 601.31,343.73 601.75,342.32 602.19,340.89 602.63,339.45 603.07,338.01 603.51,336.55 603.95,335.08 604.39,333.61 604.83,332.13 605.27,330.64 605.71,329.15 606.15,327.66 606.59,326.17 607.03,324.67 607.46,323.18 607.90,321.69 608.34,320.20 608.78,318.71 609.22,317.23 609.66,315.75 610.10,314.28 610.54,312.82 610.98,311.37 611.42,309.93 611.86,308.50 612.30,307.08 612.74,305.67 613.18,304.28 613.62,302.90 614.06,301.54 614.50,300.20 614.94,298.87 615.38,297.56 615.82,296.28 616.26,295.01 616.70,293.77 617.14,292.55 617.58,291.35 618.02,290.18 618.46,289.03 618.90,287.91 619.34,286.81 619.78,285.75 620.22,284.71 620.66,283.70 621.10,282.72 621.54,281.78 621.98,280.86 622.42,279.98 622.86,279.12 623.30,278.31 623.74,277.52 624.18,276.77 624.62,276.06 625.06,275.38 625.50,274.74 625.94,274.13 626.38,273.56 626.82,273.03 627.26,272.54 627.70,272.08 628.14,271.67 628.58,271.29 629.02,270.95 629.46,270.65 629.90,270.39 630.34,270.17 630.78,269.99 631.22,269.85 631.66,269.75 632.10,269.69 632.54,269.67 632.98,269.69 633.42,269.75 633.86,269.85 634.30,269.99 634.74,270.17 635.18,270.40 635.62,270.66 636.06,270.96 636.50,271.30 636.94,271.68 637.38,272.09 637.82,272.55 638.25,273.04 638.69,273.58 639.13,274.14 639.57,274.75 640.01,275.39 640.45,276.07 640.89,276.79 641.33,277.54 641.77,278.32 642.21,279.14 642.65,279.99 643.09,280.88 643.53,281.79 643.97,282.74 644.41,283.72 644.85,284.73 645.29,285.77 645.73,286.84 646.17,287.93 646.61,289.05 647.05,290.20 647.49,291.37 647.93,292.57 648.37,293.79 648.81,295.04 649.25,296.30 649.69,297.59 650.13,298.90 650.57,300.22 651.01,301.57 651.45,302.93 651.89,304.30 652.33,305.70 652.77,307.10 653.21,308.52 653.65,309.95 654.09,311.40 654.53,312.85 654.97,314.31 655.41,315.78 655.85,317.26 656.29,318.74 656.73,320.23 657.17,321.72 657.61,323.21 658.05,324.70 658.49,326.20 658.93,327.69 659.37,329.18 659.81,330.67 660.25,332.16 660.69,333.64 661.13,335.11 661.57,336.58 662.01,338.03 662.45,339.48 662.89,340.92 663.33,342.35 663.77,343.76 664.21,345.16 664.65,346.55 665.09,347.92 665.53,349.27 665.97,350.61 666.41,351.93 666.85,353.23 667.29,354.50 667.73,355.76 668.17,357.00 668.61,358.21 669.04,359.39 669.48,360.56 669.92,361.69 670.36,362.81 670.80,363.89 671.24,364.94 671.68,365.97 672.12,366.97 672.56,367.93 673.00,368.87 673.44,369.77 673.88,370.64 674.32,371.48 674.76,372.28 675.20,373.05 675.64,373.79 676.08,374.49 676.52,375.15 676.96,375.78 677.40,376.37 677.84,376.92 678.28,377.44 678.72,377.92 679.16,378.36 679.60,378.76 680.04,379.12 680.48,379.44 680.92,379.73 681.36,379.97 681.80,380.18 682.24,380.34 682.68,380.47 683.12,380.55 683.56,380.59 684.00,380.60"/>
<polyline fill="none" stroke="#3d44b2" stroke-width="1.75" stroke-linejoin="round" points="376.10,269.67 376.54,269.69 376.98,269.75 377.42,269.85 377.86,269.99 378.30,270.17 378.74,270.39 379.18,270.65 379.62,270.95 380.06,271.29 380.50,271.67 380.94,272.09 381.38,272.54 381.82,273.04 382.26,273.57 382.70,274.14 383.14,274.75 383.58,275.39 384.02,276.07 384.46,276.78 384.90,277.53 385.34,278.31 385.78,279.13 386.22,279.98 386.66,280.87 387.10,281.78 387.54,282.73 387.98,283.71 388.42,284.72 388.86,285.76 389.30,286.82 389.74,287.92 390.18,289.04 390.62,290.19 391.06,291.36 391.50,292.56 391.93,293.78 392.37,295.02 392.81,296.29 393.25,297.58 393.69,298.88 394.13,300.21 394.57,301.55 395.01,302.91 395.45,304.29 395.89,305.68 396.33,307.09 396.77,308.51 397.21,309.94 397.65,311.38 398.09,312.84 398.53,314.30 398.97,315.77 399.41,317.24 399.85,318.72 400.29,320.21 400.73,321.70 401.17,323.19 401.61,324.69 402.05,326.18 402.49,327.68 402.93,329.17 403.37,330.66 403.81,332.14 404.25,333.62 404.69,335.10 405.13,336.56 405.57,338.02 406.01,339.47 406.45,340.91 406.89,342.33 407.33,343.75 407.77,345.15 408.21,346.53 408.65,347.91 409.09,349.26 409.53,350.60 409.97,351.91 410.41,353.21 410.85,354.49 411.29,355.75 411.73,356.98 412.17,358.20 412.61,359.38 413.05,360.55 413.49,361.68 413.93,362.79 414.37,363.88 414.81,364.93 415.25,365.96 415.69,366.96 416.13,367.92 416.57,368.86 417.01,369.76 417.45,370.63 417.89,371.47 418.33,372.28 418.77,373.05 419.21,373.78 419.65,374.48 420.09,375.15 420.53,375.77 420.97,376.36 421.41,376.92 421.85,377.44 422.29,377.91 422.72,378.35 423.16,378.76 423.60,379.12 424.04,379.44 424.48,379.73 424.92,379.97 425.36,380.17 425.80,380.34 426.24,380.46 426.68,380.55 427.12,380.59 427.56,380.60 428.00,380.56 428.44,380.48 428.88,380.37 429.32,380.21 429.76,380.01 430.20,379.78 430.64,379.50 431.08,379.18 431.52,378.83 431.96,378.44 432.40,378.00 432.84,377.53 433.28,377.02 433.72,376.48 434.16,375.89 434.60,375.27 435.04,374.61 435.48,373.92 435.92,373.19 436.36,372.43 436.80,371.63 437.24,370.80 437.68,369.93 438.12,369.04 438.56,368.11 439.00,367.15 439.44,366.16 439.88,365.14 440.32,364.09 440.76,363.01 441.20,361.90 441.64,360.77 442.08,359.61 442.52,358.43 442.96,357.22 443.40,355.99 443.84,354.74 444.28,353.47 444.72,352.17 445.16,350.86 445.60,349.52 446.04,348.17 446.48,346.80 446.92,345.42 447.36,344.02 447.80,342.61 448.24,341.19 448.68,339.75 449.12,338.30 449.56,336.85 450.00,335.38 450.44,333.91 450.88,332.43 451.32,330.95 451.76,329.46 452.20,327.97 452.64,326.48 453.08,324.98 453.51,323.49 453.95,321.99 454.39,320.50 454.83,319.02 455.27,317.53 455.71,316.06 456.15,314.59 456.59,313.12 457.03,311.67 457.47,310.22 457.91,308.79 458.35,307.37 458.79,305.96 459.23,304.56 459.67,303.18 460.11,301.82 460.55,300.47 460.99,299.14 461.43,297.83 461.87,296.54 462.31,295.27 462.75,294.02 463.19,292.80 463.63,291.59 464.07,290.42 464.51,289.26 464.95,288.14 465.39,287.04 465.83,285.97 466.27,284.92 466.71,283.91 467.15,282.92 467.59,281.97 468.03,281.05 468.47,280.16 468.91,279.30 469.35,278.47 469.79,277.68 470.23,276.93 470.67,276.20 471.11,275.52 471.55,274.87 471.99,274.26 472.43,273.68 472.87,273.14 473.31,272.64 473.75,272.18 474.19,271.75 474.63,271.36 475.07,271.02 475.51,270.71 475.95,270.44 476.39,270.21 476.83,270.02 477.27,269.88 477.71,269.77 478.15,269.70 478.59,269.67 479.03,269.68 479.47,269.74 479.91,269.83 480.35,269.96 480.79,270.13 481.23,270.35 481.67,270.60 482.11,270.89 482.55,271.22 482.99,271.59 483.43,272.00 483.87,272.45 484.30,272.94 484.74,273.46 485.18,274.02 485.62,274.62 486.06,275.26 486.50,275.93 486.94,276.64 487.38,277.38 487.82,278.16 488.26,278.97 488.70,279.81 489.14,280.69 489.58,281.60 490.02,282.54 490.46,283.52 490.90,284.52 491.34,285.55 491.78,286.61 492.22,287.70 492.66,288.82 493.10,289.96 493.54,291.13 493.98,292.32 494.42,293.54 494.86,294.78 495.30,296.04 495.74,297.32 496.18,298.63 496.62,299.95 497.06,301.29 497.50,302.65 497.94,304.02 498.38,305.41 498.82,306.81 499.26,308.23 499.70,309.66 500.14,311.10 500.58,312.55 501.02,314.01 501.46,315.48 501.90,316.95 502.34,318.43 502.78,319.92 503.22,321.41 503.66,322.90 504.10,324.40 504.54,325.89 504.98,327.38 505.42,328.88 505.86,330.37 506.30,331.85 506.74,333.33 507.18,334.81 507.62,336.27 508.06,337.73 508.50,339.18 508.94,340.63 509.38,342.05 509.82,343.47 510.26,344.87 510.70,346.26 511.14,347.64 511.58,349.00 512.02,350.34 512.46,351.66 512.90,352.96 513.34,354.24 513.78,355.50 514.22,356.74 514.65,357.96 515.09,359.15 515.53,360.32 515.97,361.46 516.41,362.58 516.85,363.67 517.29,364.73 517.73,365.76 518.17,366.76 518.61,367.74 519.05,368.68 519.49,369.59 519.93,370.46 520.37,371.31 520.81,372.12 521.25,372.90 521.69,373.64 522.13,374.35 522.57,375.02 523.01,375.65 523.45,376.25 523.89,376.81 524.33,377.34 524.77,377.82 525.21,378.27 525.65,378.68 526.09,379.05 526.53,379.38 526.97,379.67 527.41,379.93 527.85,380.14 528.29,380.31 528.73,380.44 529.17,380.54 529.61,380.59 530.05,380.60 530.49,380.57 530.93,380.50 531.37,380.39 531.81,380.24 532.25,380.06 532.69,379.83 533.13,379.56 533.57,379.25 534.01,378.90 534.45,378.52 534.89,378.09 535.33,377.63 535.77,377.13 536.21,376.59 536.65,376.01 537.09,375.40 537.53,374.75 537.97,374.06 538.41,373.34 538.85,372.58 539.29,371.79 539.73,370.97 540.17,370.11 540.61,369.22 541.05,368.29 541.49,367.34 541.93,366.35 542.37,365.34 542.81,364.30 543.25,363.22 543.69,362.12 544.13,361.00 544.57,359.84 545.01,358.66 545.44,357.46 545.88,356.24 546.32,354.99 546.76,353.72 547.20,352.43 547.64,351.12 548.08,349.79 548.52,348.44 548.96,347.07 549.40,345.69 549.84,344.30 550.28,342.89 550.72,341.47 551.16,340.03 551.60,338.59 552.04,337.13 552.48,335.67 552.92,334.20 553.36,332.72 553.80,331.24 554.24,329.75 554.68,328.26 555.12,326.77 555.56,325.27 556.00,323.78 556.44,322.29 556.88,320.80 557.32,319.31 557.76,317.82 558.20,316.35 558.64,314.87 559.08,313.41 559.52,311.95 559.96,310.51 560.40,309.07 560.84,307.65 561.28,306.23 561.72,304.84 562.16,303.45 562.60,302.08 563.04,300.73 563.48,299.40 563.92,298.09 564.36,296.79 564.80,295.52 565.24,294.27 565.68,293.04 566.12,291.83 566.56,290.65 567.00,289.49 567.44,288.36 567.88,287.25 568.32,286.17 568.76,285.12 569.20,284.10 569.64,283.11 570.08,282.15 570.52,281.22 570.96,280.33 571.40,279.46 571.84,278.63 572.28,277.83 572.72,277.07 573.16,276.34 573.60,275.65 574.04,274.99 574.48,274.37 574.92,273.79 575.36,273.24 575.80,272.73 576.24,272.26 576.67,271.83 577.11,271.44 577.55,271.08 577.99,270.77 578.43,270.49 578.87,270.25 579.31,270.06 579.75,269.90 580.19,269.79 580.63,269.71 581.07,269.67 581.51,269.68 581.95,269.72 582.39,269.81 582.83,269.93 583.27,270.10 583.71,270.30 584.15,270.55 584.59,270.83 585.03,271.16 585.47,271.52 585.91,271.92 586.35,272.36 586.79,272.84 587.23,273.36 587.67,273.91 588.11,274.50 588.55,275.13 588.99,275.80 589.43,276.50 589.87,277.23 590.31,278.00 590.75,278.81 591.19,279.65 591.63,280.52 592.07,281.42 592.51,282.36 592.95,283.32 593.39,284.32 593.83,285.35 594.27,286.40 594.71,287.49 595.15,288.60 595.59,289.73 596.03,290.90 596.47,292.09 596.91,293.30 597.35,294.53 597.79,295.79 598.23,297.07 598.67,298.37 599.11,299.69 599.55,301.02 599.99,302.38 600.43,303.75 600.87,305.14 601.31,306.54 601.75,307.95 602.19,309.38 602.63,310.82 603.07,312.26 603.51,313.72 603.95,315.19 604.39,316.66 604.83,318.14 605.27,319.63 605.71,321.12 606.15,322.61 606.59,324.10 607.03,325.60 607.46,327.09 607.90,328.58 608.34,330.07 608.78,331.56 609.22,333.04 609.66,334.52 610.10,335.99 610.54,337.45 610.98,338.90 611.42,340.34 611.86,341.77 612.30,343.19 612.74,344.60 613.18,345.99 613.62,347.37 614.06,348.73 614.50,350.07 614.94,351.40 615.38,352.71 615.82,353.99 616.26,355.26 616.70,356.50 617.14,357.72 617.58,358.92 618.02,360.09 618.46,361.24 618.90,362.36 619.34,363.46 619.78,364.52 620.22,365.56 620.66,366.57 621.10,367.55 621.54,368.49 621.98,369.41 622.42,370.29 622.86,371.15 623.30,371.96 623.74,372.75 624.18,373.50 624.62,374.21 625.06,374.89 625.50,375.53 625.94,376.14 626.38,376.71 626.82,377.24 627.26,377.73 627.70,378.19 628.14,378.60 628.58,378.98 629.02,379.32 629.46,379.62 629.90,379.88 630.34,380.10 630.78,380.28 631.22,380.42 631.66,380.52 632.10,380.58 632.54,380.60 632.98,380.58 633.42,380.52 633.86,380.42 634.30,380.28 634.74,380.10 635.18,379.87 635.62,379.61 636.06,379.31 636.50,378.97 636.94,378.60 637.38,378.18 637.82,377.72 638.25,377.23 638.69,376.70 639.13,376.13 639.57,375.52 640.01,374.88 640.45,374.20 640.89,373.48 641.33,372.73 641.77,371.95 642.21,371.13 642.65,370.28 643.09,369.39 643.53,368.48 643.97,367.53 644.41,366.55 644.85,365.54 645.29,364.50 645.73,363.44 646.17,362.34 646.61,361.22 647.05,360.07 647.49,358.90 647.93,357.70 648.37,356.48 648.81,355.23 649.25,353.97 649.69,352.68 650.13,351.37 650.57,350.05 651.01,348.70 651.45,347.34 651.89,345.97 652.33,344.57 652.77,343.17 653.21,341.75 653.65,340.32 654.09,338.87 654.53,337.42 654.97,335.96 655.41,334.49 655.85,333.01 656.29,331.53 656.73,330.04 657.17,328.55 657.61,327.06 658.05,325.57 658.49,324.07 658.93,322.58 659.37,321.09 659.81,319.60 660.25,318.11 660.69,316.63 661.13,315.16 661.57,313.70 662.01,312.24 662.45,310.79 662.89,309.35 663.33,307.92 663.77,306.51 664.21,305.11 664.65,303.72 665.09,302.35 665.53,301.00 665.97,299.66 666.41,298.34 666.85,297.04 667.29,295.77 667.73,294.51 668.17,293.27 668.61,292.06 669.04,290.88 669.48,289.71 669.92,288.58 670.36,287.47 670.80,286.38 671.24,285.33 671.68,284.30 672.12,283.30 672.56,282.34 673.00,281.40 673.44,280.50 673.88,279.63 674.32,278.79 674.76,277.99 675.20,277.22 675.64,276.48 676.08,275.78 676.52,275.12 676.96,274.49 677.40,273.90 677.84,273.35 678.28,272.83 678.72,272.35 679.16,271.91 679.60,271.51 680.04,271.15 680.48,270.83 680.92,270.54 681.36,270.30 681.80,270.09 682.24,269.93 682.68,269.81 683.12,269.72 683.56,269.68 684.00,269.67"/>
</g>
<rect x="347.5" y="6.2" width="16.5" height="19.2" fill="#fff" fill-opacity="0.82"/>
<rect x="347.5" y="200.3" width="16.5" height="19.2" fill="#fff" fill-opacity="0.82"/>
<line x1="70.00" y1="0.70" x2="70.00" y2="11.30" stroke="#000" stroke-width="1.8499999999999999" />
<line x1="70.00" y1="191.90" x2="70.00" y2="181.30" stroke="#000" stroke-width="1.8499999999999999" />
<line x1="119.50" y1="0.70" x2="119.50" y2="7.70" stroke="#000" stroke-width="1.7" />
<line x1="119.50" y1="191.90" x2="119.50" y2="184.90" stroke="#000" stroke-width="1.7" />
<line x1="169.00" y1="0.70" x2="169.00" y2="11.30" stroke="#000" stroke-width="1.8499999999999999" />
<line x1="169.00" y1="191.90" x2="169.00" y2="181.30" stroke="#000" stroke-width="1.8499999999999999" />
<line x1="218.50" y1="0.70" x2="218.50" y2="7.70" stroke="#000" stroke-width="1.7" />
<line x1="218.50" y1="191.90" x2="218.50" y2="184.90" stroke="#000" stroke-width="1.7" />
<line x1="268.00" y1="0.70" x2="268.00" y2="11.30" stroke="#000" stroke-width="1.8499999999999999" />
<line x1="268.00" y1="191.90" x2="268.00" y2="181.30" stroke="#000" stroke-width="1.8499999999999999" />
<line x1="317.50" y1="0.70" x2="317.50" y2="7.70" stroke="#000" stroke-width="1.7" />
<line x1="317.50" y1="191.90" x2="317.50" y2="184.90" stroke="#000" stroke-width="1.7" />
<line x1="367.00" y1="0.70" x2="367.00" y2="11.30" stroke="#000" stroke-width="1.8499999999999999" />
<line x1="367.00" y1="191.90" x2="367.00" y2="181.30" stroke="#000" stroke-width="1.8499999999999999" />
<line x1="61.00" y1="186.40" x2="65.90" y2="186.40" stroke="#000" stroke-width="1.7" />
<line x1="371.00" y1="186.40" x2="366.10" y2="186.40" stroke="#000" stroke-width="1.7" />
<line x1="61.00" y1="150.43" x2="64.40" y2="150.43" stroke="#000" stroke-width="1.7" />
<line x1="371.00" y1="150.43" x2="367.60" y2="150.43" stroke="#000" stroke-width="1.7" />
<line x1="61.00" y1="114.45" x2="65.90" y2="114.45" stroke="#000" stroke-width="1.7" />
<line x1="371.00" y1="114.45" x2="366.10" y2="114.45" stroke="#000" stroke-width="1.7" />
<line x1="61.00" y1="78.47" x2="64.40" y2="78.47" stroke="#000" stroke-width="1.7" />
<line x1="371.00" y1="78.47" x2="367.60" y2="78.47" stroke="#000" stroke-width="1.7" />
<line x1="61.00" y1="42.50" x2="65.90" y2="42.50" stroke="#000" stroke-width="1.7" />
<line x1="371.00" y1="42.50" x2="366.10" y2="42.50" stroke="#000" stroke-width="1.7" />
<line x1="61.00" y1="6.53" x2="64.40" y2="6.53" stroke="#000" stroke-width="1.7" />
<line x1="371.00" y1="6.53" x2="367.60" y2="6.53" stroke="#000" stroke-width="1.7" />
<line x1="70.00" y1="194.80" x2="70.00" y2="205.40" stroke="#000" stroke-width="1.8499999999999999" />
<line x1="70.00" y1="386.40" x2="70.00" y2="375.80" stroke="#000" stroke-width="1.8499999999999999" />
<line x1="119.50" y1="194.80" x2="119.50" y2="201.80" stroke="#000" stroke-width="1.7" />
<line x1="119.50" y1="386.40" x2="119.50" y2="379.40" stroke="#000" stroke-width="1.7" />
<line x1="169.00" y1="194.80" x2="169.00" y2="205.40" stroke="#000" stroke-width="1.8499999999999999" />
<line x1="169.00" y1="386.40" x2="169.00" y2="375.80" stroke="#000" stroke-width="1.8499999999999999" />
<line x1="218.50" y1="194.80" x2="218.50" y2="201.80" stroke="#000" stroke-width="1.7" />
<line x1="218.50" y1="386.40" x2="218.50" y2="379.40" stroke="#000" stroke-width="1.7" />
<line x1="268.00" y1="194.80" x2="268.00" y2="205.40" stroke="#000" stroke-width="1.8499999999999999" />
<line x1="268.00" y1="386.40" x2="268.00" y2="375.80" stroke="#000" stroke-width="1.8499999999999999" />
<line x1="317.50" y1="194.80" x2="317.50" y2="201.80" stroke="#000" stroke-width="1.7" />
<line x1="317.50" y1="386.40" x2="317.50" y2="379.40" stroke="#000" stroke-width="1.7" />
<line x1="367.00" y1="194.80" x2="367.00" y2="205.40" stroke="#000" stroke-width="1.8499999999999999" />
<line x1="367.00" y1="386.40" x2="367.00" y2="375.80" stroke="#000" stroke-width="1.8499999999999999" />
<line x1="61.00" y1="380.80" x2="65.90" y2="380.80" stroke="#000" stroke-width="1.7" />
<line x1="371.00" y1="380.80" x2="366.10" y2="380.80" stroke="#000" stroke-width="1.7" />
<line x1="61.00" y1="344.82" x2="64.40" y2="344.82" stroke="#000" stroke-width="1.7" />
<line x1="371.00" y1="344.82" x2="367.60" y2="344.82" stroke="#000" stroke-width="1.7" />
<line x1="61.00" y1="308.85" x2="65.90" y2="308.85" stroke="#000" stroke-width="1.7" />
<line x1="371.00" y1="308.85" x2="366.10" y2="308.85" stroke="#000" stroke-width="1.7" />
<line x1="61.00" y1="272.88" x2="64.40" y2="272.88" stroke="#000" stroke-width="1.7" />
<line x1="371.00" y1="272.88" x2="367.60" y2="272.88" stroke="#000" stroke-width="1.7" />
<line x1="61.00" y1="236.90" x2="65.90" y2="236.90" stroke="#000" stroke-width="1.7" />
<line x1="371.00" y1="236.90" x2="366.10" y2="236.90" stroke="#000" stroke-width="1.7" />
<line x1="61.00" y1="200.93" x2="64.40" y2="200.93" stroke="#000" stroke-width="1.7" />
<line x1="371.00" y1="200.93" x2="367.60" y2="200.93" stroke="#000" stroke-width="1.7" />
<line x1="441.40" y1="0.70" x2="441.40" y2="7.30" stroke="#000" stroke-width="1.7" />
<line x1="441.40" y1="186.40" x2="441.40" y2="179.80" stroke="#000" stroke-width="1.7" />
<line x1="506.70" y1="0.70" x2="506.70" y2="7.30" stroke="#000" stroke-width="1.7" />
<line x1="506.70" y1="186.40" x2="506.70" y2="179.80" stroke="#000" stroke-width="1.7" />
<line x1="572.00" y1="0.70" x2="572.00" y2="7.30" stroke="#000" stroke-width="1.7" />
<line x1="572.00" y1="186.40" x2="572.00" y2="179.80" stroke="#000" stroke-width="1.7" />
<line x1="637.30" y1="0.70" x2="637.30" y2="7.30" stroke="#000" stroke-width="1.7" />
<line x1="637.30" y1="186.40" x2="637.30" y2="179.80" stroke="#000" stroke-width="1.7" />
<line x1="376.10" y1="149.28" x2="380.40" y2="149.28" stroke="#000" stroke-width="1.7" />
<line x1="684.00" y1="149.28" x2="679.70" y2="149.28" stroke="#000" stroke-width="1.7" />
<line x1="376.10" y1="112.15" x2="380.40" y2="112.15" stroke="#000" stroke-width="1.7" />
<line x1="684.00" y1="112.15" x2="679.70" y2="112.15" stroke="#000" stroke-width="1.7" />
<line x1="376.10" y1="75.03" x2="380.40" y2="75.03" stroke="#000" stroke-width="1.7" />
<line x1="684.00" y1="75.03" x2="679.70" y2="75.03" stroke="#000" stroke-width="1.7" />
<line x1="376.10" y1="37.90" x2="380.40" y2="37.90" stroke="#000" stroke-width="1.7" />
<line x1="684.00" y1="37.90" x2="679.70" y2="37.90" stroke="#000" stroke-width="1.7" />
<line x1="441.40" y1="194.80" x2="441.40" y2="201.40" stroke="#000" stroke-width="1.7" />
<line x1="441.40" y1="380.60" x2="441.40" y2="374.00" stroke="#000" stroke-width="1.7" />
<line x1="506.70" y1="194.80" x2="506.70" y2="201.40" stroke="#000" stroke-width="1.7" />
<line x1="506.70" y1="380.60" x2="506.70" y2="374.00" stroke="#000" stroke-width="1.7" />
<line x1="572.00" y1="194.80" x2="572.00" y2="201.40" stroke="#000" stroke-width="1.7" />
<line x1="572.00" y1="380.60" x2="572.00" y2="374.00" stroke="#000" stroke-width="1.7" />
<line x1="637.30" y1="194.80" x2="637.30" y2="201.40" stroke="#000" stroke-width="1.7" />
<line x1="637.30" y1="380.60" x2="637.30" y2="374.00" stroke="#000" stroke-width="1.7" />
<line x1="376.10" y1="343.48" x2="380.40" y2="343.48" stroke="#000" stroke-width="1.7" />
<line x1="684.00" y1="343.48" x2="679.70" y2="343.48" stroke="#000" stroke-width="1.7" />
<line x1="376.10" y1="306.35" x2="380.40" y2="306.35" stroke="#000" stroke-width="1.7" />
<line x1="684.00" y1="306.35" x2="679.70" y2="306.35" stroke="#000" stroke-width="1.7" />
<line x1="376.10" y1="269.23" x2="380.40" y2="269.23" stroke="#000" stroke-width="1.7" />
<line x1="684.00" y1="269.23" x2="679.70" y2="269.23" stroke="#000" stroke-width="1.7" />
<line x1="376.10" y1="232.10" x2="380.40" y2="232.10" stroke="#000" stroke-width="1.7" />
<line x1="684.00" y1="232.10" x2="679.70" y2="232.10" stroke="#000" stroke-width="1.7" />
<rect x="61.0" y="0.7" width="310.0" height="191.20000000000002" fill="none" stroke="#000" stroke-width="1.8"/>
<rect x="376.1" y="0.7" width="307.9" height="185.70000000000002" fill="none" stroke="#000" stroke-width="1.8"/>
<rect x="61.0" y="194.8" width="310.0" height="191.59999999999997" fill="none" stroke="#000" stroke-width="1.8"/>
<rect x="376.1" y="194.8" width="307.9" height="185.8" fill="none" stroke="#000" stroke-width="1.8"/>
<text x="58.90" y="47.40" font-size="12.7" fill="#111" text-anchor="end" >1</text>
<text transform="translate(58.90,118.75) scale(1,1.12)" font-size="12.7" fill="#111" text-anchor="end" >0.5</text>
<text transform="translate(58.90,190.70) scale(1,1.12)" font-size="12.7" fill="#111" text-anchor="end" >0</text>
<text x="58.90" y="241.80" font-size="12.7" fill="#111" text-anchor="end" >1</text>
<text transform="translate(58.90,313.15) scale(1,1.12)" font-size="12.7" fill="#111" text-anchor="end" >0.5</text>
<text transform="translate(58.90,385.10) scale(1,1.12)" font-size="12.7" fill="#111" text-anchor="end" >0</text>
<text transform="translate(0,19.90) scale(1,1.08)" fill="#111"><tspan x="348.70" y="0.19" font-size="13.3" >(</tspan><tspan x="352.90" y="0.00" font-size="13.899999999999999" >a</tspan><tspan x="360.00" y="0.19" font-size="13.3" >)</tspan></text>
<text transform="translate(0,19.90) scale(1,1.08)" fill="#111"><tspan x="661.40" y="0.19" font-size="13.3" >(</tspan><tspan x="666.10" y="0.00" font-size="13.299999999999999" >b</tspan><tspan x="672.70" y="0.19" font-size="13.3" >)</tspan></text>
<text transform="translate(0,213.90) scale(1,1.08)" fill="#111"><tspan x="349.00" y="0.19" font-size="13.3" >(</tspan><tspan x="353.10" y="0.00" font-size="13.899999999999999" >c</tspan><tspan x="360.30" y="0.19" font-size="13.3" >)</tspan></text>
<text transform="translate(0,213.90) scale(1,1.08)" fill="#111"><tspan x="661.40" y="0.19" font-size="13.3" >(</tspan><tspan x="665.90" y="0.00" font-size="13.299999999999999" >d</tspan><tspan x="672.70" y="0.19" font-size="13.3" >)</tspan></text>
<text transform="translate(70.20,400.80) scale(1,1.12)" font-size="12.7" fill="#111" text-anchor="middle" >0</text>
<text transform="translate(0,400.80) scale(1,1.12)" fill="#111"><tspan x="160.20" y="0.00" font-size="12.7" >10</tspan><tspan x="173.60" y="-3.93" font-size="10.0" >5</tspan></text>
<text transform="translate(0,400.80) scale(1,1.12)" fill="#111"><tspan x="248.90" y="0.00" font-size="12.7" >2</tspan><tspan x="258.10" y="1.70" font-size="15.8" >×</tspan><tspan x="270.50" y="0.00" font-size="12.7" >10</tspan><tspan x="282.80" y="-3.93" font-size="10.0" >5</tspan></text>
<text transform="translate(383.50,400.80) scale(1,1.12)" font-size="12.7" fill="#111" text-anchor="middle" >0</text>
<text transform="translate(0,400.80) scale(1,1.12)" fill="#111"><tspan x="436.30" y="0.00" font-size="12.7" >10</tspan><tspan x="449.70" y="-3.93" font-size="10.0" >3</tspan></text>
<text transform="translate(0,400.80) scale(1,1.12)" fill="#111"><tspan x="487.80" y="0.00" font-size="12.7" >2</tspan><tspan x="497.00" y="1.70" font-size="15.8" >×</tspan><tspan x="509.40" y="0.00" font-size="12.7" >10</tspan><tspan x="521.70" y="-3.93" font-size="10.0" >3</tspan></text>
<text transform="translate(0,400.80) scale(1,1.12)" fill="#111"><tspan x="549.80" y="0.00" font-size="12.7" >3</tspan><tspan x="559.00" y="1.70" font-size="15.8" >×</tspan><tspan x="571.40" y="0.00" font-size="12.7" >10</tspan><tspan x="583.70" y="-3.93" font-size="10.0" >3</tspan></text>
<text transform="translate(0,400.80) scale(1,1.12)" fill="#111"><tspan x="611.00" y="0.00" font-size="12.7" >4</tspan><tspan x="620.20" y="1.70" font-size="15.8" >×</tspan><tspan x="632.60" y="0.00" font-size="12.7" >10</tspan><tspan x="644.90" y="-3.93" font-size="10.0" >3</tspan></text>
<text fill="#111"><tspan x="196.60" y="411.90" font-size="13.2" font-style="italic" >t</tspan><tspan x="206.20" y="411.60" font-size="13.2" >(</tspan><tspan x="210.20" y="411.90" font-size="13.2" font-style="italic" >ν</tspan><tspan x="217.00" y="410.50" font-size="15" >−</tspan><tspan x="224.90" y="408.40" font-size="10.3" >1</tspan><tspan x="231.40" y="411.60" font-size="13.2" >)</tspan></text>
<text fill="#111"><tspan x="509.90" y="411.90" font-size="13.2" font-style="italic" >t</tspan><tspan x="519.50" y="411.60" font-size="13.2" >(</tspan><tspan x="523.50" y="411.90" font-size="13.2" font-style="italic" >ν</tspan><tspan x="530.30" y="410.50" font-size="15" >−</tspan><tspan x="538.20" y="408.40" font-size="10.3" >1</tspan><tspan x="544.70" y="411.60" font-size="13.2" >)</tspan></text>
<text fill="#e0453c"><tspan x="-1.40" y="45.00" font-size="14.2" font-family="'DejaVu Sans', 'Liberation Serif', sans-serif">⟨</tspan><tspan x="3.40" y="44.00" font-size="13.3" font-style="italic" >a</tspan><tspan x="4.80" y="42.70" font-size="12.4" >ˆ</tspan><tspan x="11.30" y="37.80" font-size="10" >†</tspan><tspan x="11.50" y="47.00" font-size="9.0" stroke="#e0453c" stroke-width="0.18">1</tspan><tspan x="17.30" y="44.00" font-size="13.3" font-style="italic" >a</tspan><tspan x="18.70" y="42.70" font-size="12.4" >ˆ</tspan><tspan x="24.70" y="45.50" font-size="9.0" stroke="#e0453c" stroke-width="0.18">1</tspan><tspan x="30.20" y="45.00" font-size="14.2" font-family="'DejaVu Sans', 'Liberation Serif', sans-serif">⟩</tspan></text>
<text fill="#4a53b5"><tspan x="0.00" y="69.60" font-size="14.2" font-family="'DejaVu Sans', 'Liberation Serif', sans-serif">⟨</tspan><tspan x="5.00" y="69.30" font-size="13.3" font-style="italic" >b</tspan><tspan x="5.90" y="65.80" font-size="12.4" >ˆ</tspan><tspan x="11.30" y="64.20" font-size="10" >†</tspan><tspan x="11.50" y="72.30" font-size="9.0" stroke="#4a53b5" stroke-width="0.18">1</tspan><tspan x="16.90" y="69.30" font-size="13.3" font-style="italic" >b</tspan><tspan x="17.80" y="65.80" font-size="12.4" >ˆ</tspan><tspan x="22.90" y="70.80" font-size="9.0" stroke="#4a53b5" stroke-width="0.18">1</tspan><tspan x="28.40" y="69.60" font-size="14.2" font-family="'DejaVu Sans', 'Liberation Serif', sans-serif">⟩</tspan></text>
<text fill="#e0453c"><tspan x="-1.40" y="239.30" font-size="14.2" font-family="'DejaVu Sans', 'Liberation Serif', sans-serif">⟨</tspan><tspan x="3.40" y="238.30" font-size="13.3" font-style="italic" >a</tspan><tspan x="4.80" y="237.00" font-size="12.4" >ˆ</tspan><tspan x="11.30" y="232.10" font-size="10" >†</tspan><tspan x="11.50" y="241.30" font-size="9.0" stroke="#e0453c" stroke-width="0.18">2</tspan><tspan x="17.30" y="238.30" font-size="13.3" font-style="italic" >a</tspan><tspan x="18.70" y="237.00" font-size="12.4" >ˆ</tspan><tspan x="24.70" y="239.80" font-size="9.0" stroke="#e0453c" stroke-width="0.18">2</tspan><tspan x="30.20" y="239.30" font-size="14.2" font-family="'DejaVu Sans', 'Liberation Serif', sans-serif">⟩</tspan></text>
<text fill="#4a53b5"><tspan x="0.00" y="263.90" font-size="14.2" font-family="'DejaVu Sans', 'Liberation Serif', sans-serif">⟨</tspan><tspan x="5.00" y="263.60" font-size="13.3" font-style="italic" >b</tspan><tspan x="5.90" y="260.10" font-size="12.4" >ˆ</tspan><tspan x="11.30" y="258.50" font-size="10" >†</tspan><tspan x="11.50" y="266.60" font-size="9.0" stroke="#4a53b5" stroke-width="0.18">2</tspan><tspan x="16.90" y="263.60" font-size="13.3" font-style="italic" >b</tspan><tspan x="17.80" y="260.10" font-size="12.4" >ˆ</tspan><tspan x="22.90" y="265.10" font-size="9.0" stroke="#4a53b5" stroke-width="0.18">2</tspan><tspan x="28.40" y="263.90" font-size="14.2" font-family="'DejaVu Sans', 'Liberation Serif', sans-serif">⟩</tspan></text>
</svg>
</body></html>
